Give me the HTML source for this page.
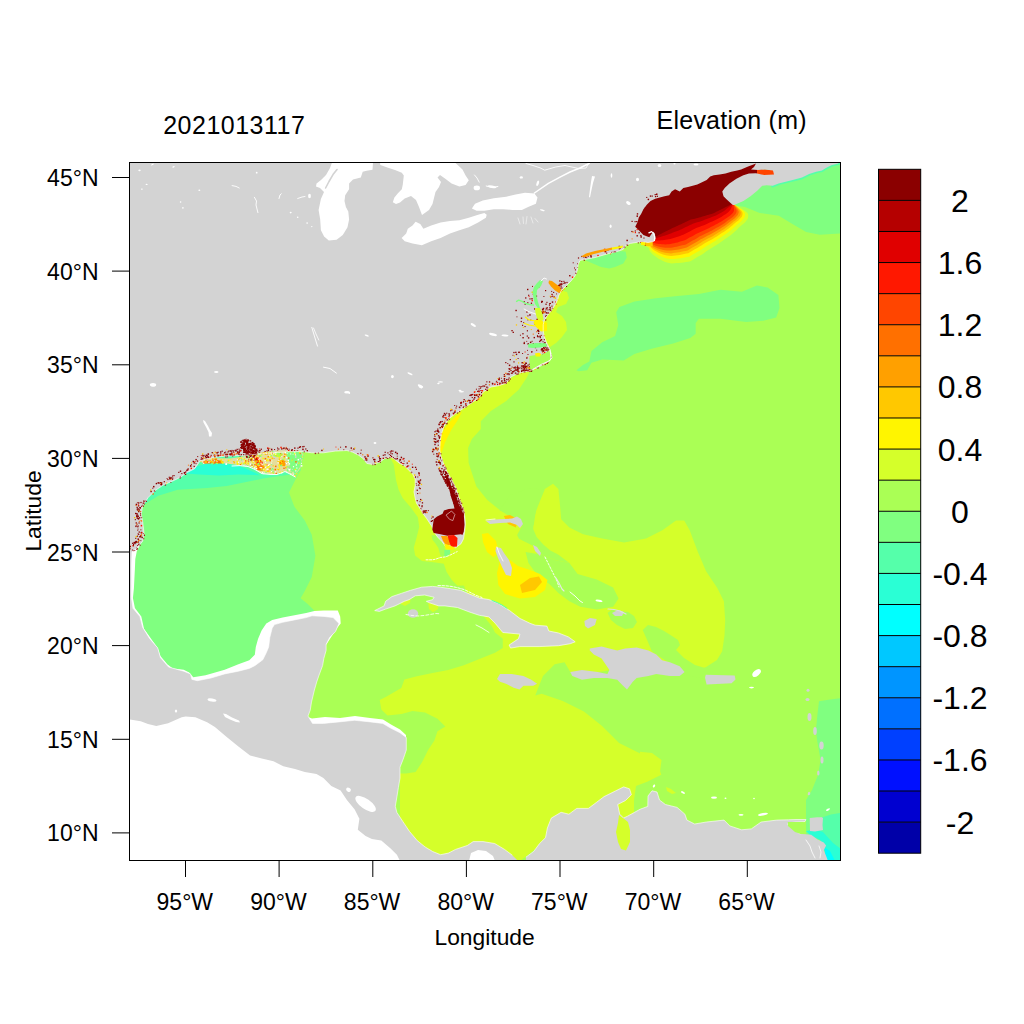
<!DOCTYPE html><html><head><meta charset="utf-8"><style>html,body{margin:0;padding:0;background:#fff;}svg{display:block;}text{font-family:"Liberation Sans",sans-serif;fill:#000;}</style></head><body>
<svg width="1024" height="1024" viewBox="0 0 1024 1024">
<rect width="1024" height="1024" fill="#fff"/>
<defs><clipPath id="pc"><rect x="130" y="163" width="710" height="697"/></clipPath></defs>
<g clip-path="url(#pc)">
<rect x="129" y="162" width="712" height="699" fill="#AAFF55"/>
<path d="M303.1 440.0 L303.1 455.2 L300.8 470.4 L297.8 475.0 L294.3 482.0 L289.0 492.5 L294.3 506.6 L304.8 520.6 L311.8 534.7 L315.4 555.8 L311.8 576.9 L304.8 591.0 L300.6 598.2 L307.4 603.7 L314.3 610.5 L300.0 640.0 L260.0 700.0 L129.0 700.0 L129.0 440.0Z" fill="#80FF80"/>
<path d="M576.4 370.2 L582.9 364.9 L589.3 361.6 L591.5 350.9 L602.2 342.3 L615.1 335.9 L618.3 325.1 L616.2 312.2 L619.4 306.9 L634.4 301.5 L655.9 298.3 L677.4 296.1 L698.9 294.0 L720.4 289.7 L741.9 291.8 L756.9 285.4 L767.6 287.5 L778.4 295.0 L779.5 307.9 L776.2 317.6 L763.3 320.8 L746.2 321.9 L720.4 318.7 L698.9 318.7 L695.7 323.0 L695.7 333.7 L690.3 338.0 L673.1 343.4 L651.6 348.7 L634.4 354.1 L623.7 360.6 L602.2 359.5 L591.5 362.7 L587.2 370.2 L578.6 371.3Z" fill="#80FF80"/>
<path d="M585.8 258.7 L595.2 257.5 L609.2 254.0 L618.6 251.1 L625.6 251.6 L626.8 257.5 L623.3 263.4 L615.1 266.9 L609.2 268.6 L601.0 266.9 L592.8 263.4 L585.8 260.4Z" fill="#80FF80"/>
<path d="M732.0 205.0 L745.0 207.0 L759.6 213.0 L778.8 215.7 L792.4 223.9 L806.1 232.1 L819.8 234.8 L841.0 233.5 L841.0 162.0 L760.0 162.0Z" fill="#80FF80"/>
<path d="M819.0 701.3 L828.4 699.7 L841.0 698.0 L841.0 840.0 L806.0 840.0 L806.0 800.0 L812.0 790.0 L818.0 775.0 L820.6 760.0 L817.0 740.0 L816.0 729.4 L817.5 713.8Z" fill="#80FF80"/>
<path d="M134.0 520.0 L142.7 505.5 L158.3 495.7 L177.8 489.8 L207.1 487.9 L226.7 485.9 L246.2 482.0 L265.7 478.1 L285.3 475.2 L295.0 474.2 L295.0 450.0 L134.0 450.0Z" fill="#55FFAA"/>
<path d="M185.6 472.3 L195.0 467.0 L207.1 463.5 L220.8 462.5 L238.4 465.4 L254.0 472.3 L259.9 475.2 L238.4 474.4 L218.8 475.4 L199.3 474.4 L185.6 473.4Z" fill="#2AFFD5"/>
<path d="M540.0 365.0 L530.3 370.5 L526.5 378.1 L518.9 389.5 L506.2 400.9 L490.9 411.1 L480.8 421.2 L480.8 428.9 L471.9 439.0 L468.1 447.9 L468.6 462.7 L470.9 470.0 L476.4 486.4 L487.3 500.1 L501.0 511.0 L514.7 519.2 L528.4 532.9 L533.8 524.7 L536.6 505.5 L544.8 489.1 L553.0 483.7 L558.4 489.1 L559.8 502.8 L561.2 519.2 L569.4 527.4 L583.1 534.3 L602.2 538.4 L624.1 542.5 L646.0 538.4 L662.4 530.2 L676.0 520.6 L684.2 520.6 L689.7 530.2 L697.9 552.0 L706.1 571.2 L717.0 587.6 L723.9 601.3 L725.2 620.4 L724.5 635.6 L722.2 651.3 L717.0 660.0 L706.1 666.9 L692.4 672.4 L684.6 672.0 L640.0 665.0 L582.0 675.0 L570.3 672.0 L564.5 662.3 L554.7 664.2 L543.0 675.9 L535.2 695.5 L541.7 693.8 L562.8 700.9 L583.9 711.4 L601.5 725.5 L619.1 743.1 L640.2 753.6 L657.8 764.2 L661.3 774.7 L647.2 781.7 L636.0 786.0 L634.0 800.0 L634.0 815.0 L620.0 830.0 L560.0 830.0 L520.0 861.0 L470.0 861.0 L420.0 850.0 L400.0 820.0 L400.0 773.4 L406.3 773.4 L415.6 771.9 L421.9 762.5 L428.1 750.0 L434.4 740.6 L437.5 731.3 L445.3 726.6 L437.5 718.8 L425.0 712.5 L412.5 710.9 L401.6 714.1 L387.5 715.6 L381.3 709.4 L379.7 700.0 L385.7 697.0 L401.3 688.0 L404.4 679.4 L416.9 676.3 L432.5 673.1 L448.1 670.0 L463.8 665.3 L479.4 659.1 L495.0 652.8 L502.8 648.1 L502.8 638.8 L495.0 632.5 L491.9 626.3 L470.0 600.0 L463.8 585.6 L457.5 585.7 L452.0 580.2 L446.6 572.0 L443.8 563.8 L435.6 562.5 L422.0 561.1 L415.1 555.6 L413.8 547.4 L416.5 537.9 L419.2 526.9 L417.9 517.3 L411.0 507.8 L402.8 498.2 L398.7 490.0 L396.0 480.0 L393.8 464.5 L390.2 457.5 L420.0 440.0 L460.0 400.0Z" fill="#D5FF2A"/>
<path d="M525.6 552.0 L542.0 554.8 L555.7 560.2 L569.4 563.0 L577.6 573.9 L596.7 579.4 L613.1 587.6 L618.6 598.5 L613.1 606.7 L596.7 609.5 L580.3 606.7 L569.4 601.3 L558.4 593.1 L550.2 584.8 L536.6 573.9 L528.4 563.0Z" fill="#AAFF55"/>
<path d="M431.4 535.2 L437.3 535.2 L441.4 539.3 L444.3 544.6 L444.9 549.3 L448.1 550.9 L450.1 549.3 L450.1 552.8 L447.8 556.3 L444.3 557.5 L440.8 556.3 L439.6 552.8 L438.4 548.1 L435.5 543.4 L432.6 539.9Z" fill="#AAFF55"/>
<path d="M444.3 549.9 L450.1 549.9 L450.1 554.0 L447.0 556.3 L444.3 556.0Z" fill="#80FF80"/>
<path d="M607.6 613.0 L612.0 609.5 L620.0 611.0 L628.0 612.0 L634.0 616.0 L637.0 622.0 L633.0 628.0 L625.0 629.0 L617.0 625.0 L611.0 620.0Z" fill="#AAFF55"/>
<path d="M642.7 630.0 L648.0 625.0 L656.0 627.0 L664.0 631.0 L672.0 636.0 L678.0 640.0 L680.0 645.0 L676.0 650.0 L684.0 658.0 L695.0 665.0 L705.0 668.0 L712.0 671.0 L712.0 680.0 L684.6 675.0 L672.0 664.5 L660.0 657.0 L652.0 651.6 L648.0 642.0Z" fill="#AAFF55"/>
<path d="M401.0 600.0 L406.0 597.5 L410.6 598.5 L410.0 603.0 L405.0 606.0 L401.0 604.0Z" fill="#D5FF2A"/>
<path d="M428.0 601.5 L434.0 601.0 L438.8 603.0 L438.0 609.0 L433.0 612.2 L429.0 609.0Z" fill="#D5FF2A"/>
<path d="M499.5 510.5 L505.0 511.5 L512.0 513.5 L518.0 517.0 L523.0 524.2 L517.1 534.9 L519.0 538.8 L524.9 541.8 L538.6 548.6 L545.0 552.0 L558.1 554.5 L550.3 550.5 L543.5 544.7 L536.6 536.9 L533.2 529.1 L533.7 519.3 L536.6 509.5 L540.5 499.8 L544.5 490.0 L530.0 488.0 L510.0 495.0Z" fill="#AAFF55"/>
<path d="M538.6 548.6 L558.1 554.5 L569.4 563.0 L555.7 560.2 L542.0 554.8 L536.0 553.0Z" fill="#AAFF55"/>
<path d="M560.0 290.0 L567.0 292.0 L569.0 298.0 L566.0 304.0 L558.0 307.0 L556.0 312.0 L562.0 316.0 L566.0 322.0 L567.0 330.0 L562.0 337.0 L556.0 343.0 L550.0 347.0 L545.0 345.0 L543.0 335.0 L545.0 315.0 L552.0 300.0Z" fill="#D5FF2A"/>
<path d="M640.0 751.7 L652.0 753.0 L661.5 760.0 L660.0 772.0 L650.0 780.0 L640.0 781.0Z" fill="#D5FF2A"/>
<path d="M462.2 411.2 L457.5 420.6 L451.2 430.0 L445.0 442.5 L441.9 451.9 L440.3 453.4 L438.8 445.6 L441.9 433.1 L448.1 423.8 L455.9 416.0Z" fill="#FFF500"/>
<path d="M481.9 534.0 L488.0 533.0 L496.0 541.0 L498.3 550.0 L494.0 557.5 L487.0 552.0 L483.0 542.0Z" fill="#FFF500"/>
<path d="M500.0 560.0 L510.0 560.0 L518.0 566.0 L530.0 570.0 L540.0 574.0 L547.5 580.0 L545.0 590.0 L535.0 597.0 L520.0 598.5 L505.0 594.0 L498.3 585.0 L497.0 573.0Z" fill="#FFF500"/>
<path d="M520.0 585.0 L530.0 578.0 L539.0 576.6 L542.0 582.0 L535.0 590.0 L522.0 593.0Z" fill="#FFC800"/>
<path d="M503.8 516.0 L510.0 515.0 L517.4 519.0 L516.0 527.4 L508.0 524.0Z" fill="#FFC800"/>
<path d="M534.4 321.0 L541.0 319.0 L547.1 323.0 L546.0 330.5 L538.0 331.0 L534.4 326.0Z" fill="#FFF500"/>
<path d="M734.5 204.7 L736.6 205.9 L738.7 207.0 L740.7 208.3 L742.8 209.5 L744.8 210.8 L746.7 212.2 L748.1 214.1 L748.3 216.3 L747.8 218.7 L746.4 220.6 L744.9 222.5 L743.1 224.0 L741.2 225.6 L739.5 227.1 L737.8 228.8 L736.1 230.5 L734.3 232.1 L732.4 233.7 L730.6 235.2 L728.7 236.6 L726.7 237.9 L724.7 239.3 L722.8 240.7 L720.9 242.1 L718.9 243.5 L716.9 244.8 L714.8 246.0 L712.8 247.3 L710.8 248.6 L708.8 249.8 L706.7 251.1 L704.8 252.5 L702.8 253.9 L700.8 255.2 L698.7 256.3 L696.6 257.5 L694.6 258.7 L692.6 260.1 L690.6 261.3 L688.2 261.7 L685.9 262.1 L683.5 262.5 L681.1 262.8 L678.8 263.0 L676.4 263.1 L674.0 263.3 L671.6 263.4 L669.2 262.9 L666.9 262.4 L664.6 261.7 L662.5 260.7 L660.3 259.6 L658.2 258.5 L656.3 257.1 L654.4 255.7 L652.5 254.2 L650.9 252.4 L649.5 250.5 L648.9 248.2 L646.0 246.0 L630.0 235.0 L640.0 190.0 L700.0 170.0 L745.0 162.0 L762.0 162.0 L762.0 176.0 L745.0 195.0Z" fill="#D5FF2A"/>
<path d="M734.2 204.6 L735.9 205.7 L737.5 206.8 L739.2 208.0 L740.8 209.1 L742.4 210.3 L743.9 211.7 L745.0 213.4 L745.0 215.4 L744.4 217.6 L743.0 219.3 L741.5 221.0 L739.8 222.5 L738.0 223.9 L736.3 225.4 L734.6 226.9 L733.0 228.4 L731.3 229.9 L729.5 231.3 L727.7 232.7 L725.8 233.9 L723.9 235.2 L722.1 236.5 L720.2 237.7 L718.3 239.0 L716.4 240.3 L714.5 241.4 L712.5 242.6 L710.6 243.7 L708.6 244.9 L706.7 246.0 L704.7 247.2 L702.9 248.5 L701.0 249.8 L699.1 251.0 L697.1 252.1 L695.1 253.2 L693.1 254.3 L691.2 255.5 L689.3 256.7 L687.1 257.1 L684.8 257.5 L682.6 257.9 L680.4 258.3 L678.1 258.5 L675.9 258.7 L673.6 258.9 L671.4 259.1 L669.2 258.8 L667.0 258.4 L664.8 257.9 L662.8 257.1 L660.7 256.3 L658.7 255.3 L656.9 254.2 L655.0 253.0 L653.2 251.9 L651.7 250.3 L650.3 248.8 L649.6 246.8 L646.0 246.0 L630.0 235.0 L640.0 190.0 L700.0 170.0 L745.0 162.0 L762.0 162.0 L762.0 176.0 L745.0 195.0Z" fill="#FFF500"/>
<path d="M734.0 204.5 L735.3 205.6 L736.7 206.6 L738.0 207.7 L739.3 208.9 L740.6 210.0 L741.8 211.3 L742.6 212.9 L742.5 214.7 L741.8 216.7 L740.4 218.3 L739.0 219.9 L737.3 221.3 L735.6 222.6 L733.9 224.0 L732.3 225.4 L730.6 226.8 L729.0 228.2 L727.2 229.5 L725.5 230.8 L723.7 231.9 L721.8 233.1 L720.0 234.3 L718.2 235.5 L716.4 236.7 L714.5 237.8 L712.7 238.9 L710.8 239.9 L708.9 241.0 L707.0 242.0 L705.1 243.1 L703.2 244.2 L701.4 245.4 L699.6 246.6 L697.7 247.8 L695.8 248.8 L693.9 249.8 L692.0 250.9 L690.2 252.1 L688.3 253.2 L686.2 253.6 L684.1 254.1 L681.9 254.5 L679.8 254.9 L677.7 255.2 L675.5 255.4 L673.4 255.7 L671.2 255.9 L669.1 255.7 L667.0 255.4 L664.9 255.0 L663.0 254.4 L661.0 253.7 L659.1 252.9 L657.3 252.0 L655.5 251.0 L653.8 250.0 L652.3 248.8 L650.9 247.5 L650.2 245.8 L646.0 246.0 L630.0 235.0 L640.0 190.0 L700.0 170.0 L745.0 162.0 L762.0 162.0 L762.0 176.0 L745.0 195.0Z" fill="#FFC800"/>
<path d="M733.8 204.5 L734.9 205.5 L736.0 206.5 L737.1 207.5 L738.1 208.6 L739.2 209.7 L740.1 210.9 L740.8 212.5 L740.5 214.2 L739.8 216.0 L738.4 217.6 L737.0 219.1 L735.3 220.4 L733.6 221.6 L732.0 222.9 L730.4 224.3 L728.8 225.6 L727.1 226.8 L725.4 228.1 L723.8 229.3 L722.0 230.3 L720.2 231.4 L718.4 232.5 L716.6 233.7 L714.9 234.8 L713.1 235.9 L711.2 236.9 L709.4 237.8 L707.5 238.8 L705.7 239.8 L703.8 240.8 L702.0 241.8 L700.3 243.0 L698.5 244.1 L696.7 245.2 L694.8 246.2 L693.0 247.2 L691.1 248.2 L689.3 249.4 L687.6 250.5 L685.5 250.9 L683.5 251.3 L681.4 251.8 L679.4 252.2 L677.3 252.5 L675.2 252.8 L673.2 253.1 L671.1 253.4 L669.1 253.2 L667.0 253.1 L665.0 252.8 L663.1 252.2 L661.2 251.7 L659.4 251.0 L657.7 250.2 L655.9 249.5 L654.2 248.6 L652.7 247.5 L651.3 246.4 L650.6 245.0 L646.0 246.0 L630.0 235.0 L640.0 190.0 L700.0 170.0 L745.0 162.0 L762.0 162.0 L762.0 176.0 L745.0 195.0Z" fill="#FFA000"/>
<path d="M733.6 204.4 L734.5 205.4 L735.3 206.4 L736.1 207.3 L736.9 208.4 L737.7 209.4 L738.3 210.6 L738.8 212.0 L738.4 213.6 L737.6 215.3 L736.2 216.7 L734.8 218.2 L733.2 219.4 L731.6 220.6 L730.0 221.8 L728.4 223.1 L726.8 224.3 L725.2 225.4 L723.6 226.5 L721.9 227.6 L720.1 228.7 L718.4 229.7 L716.7 230.7 L715.0 231.7 L713.2 232.8 L711.5 233.8 L709.7 234.7 L707.9 235.6 L706.1 236.5 L704.3 237.5 L702.5 238.4 L700.7 239.3 L699.0 240.4 L697.3 241.5 L695.6 242.5 L693.8 243.5 L692.0 244.4 L690.2 245.4 L688.5 246.5 L686.7 247.5 L684.8 248.0 L682.8 248.4 L680.8 248.9 L678.9 249.4 L676.9 249.7 L674.9 250.0 L672.9 250.3 L671.0 250.6 L669.0 250.6 L667.1 250.5 L665.2 250.3 L663.3 249.9 L661.5 249.5 L659.7 249.0 L658.0 248.4 L656.3 247.8 L654.7 247.1 L653.2 246.2 L651.9 245.3 L651.0 244.2 L646.0 246.0 L630.0 235.0 L640.0 190.0 L700.0 170.0 L745.0 162.0 L762.0 162.0 L762.0 176.0 L745.0 195.0Z" fill="#FF7000"/>
<path d="M733.4 204.3 L734.0 205.3 L734.5 206.2 L735.0 207.1 L735.5 208.1 L736.0 209.1 L736.5 210.2 L736.6 211.5 L736.2 213.0 L735.3 214.6 L733.9 215.9 L732.5 217.2 L731.0 218.3 L729.4 219.4 L727.8 220.6 L726.3 221.8 L724.8 222.9 L723.2 223.9 L721.5 224.9 L719.9 225.9 L718.2 226.9 L716.5 227.8 L714.8 228.8 L713.2 229.7 L711.5 230.7 L709.8 231.6 L708.1 232.5 L706.3 233.3 L704.6 234.1 L702.8 234.9 L701.1 235.8 L699.4 236.6 L697.7 237.7 L696.1 238.7 L694.4 239.7 L692.6 240.6 L690.9 241.5 L689.2 242.4 L687.5 243.4 L685.9 244.4 L684.0 244.9 L682.1 245.3 L680.2 245.8 L678.4 246.3 L676.5 246.7 L674.6 247.0 L672.7 247.4 L670.8 247.8 L669.0 247.8 L667.1 247.8 L665.3 247.7 L663.5 247.5 L661.8 247.2 L660.1 246.9 L658.4 246.4 L656.8 246.0 L655.2 245.5 L653.8 244.8 L652.4 244.2 L651.5 243.2 L646.0 246.0 L630.0 235.0 L640.0 190.0 L700.0 170.0 L745.0 162.0 L762.0 162.0 L762.0 176.0 L745.0 195.0Z" fill="#FF4500"/>
<path d="M733.2 204.2 L733.4 205.1 L733.5 206.0 L733.7 206.9 L733.8 207.8 L734.0 208.7 L734.0 209.7 L733.9 210.9 L733.3 212.2 L732.3 213.6 L731.0 214.7 L729.6 215.9 L728.1 217.0 L726.6 218.0 L725.1 219.0 L723.6 220.1 L722.1 221.0 L720.5 221.9 L718.9 222.8 L717.4 223.7 L715.7 224.6 L714.1 225.4 L712.5 226.2 L710.9 227.1 L709.2 227.9 L707.6 228.7 L706.0 229.5 L704.3 230.2 L702.6 231.0 L700.9 231.7 L699.3 232.4 L697.6 233.2 L696.0 234.1 L694.4 235.1 L692.8 236.0 L691.2 236.8 L689.5 237.6 L687.9 238.5 L686.3 239.4 L684.7 240.3 L683.0 240.8 L681.2 241.3 L679.4 241.8 L677.7 242.4 L675.9 242.8 L674.1 243.2 L672.4 243.6 L670.6 244.0 L668.9 244.2 L667.1 244.3 L665.4 244.4 L663.8 244.3 L662.1 244.2 L660.5 244.1 L658.9 243.9 L657.4 243.7 L655.8 243.4 L654.4 243.0 L653.1 242.6 L652.1 242.0 L646.0 246.0 L630.0 235.0 L640.0 190.0 L700.0 170.0 L745.0 162.0 L762.0 162.0 L762.0 176.0 L745.0 195.0Z" fill="#FF1800"/>
<path d="M732.8 204.1 L732.5 204.9 L732.2 205.7 L731.8 206.5 L731.5 207.3 L731.1 208.1 L730.7 209.0 L730.2 210.0 L729.3 211.1 L728.2 212.2 L726.9 213.2 L725.6 214.2 L724.1 215.1 L722.7 216.0 L721.3 216.9 L719.8 217.8 L718.4 218.5 L716.9 219.3 L715.4 220.0 L713.9 220.7 L712.3 221.4 L710.8 222.1 L709.2 222.8 L707.7 223.5 L706.2 224.2 L704.6 224.9 L703.1 225.5 L701.5 226.1 L699.9 226.7 L698.3 227.3 L696.8 227.8 L695.2 228.5 L693.7 229.3 L692.2 230.1 L690.7 230.9 L689.2 231.7 L687.7 232.4 L686.2 233.2 L684.7 234.0 L683.2 234.8 L681.6 235.3 L680.0 235.9 L678.4 236.4 L676.8 237.0 L675.2 237.4 L673.6 237.9 L672.0 238.4 L670.4 238.9 L668.8 239.2 L667.2 239.6 L665.6 239.8 L664.1 240.0 L662.6 240.2 L661.1 240.3 L659.6 240.4 L658.1 240.5 L656.7 240.5 L655.4 240.5 L654.1 240.5 L653.0 240.4 L646.0 246.0 L630.0 235.0 L640.0 190.0 L700.0 170.0 L745.0 162.0 L762.0 162.0 L762.0 176.0 L745.0 195.0Z" fill="#E00000"/>
<path d="M732.5 204.0 L731.6 204.7 L730.8 205.4 L729.9 206.1 L729.1 206.9 L728.2 207.6 L727.3 208.3 L726.4 209.1 L725.3 210.0 L724.1 210.9 L722.8 211.7 L721.5 212.5 L720.1 213.2 L718.8 214.0 L717.4 214.7 L716.1 215.4 L714.6 216.0 L713.2 216.6 L711.8 217.1 L710.3 217.7 L708.9 218.2 L707.4 218.7 L706.0 219.3 L704.5 219.8 L703.1 220.4 L701.6 220.9 L700.2 221.4 L698.7 221.9 L697.2 222.3 L695.7 222.8 L694.2 223.2 L692.8 223.7 L691.4 224.4 L690.0 225.1 L688.6 225.8 L687.2 226.4 L685.8 227.1 L684.4 227.8 L683.0 228.5 L681.6 229.2 L680.2 229.8 L678.7 230.4 L677.3 230.9 L675.8 231.5 L674.4 232.1 L673.0 232.6 L671.5 233.2 L670.1 233.8 L668.7 234.3 L667.3 234.8 L665.8 235.2 L664.5 235.7 L663.1 236.1 L661.7 236.5 L660.3 236.9 L658.9 237.3 L657.6 237.7 L656.3 238.0 L655.0 238.4 L653.9 238.8 L646.0 246.0 L630.0 235.0 L640.0 190.0 L700.0 170.0 L745.0 162.0 L762.0 162.0 L762.0 176.0 L745.0 195.0Z" fill="#B50000"/>
<path d="M732.2 203.9 L730.9 204.5 L729.6 205.2 L728.3 205.8 L727.1 206.5 L725.8 207.1 L724.5 207.8 L723.2 208.4 L721.9 209.1 L720.6 209.7 L719.3 210.3 L718.1 211.0 L716.8 211.6 L715.5 212.3 L714.2 212.9 L712.9 213.5 L711.5 213.9 L710.1 214.3 L708.7 214.7 L707.4 215.1 L706.0 215.5 L704.6 215.9 L703.2 216.3 L701.8 216.8 L700.5 217.2 L699.1 217.6 L697.7 218.0 L696.3 218.3 L694.9 218.7 L693.5 219.0 L692.1 219.3 L690.7 219.6 L689.4 220.2 L688.1 220.8 L686.8 221.5 L685.5 222.1 L684.2 222.7 L682.9 223.3 L681.6 223.9 L680.3 224.5 L679.0 225.1 L677.7 225.7 L676.4 226.3 L675.1 226.9 L673.8 227.5 L672.5 228.1 L671.2 228.8 L669.9 229.4 L668.6 230.0 L667.3 230.7 L666.0 231.3 L664.7 232.0 L663.5 232.6 L662.2 233.3 L660.9 233.9 L659.6 234.6 L658.3 235.2 L657.1 235.9 L655.8 236.7 L654.6 237.4 L646.0 246.0 L630.0 235.0 L640.0 190.0 L700.0 170.0 L745.0 162.0 L762.0 162.0 L762.0 176.0 L745.0 195.0Z" fill="#8B0000"/>
<path d="M757.0 169.3 L765.0 169.3 L774.5 170.3 L774.5 175.0 L765.0 175.3 L757.0 174.0Z" fill="#FF4500"/>
<path d="M772.7 185.8 L778.6 183.4 L785.6 181.7 L792.7 179.9 L802.0 177.6 L809.1 174.1 L816.1 171.7 L822.0 170.5 L825.5 168.2 L831.3 165.3 L838.4 163.5" fill="none" stroke="#55FFAA" stroke-width="3.2" stroke-linejoin="round" stroke-linecap="round"/>
<path d="M645.7 241.2 L652.7 241.5 L652.7 246.3 L645.7 246.0Z" fill="#FFC800"/>
<path d="M641.0 242.0 L645.7 241.8 L645.7 245.6 L641.0 245.0Z" fill="#FFF500"/>
<path d="M129.0 719.3 L140.7 721.3 L148.0 724.0 L156.3 726.1 L168.1 723.2 L181.7 717.3 L185.6 716.4 L195.4 717.3 L207.1 722.2 L214.9 727.1 L226.7 736.9 L238.4 746.6 L250.1 755.4 L261.8 758.4 L273.5 761.3 L283.3 766.2 L295.0 769.1 L304.8 772.0 L316.5 774.0 L323.4 778.1 L331.3 785.9 L340.6 790.6 L346.9 800.0 L354.7 809.4 L359.4 818.8 L357.8 829.7 L365.6 835.9 L371.9 839.1 L381.3 840.6 L390.6 848.4 L396.9 854.7 L400.0 861.0 L129.0 861.0Z" fill="#FFFFFF" stroke="#FFFFFF" stroke-width="2.5" stroke-linejoin="round"/>
<path d="M140.0 545.0 L136.8 551.3 L135.3 559.0 L134.9 568.8 L134.4 578.6 L133.9 588.4 L132.9 598.1 L134.9 607.9 L141.3 616.5 L144.0 628.8 L150.9 638.4 L157.7 647.9 L160.4 656.1 L167.3 664.3 L172.8 668.4 L183.7 669.8 L189.2 672.5 L193.3 677.3 L205.6 675.3 L224.7 669.8 L238.4 664.3 L249.3 660.2 L254.8 654.8 L255.8 646.9 L258.1 638.7 L261.6 630.5 L266.3 623.4 L272.2 619.9 L282.7 617.6 L294.5 615.2 L306.2 612.9 L314.4 611.1 L323.8 610.5 L337.8 610.5 L340.2 616.4 L340.7 623.4 L337.0 628.0 L326.0 645.0 L250.0 700.0 L129.0 700.0 L129.0 545.0Z" fill="#FFFFFF"/>
<path d="M305.0 716.0 L312.0 718.5 L325.0 717.0 L340.0 718.0 L355.0 716.0 L370.0 718.0 L383.0 719.5 L391.0 724.5 L400.0 729.5 L406.0 735.0 L406.0 745.0 L300.0 745.0Z" fill="#FFFFFF"/>
<path d="M129.0 162.0 L838.4 162.0 L838.4 163.5 L831.3 165.3 L825.5 168.2 L822.0 170.5 L816.1 171.7 L809.1 174.1 L802.0 177.6 L792.7 179.9 L785.6 181.7 L778.6 183.4 L772.7 185.8 L766.9 185.2 L762.2 185.8 L757.5 190.5 L750.5 196.3 L743.4 201.0 L734.1 205.1 L732.9 205.1 L731.7 204.0 L727.0 199.8 L723.5 196.3 L722.3 191.6 L724.7 188.1 L729.4 183.4 L736.4 178.8 L743.4 175.2 L749.0 173.5 L756.0 173.3 L764.0 175.0 L774.0 174.6 L773.0 170.5 L765.0 169.5 L758.0 170.0 L751.0 169.5 L754.0 167.0 L756.0 163.5 L752.8 164.7 L748.1 166.4 L741.1 169.4 L737.2 170.5 L731.3 171.7 L725.5 173.5 L719.6 174.6 L713.8 175.2 L710.2 176.4 L706.7 179.9 L702.0 182.3 L697.3 184.6 L692.7 185.8 L688.0 187.0 L683.3 188.1 L679.8 191.6 L675.1 189.3 L671.6 191.6 L669.2 195.2 L664.5 196.3 L659.8 197.5 L655.2 198.7 L650.5 201.0 L647.0 204.5 L643.4 209.2 L641.1 213.9 L638.8 217.4 L637.6 222.1 L635.2 226.8 L638.8 230.3 L643.4 235.0 L649.3 237.3 L651.5 234.0 L653.5 231.8 L655.0 234.0 L655.3 238.5 L653.5 241.5 L648.0 242.5 L642.0 241.5 L630.3 243.4 L625.6 245.5 L623.3 249.3 L618.6 251.1 L606.9 254.0 L595.2 257.5 L580.0 260.4 L578.2 264.5 L577.5 270.0 L575.0 276.0 L571.0 281.0 L566.0 286.0 L561.0 291.0 L558.5 296.0 L557.9 299.3 L554.9 305.2 L551.0 311.0 L547.1 315.9 L544.2 320.8 L543.2 324.7 L543.2 330.5 L544.2 336.4 L546.1 341.3 L548.1 347.1 L551.0 353.0 L552.0 357.9 L549.1 360.8 L544.3 364.1 L534.1 369.2 L529.0 371.1 L518.9 373.0 L511.2 376.8 L506.2 383.2 L498.6 385.7 L490.9 387.0 L483.3 392.0 L478.2 398.4 L470.6 403.5 L463.0 408.6 L455.4 413.6 L449.0 418.7 L444.0 426.3 L441.4 433.9 L440.2 441.6 L439.8 450.0 L440.6 455.1 L443.2 462.7 L447.0 471.6 L452.1 480.5 L455.9 488.1 L458.4 495.7 L460.9 503.3 L463.5 509.7 L464.7 516.0 L465.4 523.6 L464.7 531.3 L463.5 538.9 L460.9 543.9 L457.1 546.5 L455.9 547.8 L450.8 547.8 L445.7 546.5 L441.9 541.4 L438.1 537.6 L434.3 532.5 L431.7 526.2 L429.2 522.4 L426.7 518.6 L422.9 513.5 L419.0 507.1 L416.5 503.3 L415.2 498.2 L414.0 491.9 L415.2 485.5 L415.2 479.2 L412.7 474.1 L408.9 470.3 L403.8 465.2 L399.6 463.4 L393.8 458.7 L390.2 456.9 L384.4 458.7 L379.7 462.2 L372.7 464.5 L366.8 463.4 L363.3 458.7 L358.6 455.2 L352.7 452.2 L346.9 450.5 L335.2 451.1 L323.4 452.8 L311.7 452.8 L303.1 451.6 L293.8 451.6 L270.3 452.8 L246.9 455.2 L223.4 456.3 L210.0 458.0 L200.0 461.0 L194.7 468.7 L186.5 472.8 L181.0 476.9 L172.8 481.0 L163.2 485.1 L155.0 490.6 L148.2 497.5 L142.7 505.7 L141.3 513.9 L142.7 522.1 L144.0 533.0 L142.7 541.2 L137.0 548.0 L132.0 552.0 L131.5 565.0 L131.5 580.0 L131.3 597.3 L133.0 608.3 L139.9 616.5 L142.7 627.4 L149.5 638.4 L157.7 647.9 L160.4 657.5 L168.6 667.1 L183.7 671.2 L190.5 673.9 L191.9 679.4 L197.4 680.7 L211.0 678.0 L224.7 673.9 L238.4 671.2 L249.3 668.4 L254.8 665.7 L262.8 659.8 L266.3 652.7 L268.7 646.9 L269.8 637.5 L272.2 628.1 L274.5 624.6 L282.7 622.3 L294.5 619.9 L306.2 617.6 L312.0 615.8 L323.8 616.4 L333.1 617.6 L339.0 623.4 L335.5 631.6 L329.6 637.5 L326.1 644.5 L326.1 650.4 L323.8 658.6 L322.6 665.6 L319.1 675.0 L316.7 682.0 L314.4 690.0 L311.5 702.1 L310.2 710.3 L308.0 716.0 L312.5 723.4 L323.4 723.4 L339.0 721.9 L354.7 720.3 L370.3 721.9 L382.8 723.4 L390.6 728.1 L400.0 732.8 L406.3 737.5 L406.3 750.0 L403.1 759.4 L400.0 767.2 L400.0 778.1 L398.4 787.5 L396.9 796.9 L395.3 806.3 L396.9 812.5 L403.1 821.9 L409.4 831.3 L417.2 840.6 L425.0 846.9 L432.8 851.6 L440.6 854.7 L448.4 853.1 L455.6 849.4 L467.3 845.5 L473.2 841.6 L483.0 841.6 L494.7 843.5 L504.5 849.4 L512.3 855.2 L518.1 861.0 L400.0 861.0 L400.0 861.0 L396.9 854.7 L390.6 848.4 L381.3 840.6 L371.9 839.1 L365.6 835.9 L357.8 829.7 L359.4 818.8 L354.7 809.4 L346.9 800.0 L340.6 790.6 L331.3 785.9 L323.4 778.1 L316.5 774.0 L304.8 772.0 L295.0 769.1 L283.3 766.2 L273.5 761.3 L261.8 758.4 L250.1 755.4 L238.4 746.6 L226.7 736.9 L214.9 727.1 L207.1 722.2 L195.4 717.3 L185.6 716.4 L181.7 717.3 L168.1 723.2 L156.3 726.1 L148.0 724.0 L140.7 721.3 L129.0 719.3 L129.0 719.3Z" fill="#D3D3D3"/>
<path d="M525.9 861.0 L525.9 857.2 L533.8 851.3 L539.6 843.5 L545.5 837.7 L547.4 827.9 L551.3 818.1 L561.1 812.3 L568.9 814.2 L576.7 808.4 L588.4 808.4 L596.3 802.5 L604.1 796.6 L615.8 790.8 L623.6 786.9 L629.5 788.8 L631.4 794.7 L625.5 800.5 L617.7 804.5 L619.7 814.2 L623.6 818.1 L627.5 816.2 L640.0 809.3 L647.8 806.4 L648.0 796.0 L652.0 790.8 L657.0 792.0 L659.5 800.0 L665.4 804.5 L677.1 807.4 L684.9 814.2 L686.9 820.1 L694.7 824.0 L706.4 822.0 L724.0 820.1 L729.8 825.9 L741.6 829.8 L751.3 828.9 L761.1 822.0 L776.7 820.1 L788.4 819.8 L796.0 819.5 L806.0 819.5 L805.0 821.5 L796.0 822.0 L788.0 823.0 L787.8 825.0 L795.0 830.0 L800.0 834.0 L802.7 834.0 L790.0 861.0Z" fill="#D3D3D3"/>
<path d="M374.7 610.6 L384.1 605.9 L385.6 601.3 L391.9 596.6 L401.3 593.4 L410.6 590.3 L421.6 587.2 L432.5 586.4 L440.3 587.2 L451.3 588.8 L460.6 590.3 L470.0 594.2 L479.4 598.1 L488.8 599.5 L498.5 603.5 L509.5 610.5 L520.0 618.5 L530.0 623.3 L535.2 625.2 L546.9 626.1 L548.8 631.0 L558.6 633.0 L568.4 636.9 L575.2 641.8 L570.3 643.7 L558.6 645.7 L539.1 646.6 L519.5 646.6 L510.6 648.1 L509.1 645.0 L518.4 638.8 L520.0 634.1 L502.8 632.5 L495.0 623.1 L488.8 616.9 L479.4 615.3 L470.0 612.2 L457.5 607.5 L445.0 605.9 L438.8 605.9 L429.4 602.8 L426.3 601.3 L432.5 599.7 L434.1 597.3 L424.7 595.0 L415.3 595.8 L409.1 599.7 L404.4 601.3 L395.0 605.9 L385.6 609.1 L379.4 611.4Z" fill="#D3D3D3"/>
<ellipse cx="413" cy="613.5" rx="5.2" ry="4.3" transform="rotate(0 413 613.5)" fill="#D3D3D3"/>
<path d="M497.0 679.0 L500.0 674.0 L511.7 674.0 L523.4 675.9 L531.3 679.8 L537.1 683.8 L533.2 685.7 L523.4 685.7 L519.5 689.6 L513.7 687.7 L505.9 683.8 L500.0 681.8Z" fill="#D3D3D3"/>
<path d="M589.8 648.6 L601.6 646.6 L609.4 648.6 L617.2 650.5 L625.0 648.6 L636.7 647.6 L648.4 650.5 L656.3 654.5 L662.1 660.3 L669.9 662.3 L679.7 666.2 L684.6 672.0 L679.7 675.9 L669.9 675.9 L656.3 674.0 L648.4 675.9 L636.7 677.9 L632.8 681.8 L627.0 689.6 L623.0 685.7 L617.2 679.8 L607.4 677.9 L593.8 677.9 L582.0 679.8 L572.3 675.9 L570.3 672.0 L582.0 670.1 L597.7 672.0 L607.4 674.0 L609.4 670.1 L605.5 664.2 L601.6 658.4 L593.8 654.5 L589.8 650.5Z" fill="#D3D3D3"/>
<path d="M705.8 674.7 L734.7 675.5 L735.5 679.4 L731.6 683.3 L706.6 684.4 L705.0 677.8Z" fill="#D3D3D3"/>
<path d="M486.0 521.0 L495.0 519.5 L505.0 519.0 L512.0 518.5 L517.0 516.5 L521.0 519.0 L523.0 524.0 L520.0 528.0 L517.0 525.0 L510.0 522.5 L500.0 523.0 L490.0 524.0Z" fill="#D3D3D3"/>
<path d="M496.0 547.0 L501.0 548.0 L504.0 553.0 L509.0 560.0 L512.0 568.0 L511.0 576.0 L506.0 575.0 L502.0 567.0 L498.0 558.0 L495.5 551.0Z" fill="#D3D3D3"/>
<path d="M533.0 545.0 L537.0 547.0 L541.0 553.0 L540.0 556.0 L535.0 551.0Z" fill="#D3D3D3"/>
<path d="M584.4 621.0 L590.0 618.0 L596.7 619.0 L595.0 625.0 L588.0 628.6 L585.0 626.0Z" fill="#D3D3D3"/>
<path d="M612.0 613.0 L618.0 610.0 L624.0 612.0 L622.0 616.0 L615.0 616.0Z" fill="#D3D3D3"/>
<ellipse cx="808" cy="690.3" rx="1.5" ry="1.5" transform="rotate(0 808 690.3)" fill="#D3D3D3"/>
<ellipse cx="807.5" cy="699.6" rx="2" ry="1.5" transform="rotate(0 807.5 699.6)" fill="#D3D3D3"/>
<ellipse cx="809.5" cy="717" rx="2" ry="4" transform="rotate(0 809.5 717)" fill="#D3D3D3"/>
<ellipse cx="815" cy="731" rx="1.8" ry="4" transform="rotate(0 815 731)" fill="#D3D3D3"/>
<ellipse cx="821.5" cy="745.5" rx="2.2" ry="4" transform="rotate(0 821.5 745.5)" fill="#D3D3D3"/>
<ellipse cx="822" cy="760" rx="1.5" ry="3.5" transform="rotate(0 822 760)" fill="#D3D3D3"/>
<ellipse cx="818.3" cy="773" rx="1.2" ry="2.5" transform="rotate(0 818.3 773)" fill="#D3D3D3"/>
<path d="M811.9 818.0 L823.6 817.1 L823.0 827.0 L818.0 830.8 L812.0 830.0Z" fill="#D3D3D3"/>
<rect x="437.9" y="431.2" width="1.5" height="1.5" fill="#8B0000"/>
<rect x="437.7" y="439.9" width="1.1" height="1.1" fill="#8B0000"/>
<rect x="460.3" y="403.0" width="1.1" height="1.1" fill="#8B0000"/>
<rect x="481.0" y="391.9" width="1.3" height="1.3" fill="#8B0000"/>
<rect x="433.3" y="453.7" width="1.0" height="1.0" fill="#8B0000"/>
<rect x="537.8" y="361.0" width="1.5" height="1.5" fill="#8B0000"/>
<rect x="459.5" y="407.3" width="0.9" height="0.9" fill="#8B0000"/>
<rect x="441.0" y="425.9" width="1.4" height="1.4" fill="#FFC800"/>
<rect x="537.4" y="367.4" width="1.1" height="1.1" fill="#8B0000"/>
<rect x="476.0" y="399.6" width="1.4" height="1.4" fill="#8B0000"/>
<rect x="443.8" y="412.8" width="1.1" height="1.1" fill="#8B0000"/>
<rect x="539.2" y="357.8" width="1.2" height="1.2" fill="#8B0000"/>
<rect x="439.5" y="427.0" width="1.4" height="1.4" fill="#8B0000"/>
<rect x="497.0" y="384.1" width="1.1" height="1.1" fill="#8B0000"/>
<rect x="438.4" y="468.1" width="1.5" height="1.5" fill="#8B0000"/>
<rect x="435.1" y="441.3" width="1.0" height="1.0" fill="#8B0000"/>
<rect x="439.4" y="462.0" width="1.4" height="1.4" fill="#8B0000"/>
<rect x="438.7" y="452.2" width="1.1" height="1.1" fill="#8B0000"/>
<rect x="482.6" y="385.2" width="1.0" height="1.0" fill="#8B0000"/>
<rect x="439.2" y="436.3" width="1.0" height="1.0" fill="#8B0000"/>
<rect x="468.1" y="399.7" width="1.2" height="1.2" fill="#8B0000"/>
<rect x="456.1" y="405.6" width="1.1" height="1.1" fill="#8B0000"/>
<rect x="435.7" y="448.6" width="1.3" height="1.3" fill="#FFC800"/>
<rect x="524.8" y="366.7" width="1.5" height="1.5" fill="#8B0000"/>
<rect x="478.4" y="391.1" width="1.3" height="1.3" fill="#FF1800"/>
<rect x="476.9" y="395.6" width="0.9" height="0.9" fill="#8B0000"/>
<rect x="550.5" y="356.6" width="1.1" height="1.1" fill="#8B0000"/>
<rect x="543.5" y="342.8" width="1.3" height="1.3" fill="#8B0000"/>
<rect x="435.1" y="441.7" width="1.4" height="1.4" fill="#8B0000"/>
<rect x="469.2" y="399.9" width="1.3" height="1.3" fill="#FF1800"/>
<rect x="473.9" y="394.7" width="1.0" height="1.0" fill="#8B0000"/>
<rect x="546.6" y="343.9" width="1.4" height="1.4" fill="#8B0000"/>
<rect x="460.4" y="401.8" width="1.5" height="1.5" fill="#FF1800"/>
<rect x="525.9" y="365.9" width="1.1" height="1.1" fill="#8B0000"/>
<rect x="505.2" y="382.4" width="1.5" height="1.5" fill="#8B0000"/>
<rect x="514.7" y="366.4" width="1.1" height="1.1" fill="#8B0000"/>
<rect x="476.4" y="394.1" width="1.5" height="1.5" fill="#FF7000"/>
<rect x="524.6" y="366.5" width="1.4" height="1.4" fill="#8B0000"/>
<rect x="441.6" y="420.9" width="1.2" height="1.2" fill="#8B0000"/>
<rect x="537.2" y="360.8" width="1.0" height="1.0" fill="#8B0000"/>
<rect x="537.8" y="363.8" width="1.1" height="1.1" fill="#8B0000"/>
<rect x="495.8" y="381.5" width="1.0" height="1.0" fill="#8B0000"/>
<rect x="443.6" y="469.1" width="1.1" height="1.1" fill="#8B0000"/>
<rect x="442.5" y="423.0" width="1.4" height="1.4" fill="#FF7000"/>
<rect x="437.6" y="441.3" width="1.2" height="1.2" fill="#8B0000"/>
<rect x="535.7" y="362.7" width="1.1" height="1.1" fill="#8B0000"/>
<rect x="436.3" y="455.6" width="1.3" height="1.3" fill="#8B0000"/>
<rect x="544.4" y="342.0" width="1.1" height="1.1" fill="#8B0000"/>
<rect x="504.1" y="380.0" width="1.3" height="1.3" fill="#8B0000"/>
<rect x="440.1" y="458.4" width="0.9" height="0.9" fill="#8B0000"/>
<rect x="438.6" y="452.8" width="1.5" height="1.5" fill="#FFC800"/>
<rect x="528.5" y="366.6" width="1.2" height="1.2" fill="#8B0000"/>
<rect x="542.1" y="351.8" width="1.0" height="1.0" fill="#FF7000"/>
<rect x="444.3" y="422.7" width="1.4" height="1.4" fill="#8B0000"/>
<rect x="482.2" y="391.3" width="1.0" height="1.0" fill="#FFC800"/>
<rect x="545.5" y="343.3" width="1.1" height="1.1" fill="#8B0000"/>
<rect x="443.2" y="465.1" width="1.1" height="1.1" fill="#8B0000"/>
<rect x="448.4" y="418.5" width="1.3" height="1.3" fill="#8B0000"/>
<rect x="511.8" y="372.5" width="1.2" height="1.2" fill="#8B0000"/>
<rect x="443.1" y="414.7" width="1.3" height="1.3" fill="#8B0000"/>
<rect x="469.2" y="402.3" width="1.3" height="1.3" fill="#8B0000"/>
<rect x="437.4" y="447.6" width="1.4" height="1.4" fill="#FFC800"/>
<rect x="515.3" y="372.5" width="1.0" height="1.0" fill="#8B0000"/>
<rect x="478.7" y="394.4" width="1.0" height="1.0" fill="#FF1800"/>
<rect x="546.7" y="344.4" width="1.3" height="1.3" fill="#8B0000"/>
<rect x="435.2" y="433.9" width="1.2" height="1.2" fill="#FFC800"/>
<rect x="518.5" y="367.6" width="1.2" height="1.2" fill="#8B0000"/>
<rect x="469.3" y="394.8" width="1.2" height="1.2" fill="#8B0000"/>
<rect x="513.8" y="367.6" width="0.9" height="0.9" fill="#8B0000"/>
<rect x="523.5" y="371.5" width="1.0" height="1.0" fill="#8B0000"/>
<rect x="436.5" y="440.6" width="1.4" height="1.4" fill="#8B0000"/>
<rect x="503.7" y="378.0" width="1.5" height="1.5" fill="#8B0000"/>
<rect x="508.1" y="380.1" width="1.4" height="1.4" fill="#8B0000"/>
<rect x="435.5" y="448.3" width="1.4" height="1.4" fill="#FF7000"/>
<rect x="504.3" y="375.6" width="1.4" height="1.4" fill="#FF7000"/>
<rect x="530.4" y="370.3" width="1.4" height="1.4" fill="#8B0000"/>
<rect x="443.8" y="422.3" width="1.0" height="1.0" fill="#8B0000"/>
<rect x="503.7" y="374.0" width="1.2" height="1.2" fill="#8B0000"/>
<rect x="548.3" y="348.3" width="1.1" height="1.1" fill="#8B0000"/>
<rect x="523.2" y="365.4" width="1.5" height="1.5" fill="#8B0000"/>
<rect x="488.8" y="384.2" width="1.2" height="1.2" fill="#FF7000"/>
<rect x="444.8" y="467.2" width="1.4" height="1.4" fill="#8B0000"/>
<rect x="516.9" y="367.5" width="1.1" height="1.1" fill="#8B0000"/>
<rect x="546.5" y="347.5" width="1.1" height="1.1" fill="#8B0000"/>
<rect x="522.5" y="365.6" width="1.0" height="1.0" fill="#8B0000"/>
<rect x="438.0" y="453.5" width="1.2" height="1.2" fill="#FF1800"/>
<rect x="520.9" y="365.4" width="1.3" height="1.3" fill="#8B0000"/>
<rect x="449.1" y="414.5" width="1.0" height="1.0" fill="#8B0000"/>
<rect x="480.5" y="394.7" width="1.2" height="1.2" fill="#FF7000"/>
<rect x="545.0" y="344.5" width="1.1" height="1.1" fill="#8B0000"/>
<rect x="510.8" y="372.6" width="1.2" height="1.2" fill="#8B0000"/>
<rect x="445.6" y="417.3" width="1.2" height="1.2" fill="#FF1800"/>
<rect x="464.9" y="400.6" width="1.0" height="1.0" fill="#8B0000"/>
<rect x="458.8" y="406.6" width="1.3" height="1.3" fill="#8B0000"/>
<rect x="548.9" y="356.5" width="0.9" height="0.9" fill="#FF7000"/>
<rect x="448.8" y="414.8" width="1.0" height="1.0" fill="#8B0000"/>
<rect x="516.9" y="365.6" width="1.2" height="1.2" fill="#8B0000"/>
<rect x="437.1" y="455.8" width="1.5" height="1.5" fill="#8B0000"/>
<rect x="523.4" y="368.8" width="1.4" height="1.4" fill="#8B0000"/>
<rect x="534.6" y="360.7" width="1.3" height="1.3" fill="#8B0000"/>
<rect x="543.4" y="356.0" width="1.2" height="1.2" fill="#8B0000"/>
<rect x="503.8" y="380.4" width="1.0" height="1.0" fill="#8B0000"/>
<rect x="444.2" y="413.1" width="1.2" height="1.2" fill="#8B0000"/>
<rect x="520.9" y="372.3" width="1.1" height="1.1" fill="#FF7000"/>
<rect x="437.1" y="430.8" width="1.2" height="1.2" fill="#8B0000"/>
<rect x="550.7" y="356.6" width="0.9" height="0.9" fill="#8B0000"/>
<rect x="448.4" y="413.2" width="1.4" height="1.4" fill="#8B0000"/>
<rect x="472.2" y="400.9" width="1.0" height="1.0" fill="#8B0000"/>
<rect x="440.9" y="433.2" width="1.2" height="1.2" fill="#FF1800"/>
<rect x="514.8" y="372.7" width="1.0" height="1.0" fill="#8B0000"/>
<rect x="433.6" y="440.7" width="1.1" height="1.1" fill="#FF7000"/>
<rect x="474.0" y="397.0" width="1.4" height="1.4" fill="#8B0000"/>
<rect x="547.5" y="361.4" width="1.2" height="1.2" fill="#8B0000"/>
<rect x="472.1" y="399.9" width="1.4" height="1.4" fill="#FF1800"/>
<rect x="441.1" y="425.9" width="1.3" height="1.3" fill="#8B0000"/>
<rect x="517.8" y="373.1" width="1.2" height="1.2" fill="#8B0000"/>
<rect x="454.1" y="412.1" width="1.3" height="1.3" fill="#8B0000"/>
<rect x="480.4" y="386.0" width="1.3" height="1.3" fill="#8B0000"/>
<rect x="465.5" y="405.0" width="1.2" height="1.2" fill="#8B0000"/>
<rect x="503.9" y="379.3" width="1.0" height="1.0" fill="#8B0000"/>
<rect x="521.6" y="368.4" width="1.0" height="1.0" fill="#8B0000"/>
<rect x="454.5" y="409.8" width="1.3" height="1.3" fill="#FF7000"/>
<rect x="507.7" y="373.4" width="0.9" height="0.9" fill="#8B0000"/>
<rect x="438.5" y="423.9" width="1.4" height="1.4" fill="#8B0000"/>
<rect x="542.2" y="363.7" width="1.5" height="1.5" fill="#FF7000"/>
<rect x="444.5" y="466.7" width="1.4" height="1.4" fill="#8B0000"/>
<rect x="480.3" y="390.1" width="1.0" height="1.0" fill="#8B0000"/>
<rect x="542.8" y="345.6" width="1.4" height="1.4" fill="#8B0000"/>
<rect x="487.5" y="387.7" width="1.1" height="1.1" fill="#8B0000"/>
<rect x="437.2" y="428.5" width="1.2" height="1.2" fill="#8B0000"/>
<rect x="437.1" y="429.8" width="1.3" height="1.3" fill="#8B0000"/>
<rect x="543.4" y="358.9" width="1.2" height="1.2" fill="#8B0000"/>
<rect x="534.2" y="366.0" width="1.2" height="1.2" fill="#FFC800"/>
<rect x="503.4" y="382.1" width="1.4" height="1.4" fill="#8B0000"/>
<rect x="542.1" y="349.4" width="1.0" height="1.0" fill="#8B0000"/>
<rect x="539.0" y="359.0" width="1.0" height="1.0" fill="#FFC800"/>
<rect x="437.4" y="430.4" width="1.4" height="1.4" fill="#8B0000"/>
<rect x="505.7" y="381.4" width="1.0" height="1.0" fill="#8B0000"/>
<rect x="539.4" y="359.7" width="1.5" height="1.5" fill="#8B0000"/>
<rect x="459.0" y="410.9" width="1.2" height="1.2" fill="#8B0000"/>
<rect x="473.3" y="398.5" width="1.3" height="1.3" fill="#8B0000"/>
<rect x="442.6" y="424.1" width="1.3" height="1.3" fill="#8B0000"/>
<rect x="475.9" y="388.7" width="1.0" height="1.0" fill="#8B0000"/>
<rect x="544.3" y="355.2" width="1.2" height="1.2" fill="#8B0000"/>
<rect x="451.3" y="409.6" width="1.1" height="1.1" fill="#8B0000"/>
<rect x="497.4" y="378.0" width="1.0" height="1.0" fill="#FFC800"/>
<rect x="435.4" y="447.0" width="1.1" height="1.1" fill="#8B0000"/>
<rect x="538.0" y="361.1" width="0.9" height="0.9" fill="#8B0000"/>
<rect x="439.9" y="421.1" width="1.5" height="1.5" fill="#8B0000"/>
<rect x="437.4" y="448.5" width="1.2" height="1.2" fill="#8B0000"/>
<rect x="448.8" y="416.4" width="0.9" height="0.9" fill="#8B0000"/>
<rect x="544.1" y="361.1" width="1.0" height="1.0" fill="#8B0000"/>
<rect x="471.7" y="397.0" width="1.1" height="1.1" fill="#8B0000"/>
<rect x="481.2" y="390.1" width="1.1" height="1.1" fill="#FF1800"/>
<rect x="498.8" y="377.5" width="1.1" height="1.1" fill="#8B0000"/>
<rect x="474.4" y="391.0" width="1.1" height="1.1" fill="#FF7000"/>
<rect x="435.1" y="447.6" width="1.0" height="1.0" fill="#8B0000"/>
<rect x="434.0" y="441.2" width="1.2" height="1.2" fill="#8B0000"/>
<rect x="443.5" y="416.9" width="1.0" height="1.0" fill="#8B0000"/>
<rect x="500.9" y="377.8" width="0.9" height="0.9" fill="#8B0000"/>
<rect x="514.5" y="366.9" width="1.0" height="1.0" fill="#8B0000"/>
<rect x="547.6" y="360.5" width="1.3" height="1.3" fill="#8B0000"/>
<rect x="431.9" y="450.8" width="1.5" height="1.5" fill="#8B0000"/>
<rect x="529.4" y="369.1" width="1.0" height="1.0" fill="#8B0000"/>
<rect x="479.9" y="387.5" width="1.2" height="1.2" fill="#8B0000"/>
<rect x="543.1" y="346.6" width="1.4" height="1.4" fill="#8B0000"/>
<rect x="488.9" y="381.3" width="1.3" height="1.3" fill="#8B0000"/>
<rect x="460.4" y="404.9" width="1.3" height="1.3" fill="#8B0000"/>
<rect x="547.2" y="350.7" width="0.9" height="0.9" fill="#8B0000"/>
<rect x="460.3" y="402.0" width="1.5" height="1.5" fill="#8B0000"/>
<rect x="510.8" y="368.1" width="1.0" height="1.0" fill="#FF7000"/>
<rect x="463.5" y="399.0" width="1.3" height="1.3" fill="#8B0000"/>
<rect x="545.2" y="347.4" width="1.0" height="1.0" fill="#8B0000"/>
<rect x="436.7" y="458.9" width="0.9" height="0.9" fill="#8B0000"/>
<rect x="439.9" y="456.7" width="1.0" height="1.0" fill="#8B0000"/>
<rect x="439.5" y="436.4" width="1.2" height="1.2" fill="#8B0000"/>
<rect x="471.6" y="394.3" width="1.1" height="1.1" fill="#8B0000"/>
<rect x="523.2" y="369.8" width="1.4" height="1.4" fill="#8B0000"/>
<rect x="442.2" y="416.2" width="1.3" height="1.3" fill="#8B0000"/>
<rect x="512.4" y="371.3" width="1.2" height="1.2" fill="#8B0000"/>
<rect x="434.0" y="434.2" width="1.1" height="1.1" fill="#8B0000"/>
<rect x="516.1" y="373.9" width="1.1" height="1.1" fill="#8B0000"/>
<rect x="516.9" y="368.8" width="1.2" height="1.2" fill="#8B0000"/>
<rect x="478.3" y="398.1" width="1.5" height="1.5" fill="#FFC800"/>
<rect x="438.9" y="437.6" width="1.2" height="1.2" fill="#8B0000"/>
<rect x="442.2" y="465.3" width="1.1" height="1.1" fill="#8B0000"/>
<rect x="451.3" y="409.1" width="1.0" height="1.0" fill="#FF7000"/>
<rect x="485.4" y="383.9" width="1.1" height="1.1" fill="#8B0000"/>
<rect x="508.5" y="377.5" width="1.3" height="1.3" fill="#8B0000"/>
<rect x="463.2" y="401.0" width="1.0" height="1.0" fill="#FF1800"/>
<rect x="478.7" y="385.9" width="1.0" height="1.0" fill="#8B0000"/>
<rect x="500.1" y="383.7" width="1.1" height="1.1" fill="#FF7000"/>
<rect x="544.2" y="358.1" width="1.3" height="1.3" fill="#FFC800"/>
<rect x="436.2" y="453.1" width="1.2" height="1.2" fill="#8B0000"/>
<rect x="526.3" y="365.8" width="1.2" height="1.2" fill="#8B0000"/>
<rect x="516.5" y="367.0" width="1.1" height="1.1" fill="#8B0000"/>
<rect x="534.2" y="368.5" width="1.5" height="1.5" fill="#FFC800"/>
<rect x="486.4" y="389.5" width="1.5" height="1.5" fill="#8B0000"/>
<rect x="454.3" y="411.1" width="1.3" height="1.3" fill="#8B0000"/>
<rect x="533.4" y="363.8" width="1.2" height="1.2" fill="#FFC800"/>
<rect x="482.4" y="386.0" width="1.1" height="1.1" fill="#8B0000"/>
<rect x="492.0" y="383.2" width="1.3" height="1.3" fill="#8B0000"/>
<rect x="478.2" y="390.4" width="1.4" height="1.4" fill="#8B0000"/>
<rect x="437.7" y="444.7" width="1.1" height="1.1" fill="#8B0000"/>
<rect x="441.6" y="460.3" width="1.0" height="1.0" fill="#8B0000"/>
<rect x="473.8" y="391.5" width="1.4" height="1.4" fill="#FF1800"/>
<rect x="523.8" y="367.9" width="1.1" height="1.1" fill="#8B0000"/>
<rect x="546.1" y="344.5" width="1.2" height="1.2" fill="#8B0000"/>
<rect x="454.2" y="405.0" width="1.0" height="1.0" fill="#8B0000"/>
<rect x="526.8" y="370.2" width="1.4" height="1.4" fill="#8B0000"/>
<rect x="448.2" y="415.7" width="1.1" height="1.1" fill="#FF1800"/>
<rect x="501.2" y="380.8" width="1.0" height="1.0" fill="#8B0000"/>
<rect x="497.0" y="382.1" width="1.2" height="1.2" fill="#FF1800"/>
<rect x="529.5" y="368.9" width="1.4" height="1.4" fill="#8B0000"/>
<rect x="441.6" y="424.3" width="1.1" height="1.1" fill="#8B0000"/>
<rect x="517.2" y="368.9" width="1.3" height="1.3" fill="#8B0000"/>
<rect x="435.9" y="433.0" width="1.0" height="1.0" fill="#FF7000"/>
<rect x="455.5" y="407.4" width="1.1" height="1.1" fill="#8B0000"/>
<rect x="466.1" y="405.4" width="1.2" height="1.2" fill="#8B0000"/>
<rect x="525.3" y="367.0" width="1.4" height="1.4" fill="#8B0000"/>
<rect x="465.1" y="403.3" width="1.4" height="1.4" fill="#8B0000"/>
<rect x="507.4" y="373.2" width="1.1" height="1.1" fill="#8B0000"/>
<rect x="509.4" y="378.2" width="1.4" height="1.4" fill="#8B0000"/>
<rect x="470.5" y="394.1" width="1.4" height="1.4" fill="#8B0000"/>
<rect x="445.1" y="468.2" width="1.4" height="1.4" fill="#8B0000"/>
<rect x="478.0" y="396.2" width="1.1" height="1.1" fill="#8B0000"/>
<rect x="499.2" y="382.6" width="1.4" height="1.4" fill="#8B0000"/>
<rect x="474.0" y="394.3" width="1.1" height="1.1" fill="#FF1800"/>
<rect x="496.2" y="380.8" width="1.0" height="1.0" fill="#8B0000"/>
<rect x="477.3" y="398.3" width="1.4" height="1.4" fill="#FF1800"/>
<rect x="540.0" y="363.0" width="1.2" height="1.2" fill="#FF7000"/>
<rect x="525.2" y="369.6" width="1.5" height="1.5" fill="#8B0000"/>
<rect x="542.1" y="358.7" width="1.2" height="1.2" fill="#8B0000"/>
<rect x="433.5" y="438.0" width="1.4" height="1.4" fill="#8B0000"/>
<rect x="524.5" y="369.7" width="1.3" height="1.3" fill="#8B0000"/>
<rect x="438.5" y="423.6" width="1.0" height="1.0" fill="#8B0000"/>
<rect x="543.2" y="346.6" width="1.0" height="1.0" fill="#8B0000"/>
<rect x="469.0" y="400.0" width="1.4" height="1.4" fill="#8B0000"/>
<rect x="434.8" y="438.4" width="1.5" height="1.5" fill="#8B0000"/>
<rect x="439.4" y="463.2" width="1.2" height="1.2" fill="#8B0000"/>
<rect x="542.4" y="350.4" width="1.4" height="1.4" fill="#8B0000"/>
<rect x="438.9" y="461.7" width="1.3" height="1.3" fill="#8B0000"/>
<rect x="498.0" y="379.0" width="1.1" height="1.1" fill="#FF1800"/>
<rect x="550.1" y="354.2" width="1.3" height="1.3" fill="#8B0000"/>
<rect x="506.1" y="378.9" width="1.3" height="1.3" fill="#8B0000"/>
<rect x="478.6" y="393.6" width="1.1" height="1.1" fill="#FFC800"/>
<rect x="442.5" y="425.9" width="1.2" height="1.2" fill="#8B0000"/>
<rect x="485.2" y="388.7" width="1.3" height="1.3" fill="#8B0000"/>
<rect x="486.6" y="389.4" width="1.4" height="1.4" fill="#8B0000"/>
<rect x="450.1" y="410.2" width="1.1" height="1.1" fill="#8B0000"/>
<rect x="503.7" y="382.4" width="1.1" height="1.1" fill="#FFC800"/>
<rect x="444.3" y="420.6" width="1.1" height="1.1" fill="#FF7000"/>
<rect x="494.1" y="383.5" width="1.5" height="1.5" fill="#FF1800"/>
<rect x="445.1" y="417.9" width="1.5" height="1.5" fill="#FF7000"/>
<rect x="543.9" y="347.8" width="0.9" height="0.9" fill="#8B0000"/>
<rect x="452.7" y="412.6" width="1.5" height="1.5" fill="#8B0000"/>
<rect x="503.7" y="375.8" width="1.2" height="1.2" fill="#8B0000"/>
<rect x="536.0" y="360.7" width="1.1" height="1.1" fill="#8B0000"/>
<rect x="544.4" y="361.0" width="1.4" height="1.4" fill="#8B0000"/>
<rect x="441.9" y="426.8" width="1.1" height="1.1" fill="#8B0000"/>
<rect x="526.1" y="367.8" width="1.1" height="1.1" fill="#8B0000"/>
<rect x="446.1" y="422.8" width="1.5" height="1.5" fill="#8B0000"/>
<rect x="478.8" y="393.9" width="1.4" height="1.4" fill="#8B0000"/>
<rect x="475.6" y="394.4" width="1.5" height="1.5" fill="#8B0000"/>
<rect x="515.1" y="369.2" width="1.2" height="1.2" fill="#8B0000"/>
<rect x="434.4" y="435.8" width="1.1" height="1.1" fill="#8B0000"/>
<rect x="544.0" y="343.9" width="1.1" height="1.1" fill="#8B0000"/>
<rect x="530.3" y="368.4" width="0.9" height="0.9" fill="#8B0000"/>
<rect x="517.0" y="366.8" width="1.3" height="1.3" fill="#8B0000"/>
<rect x="524.7" y="365.7" width="1.1" height="1.1" fill="#8B0000"/>
<rect x="462.7" y="406.9" width="1.4" height="1.4" fill="#8B0000"/>
<rect x="433.1" y="448.7" width="0.9" height="0.9" fill="#8B0000"/>
<rect x="491.8" y="382.8" width="1.4" height="1.4" fill="#8B0000"/>
<rect x="434.4" y="431.1" width="1.2" height="1.2" fill="#8B0000"/>
<rect x="435.6" y="461.3" width="1.4" height="1.4" fill="#8B0000"/>
<rect x="443.6" y="464.0" width="1.3" height="1.3" fill="#FF7000"/>
<rect x="435.5" y="430.4" width="1.2" height="1.2" fill="#8B0000"/>
<rect x="456.8" y="412.1" width="1.4" height="1.4" fill="#8B0000"/>
<rect x="477.0" y="390.8" width="1.1" height="1.1" fill="#8B0000"/>
<rect x="467.2" y="400.5" width="1.0" height="1.0" fill="#8B0000"/>
<rect x="444.9" y="417.2" width="1.3" height="1.3" fill="#FF1800"/>
<rect x="437.9" y="435.1" width="1.4" height="1.4" fill="#8B0000"/>
<rect x="504.5" y="382.2" width="1.4" height="1.4" fill="#8B0000"/>
<rect x="501.5" y="382.5" width="1.1" height="1.1" fill="#8B0000"/>
<rect x="441.3" y="468.0" width="1.3" height="1.3" fill="#8B0000"/>
<rect x="543.6" y="354.4" width="1.1" height="1.1" fill="#8B0000"/>
<rect x="435.5" y="448.0" width="1.1" height="1.1" fill="#8B0000"/>
<rect x="448.6" y="418.3" width="1.0" height="1.0" fill="#8B0000"/>
<rect x="441.7" y="459.6" width="1.0" height="1.0" fill="#8B0000"/>
<rect x="450.3" y="408.6" width="1.3" height="1.3" fill="#FFC800"/>
<rect x="540.5" y="359.3" width="1.3" height="1.3" fill="#8B0000"/>
<rect x="498.7" y="379.1" width="1.2" height="1.2" fill="#8B0000"/>
<rect x="507.7" y="379.0" width="1.3" height="1.3" fill="#8B0000"/>
<rect x="471.1" y="401.8" width="1.2" height="1.2" fill="#8B0000"/>
<rect x="533.5" y="364.0" width="1.3" height="1.3" fill="#8B0000"/>
<rect x="446.7" y="419.5" width="1.2" height="1.2" fill="#8B0000"/>
<rect x="469.8" y="401.9" width="1.3" height="1.3" fill="#8B0000"/>
<rect x="438.8" y="467.1" width="1.4" height="1.4" fill="#FFC800"/>
<rect x="527.6" y="369.4" width="1.1" height="1.1" fill="#8B0000"/>
<rect x="436.3" y="433.2" width="1.3" height="1.3" fill="#8B0000"/>
<rect x="472.2" y="393.9" width="1.1" height="1.1" fill="#8B0000"/>
<rect x="432.5" y="448.8" width="1.2" height="1.2" fill="#8B0000"/>
<rect x="545.9" y="355.9" width="1.2" height="1.2" fill="#8B0000"/>
<rect x="432.1" y="448.9" width="1.4" height="1.4" fill="#FF7000"/>
<rect x="439.9" y="440.0" width="1.1" height="1.1" fill="#8B0000"/>
<rect x="517.5" y="370.4" width="1.0" height="1.0" fill="#8B0000"/>
<rect x="533.6" y="364.0" width="1.1" height="1.1" fill="#8B0000"/>
<rect x="527.8" y="367.3" width="1.0" height="1.0" fill="#8B0000"/>
<rect x="498.9" y="384.2" width="1.1" height="1.1" fill="#FF1800"/>
<rect x="528.8" y="368.1" width="1.2" height="1.2" fill="#8B0000"/>
<rect x="481.9" y="390.1" width="1.2" height="1.2" fill="#FF1800"/>
<rect x="438.7" y="436.9" width="1.3" height="1.3" fill="#8B0000"/>
<rect x="465.2" y="403.3" width="1.0" height="1.0" fill="#FF1800"/>
<rect x="436.5" y="453.3" width="1.1" height="1.1" fill="#8B0000"/>
<rect x="547.6" y="358.0" width="1.5" height="1.5" fill="#8B0000"/>
<rect x="442.7" y="415.4" width="1.1" height="1.1" fill="#8B0000"/>
<rect x="446.9" y="419.4" width="1.4" height="1.4" fill="#8B0000"/>
<rect x="477.9" y="396.5" width="1.5" height="1.5" fill="#8B0000"/>
<rect x="505.7" y="381.8" width="1.3" height="1.3" fill="#8B0000"/>
<rect x="463.3" y="406.3" width="1.0" height="1.0" fill="#8B0000"/>
<rect x="439.3" y="422.1" width="1.4" height="1.4" fill="#8B0000"/>
<rect x="466.6" y="400.4" width="1.2" height="1.2" fill="#FFC800"/>
<rect x="543.9" y="353.7" width="1.0" height="1.0" fill="#8B0000"/>
<rect x="439.8" y="453.0" width="1.5" height="1.5" fill="#8B0000"/>
<rect x="522.9" y="369.7" width="1.2" height="1.2" fill="#8B0000"/>
<rect x="544.4" y="349.1" width="1.3" height="1.3" fill="#8B0000"/>
<rect x="436.8" y="449.9" width="1.0" height="1.0" fill="#FF7000"/>
<rect x="480.6" y="395.3" width="1.2" height="1.2" fill="#8B0000"/>
<rect x="439.9" y="456.8" width="1.2" height="1.2" fill="#8B0000"/>
<rect x="440.0" y="463.5" width="1.1" height="1.1" fill="#8B0000"/>
<rect x="437.7" y="461.6" width="1.4" height="1.4" fill="#8B0000"/>
<rect x="486.3" y="381.3" width="1.1" height="1.1" fill="#8B0000"/>
<rect x="505.2" y="372.7" width="1.3" height="1.3" fill="#FF7000"/>
<rect x="478.5" y="388.4" width="1.1" height="1.1" fill="#8B0000"/>
<rect x="539.0" y="343.2" width="1.5" height="1.5" fill="#8B0000"/>
<rect x="502.1" y="382.3" width="1.2" height="1.2" fill="#8B0000"/>
<rect x="541.5" y="345.5" width="1.2" height="1.2" fill="#FF7000"/>
<rect x="543.6" y="344.1" width="1.2" height="1.2" fill="#8B0000"/>
<rect x="541.6" y="364.3" width="1.2" height="1.2" fill="#8B0000"/>
<rect x="480.9" y="394.6" width="1.2" height="1.2" fill="#8B0000"/>
<rect x="465.3" y="406.4" width="1.1" height="1.1" fill="#8B0000"/>
<rect x="501.3" y="380.2" width="1.3" height="1.3" fill="#8B0000"/>
<rect x="466.8" y="400.8" width="1.2" height="1.2" fill="#FF7000"/>
<rect x="539.7" y="362.3" width="1.4" height="1.4" fill="#FFC800"/>
<rect x="512.2" y="371.0" width="1.2" height="1.2" fill="#8B0000"/>
<rect x="506.6" y="373.7" width="1.1" height="1.1" fill="#8B0000"/>
<rect x="439.4" y="446.4" width="1.1" height="1.1" fill="#FFC800"/>
<rect x="544.7" y="349.1" width="1.1" height="1.1" fill="#FF7000"/>
<rect x="434.3" y="443.8" width="1.4" height="1.4" fill="#8B0000"/>
<rect x="461.3" y="401.8" width="0.9" height="0.9" fill="#8B0000"/>
<rect x="545.6" y="356.7" width="1.4" height="1.4" fill="#8B0000"/>
<rect x="470.3" y="394.8" width="1.3" height="1.3" fill="#8B0000"/>
<rect x="549.5" y="356.4" width="1.4" height="1.4" fill="#8B0000"/>
<rect x="463.0" y="401.5" width="1.0" height="1.0" fill="#8B0000"/>
<rect x="544.3" y="345.6" width="1.4" height="1.4" fill="#FF7000"/>
<rect x="436.1" y="464.1" width="1.4" height="1.4" fill="#8B0000"/>
<rect x="442.3" y="424.0" width="1.3" height="1.3" fill="#8B0000"/>
<rect x="517.4" y="370.1" width="1.0" height="1.0" fill="#8B0000"/>
<rect x="437.9" y="455.2" width="1.2" height="1.2" fill="#8B0000"/>
<rect x="523.5" y="367.2" width="1.3" height="1.3" fill="#8B0000"/>
<rect x="484.0" y="385.5" width="1.3" height="1.3" fill="#8B0000"/>
<rect x="529.6" y="362.9" width="0.9" height="0.9" fill="#8B0000"/>
<rect x="433.1" y="449.0" width="1.4" height="1.4" fill="#8B0000"/>
<rect x="529.3" y="365.8" width="1.0" height="1.0" fill="#8B0000"/>
<rect x="444.7" y="414.2" width="1.4" height="1.4" fill="#8B0000"/>
<rect x="516.7" y="373.1" width="1.4" height="1.4" fill="#8B0000"/>
<rect x="542.8" y="350.0" width="1.4" height="1.4" fill="#8B0000"/>
<rect x="508.5" y="373.4" width="1.2" height="1.2" fill="#8B0000"/>
<rect x="543.9" y="351.9" width="1.5" height="1.5" fill="#FF1800"/>
<rect x="541.3" y="344.5" width="1.3" height="1.3" fill="#8B0000"/>
<rect x="453.3" y="413.8" width="1.1" height="1.1" fill="#FF1800"/>
<rect x="474.1" y="394.6" width="1.5" height="1.5" fill="#8B0000"/>
<rect x="544.0" y="345.5" width="1.2" height="1.2" fill="#8B0000"/>
<rect x="443.3" y="427.6" width="1.5" height="1.5" fill="#FFC800"/>
<rect x="438.6" y="460.4" width="1.2" height="1.2" fill="#8B0000"/>
<rect x="438.3" y="460.0" width="1.3" height="1.3" fill="#FFC800"/>
<rect x="446.2" y="412.7" width="1.1" height="1.1" fill="#8B0000"/>
<rect x="486.2" y="386.5" width="1.4" height="1.4" fill="#8B0000"/>
<rect x="498.5" y="378.3" width="1.3" height="1.3" fill="#8B0000"/>
<rect x="545.1" y="349.0" width="1.2" height="1.2" fill="#8B0000"/>
<rect x="524.2" y="363.9" width="1.5" height="1.5" fill="#8B0000"/>
<rect x="550.3" y="309.9" width="1.4" height="1.4" fill="#8B0000"/>
<rect x="539.1" y="343.2" width="1.3" height="1.3" fill="#8B0000"/>
<rect x="549.2" y="308.9" width="1.4" height="1.4" fill="#8B0000"/>
<rect x="514.3" y="369.8" width="1.3" height="1.3" fill="#8B0000"/>
<rect x="510.4" y="370.0" width="1.2" height="1.2" fill="#8B0000"/>
<rect x="556.0" y="293.5" width="0.9" height="0.9" fill="#8B0000"/>
<rect x="527.4" y="366.7" width="1.0" height="1.0" fill="#FF1800"/>
<rect x="545.5" y="360.3" width="0.9" height="0.9" fill="#8B0000"/>
<rect x="549.2" y="351.1" width="0.9" height="0.9" fill="#8B0000"/>
<rect x="518.3" y="371.6" width="1.2" height="1.2" fill="#8B0000"/>
<rect x="547.3" y="354.4" width="1.5" height="1.5" fill="#FFC800"/>
<rect x="535.0" y="322.5" width="1.2" height="1.2" fill="#8B0000"/>
<rect x="559.5" y="288.1" width="1.1" height="1.1" fill="#8B0000"/>
<rect x="540.8" y="327.4" width="1.1" height="1.1" fill="#8B0000"/>
<rect x="545.7" y="307.7" width="1.2" height="1.2" fill="#8B0000"/>
<rect x="543.8" y="354.7" width="1.1" height="1.1" fill="#FFC800"/>
<rect x="548.6" y="354.8" width="1.2" height="1.2" fill="#8B0000"/>
<rect x="508.6" y="370.9" width="1.2" height="1.2" fill="#8B0000"/>
<rect x="549.4" y="306.8" width="1.4" height="1.4" fill="#8B0000"/>
<rect x="539.8" y="339.9" width="1.4" height="1.4" fill="#8B0000"/>
<rect x="542.0" y="311.5" width="1.4" height="1.4" fill="#FFC800"/>
<rect x="542.4" y="312.0" width="1.4" height="1.4" fill="#8B0000"/>
<rect x="561.4" y="287.5" width="1.1" height="1.1" fill="#8B0000"/>
<rect x="540.1" y="322.1" width="1.2" height="1.2" fill="#8B0000"/>
<rect x="543.8" y="339.1" width="1.1" height="1.1" fill="#8B0000"/>
<rect x="532.6" y="367.0" width="1.1" height="1.1" fill="#8B0000"/>
<rect x="529.7" y="370.2" width="1.1" height="1.1" fill="#FF7000"/>
<rect x="537.2" y="329.9" width="1.4" height="1.4" fill="#8B0000"/>
<rect x="547.3" y="353.5" width="1.2" height="1.2" fill="#8B0000"/>
<rect x="537.6" y="329.5" width="1.4" height="1.4" fill="#8B0000"/>
<rect x="542.4" y="363.2" width="1.1" height="1.1" fill="#8B0000"/>
<rect x="537.4" y="316.4" width="0.9" height="0.9" fill="#8B0000"/>
<rect x="509.3" y="368.4" width="1.3" height="1.3" fill="#8B0000"/>
<rect x="558.5" y="285.0" width="1.4" height="1.4" fill="#8B0000"/>
<rect x="526.1" y="369.4" width="1.2" height="1.2" fill="#8B0000"/>
<rect x="522.5" y="366.7" width="1.5" height="1.5" fill="#8B0000"/>
<rect x="530.7" y="370.3" width="1.5" height="1.5" fill="#8B0000"/>
<rect x="546.5" y="344.3" width="0.9" height="0.9" fill="#8B0000"/>
<rect x="546.3" y="347.7" width="1.0" height="1.0" fill="#8B0000"/>
<rect x="541.4" y="357.9" width="1.1" height="1.1" fill="#FFC800"/>
<rect x="542.5" y="353.8" width="1.5" height="1.5" fill="#8B0000"/>
<rect x="523.4" y="365.6" width="1.2" height="1.2" fill="#8B0000"/>
<rect x="535.2" y="365.9" width="1.4" height="1.4" fill="#8B0000"/>
<rect x="561.1" y="280.9" width="1.3" height="1.3" fill="#8B0000"/>
<rect x="538.0" y="332.8" width="1.2" height="1.2" fill="#8B0000"/>
<rect x="538.3" y="330.8" width="1.1" height="1.1" fill="#8B0000"/>
<rect x="559.9" y="287.8" width="1.3" height="1.3" fill="#8B0000"/>
<rect x="547.9" y="312.4" width="1.4" height="1.4" fill="#8B0000"/>
<rect x="553.4" y="297.1" width="1.1" height="1.1" fill="#FFC800"/>
<rect x="551.9" y="307.8" width="1.3" height="1.3" fill="#8B0000"/>
<rect x="558.9" y="292.1" width="1.0" height="1.0" fill="#8B0000"/>
<rect x="542.2" y="310.4" width="1.2" height="1.2" fill="#8B0000"/>
<rect x="528.9" y="370.8" width="1.1" height="1.1" fill="#8B0000"/>
<rect x="540.6" y="311.5" width="1.2" height="1.2" fill="#8B0000"/>
<rect x="547.8" y="359.4" width="0.9" height="0.9" fill="#8B0000"/>
<rect x="561.5" y="289.7" width="1.2" height="1.2" fill="#FF7000"/>
<rect x="550.0" y="296.2" width="1.2" height="1.2" fill="#8B0000"/>
<rect x="538.2" y="325.6" width="1.3" height="1.3" fill="#8B0000"/>
<rect x="550.2" y="309.7" width="1.3" height="1.3" fill="#8B0000"/>
<rect x="539.1" y="363.2" width="1.1" height="1.1" fill="#8B0000"/>
<rect x="546.5" y="362.5" width="1.4" height="1.4" fill="#8B0000"/>
<rect x="553.5" y="296.2" width="1.2" height="1.2" fill="#8B0000"/>
<rect x="532.6" y="359.9" width="1.2" height="1.2" fill="#FF7000"/>
<rect x="563.4" y="280.8" width="1.1" height="1.1" fill="#8B0000"/>
<rect x="559.2" y="280.3" width="1.3" height="1.3" fill="#8B0000"/>
<rect x="531.7" y="360.5" width="1.2" height="1.2" fill="#8B0000"/>
<rect x="524.2" y="371.2" width="1.3" height="1.3" fill="#8B0000"/>
<rect x="528.1" y="367.4" width="1.3" height="1.3" fill="#FFC800"/>
<rect x="543.7" y="335.2" width="1.0" height="1.0" fill="#FF1800"/>
<rect x="541.2" y="313.4" width="1.2" height="1.2" fill="#FF7000"/>
<rect x="545.4" y="355.1" width="0.9" height="0.9" fill="#8B0000"/>
<rect x="541.1" y="323.5" width="1.0" height="1.0" fill="#8B0000"/>
<rect x="557.4" y="288.8" width="1.1" height="1.1" fill="#8B0000"/>
<rect x="529.5" y="366.6" width="1.2" height="1.2" fill="#8B0000"/>
<rect x="558.2" y="284.8" width="1.3" height="1.3" fill="#8B0000"/>
<rect x="544.3" y="354.4" width="1.1" height="1.1" fill="#8B0000"/>
<rect x="513.4" y="367.0" width="1.4" height="1.4" fill="#8B0000"/>
<rect x="552.2" y="295.5" width="1.0" height="1.0" fill="#FF1800"/>
<rect x="560.5" y="286.2" width="1.2" height="1.2" fill="#8B0000"/>
<rect x="537.3" y="361.4" width="1.0" height="1.0" fill="#8B0000"/>
<rect x="537.4" y="336.1" width="1.3" height="1.3" fill="#8B0000"/>
<rect x="538.4" y="344.1" width="1.3" height="1.3" fill="#8B0000"/>
<rect x="536.5" y="319.0" width="1.0" height="1.0" fill="#8B0000"/>
<rect x="539.9" y="312.9" width="1.5" height="1.5" fill="#FFC800"/>
<rect x="539.1" y="327.0" width="1.2" height="1.2" fill="#8B0000"/>
<rect x="551.5" y="296.0" width="1.1" height="1.1" fill="#8B0000"/>
<rect x="540.7" y="349.1" width="1.4" height="1.4" fill="#8B0000"/>
<rect x="543.1" y="311.1" width="1.3" height="1.3" fill="#8B0000"/>
<rect x="541.9" y="308.6" width="1.4" height="1.4" fill="#8B0000"/>
<rect x="531.0" y="364.5" width="1.1" height="1.1" fill="#FF1800"/>
<rect x="522.7" y="365.3" width="1.2" height="1.2" fill="#8B0000"/>
<rect x="541.5" y="312.6" width="1.4" height="1.4" fill="#8B0000"/>
<rect x="557.4" y="285.7" width="1.0" height="1.0" fill="#8B0000"/>
<rect x="547.1" y="354.8" width="1.2" height="1.2" fill="#8B0000"/>
<rect x="557.3" y="299.1" width="1.4" height="1.4" fill="#FFC800"/>
<rect x="560.2" y="284.3" width="1.4" height="1.4" fill="#8B0000"/>
<rect x="541.3" y="325.3" width="1.0" height="1.0" fill="#8B0000"/>
<rect x="537.8" y="330.5" width="1.4" height="1.4" fill="#8B0000"/>
<rect x="541.5" y="348.7" width="1.4" height="1.4" fill="#8B0000"/>
<rect x="536.1" y="366.4" width="0.9" height="0.9" fill="#8B0000"/>
<rect x="551.4" y="293.8" width="1.3" height="1.3" fill="#8B0000"/>
<rect x="518.4" y="367.5" width="1.0" height="1.0" fill="#8B0000"/>
<rect x="540.7" y="339.0" width="1.5" height="1.5" fill="#8B0000"/>
<rect x="546.6" y="307.2" width="1.3" height="1.3" fill="#8B0000"/>
<rect x="555.0" y="301.5" width="1.0" height="1.0" fill="#FF1800"/>
<rect x="526.1" y="367.4" width="1.1" height="1.1" fill="#FFC800"/>
<rect x="521.8" y="365.5" width="1.1" height="1.1" fill="#8B0000"/>
<rect x="542.1" y="325.1" width="1.4" height="1.4" fill="#8B0000"/>
<rect x="536.1" y="331.2" width="1.1" height="1.1" fill="#FF7000"/>
<rect x="545.5" y="309.2" width="1.1" height="1.1" fill="#8B0000"/>
<rect x="536.4" y="322.3" width="1.0" height="1.0" fill="#8B0000"/>
<rect x="549.8" y="307.8" width="0.9" height="0.9" fill="#8B0000"/>
<rect x="564.2" y="282.1" width="1.5" height="1.5" fill="#8B0000"/>
<rect x="540.2" y="310.8" width="1.0" height="1.0" fill="#8B0000"/>
<rect x="541.6" y="345.0" width="1.2" height="1.2" fill="#8B0000"/>
<rect x="532.6" y="364.8" width="1.3" height="1.3" fill="#8B0000"/>
<rect x="545.0" y="319.2" width="1.3" height="1.3" fill="#8B0000"/>
<rect x="544.5" y="342.4" width="1.1" height="1.1" fill="#8B0000"/>
<rect x="545.5" y="312.0" width="1.3" height="1.3" fill="#8B0000"/>
<rect x="535.4" y="364.3" width="1.2" height="1.2" fill="#8B0000"/>
<rect x="543.8" y="348.0" width="1.0" height="1.0" fill="#8B0000"/>
<rect x="546.2" y="315.0" width="1.0" height="1.0" fill="#8B0000"/>
<rect x="545.0" y="315.6" width="1.2" height="1.2" fill="#8B0000"/>
<rect x="548.9" y="304.6" width="1.1" height="1.1" fill="#8B0000"/>
<rect x="541.3" y="348.1" width="1.5" height="1.5" fill="#8B0000"/>
<rect x="540.4" y="327.8" width="1.1" height="1.1" fill="#8B0000"/>
<rect x="553.1" y="291.9" width="1.1" height="1.1" fill="#8B0000"/>
<rect x="546.4" y="301.8" width="1.1" height="1.1" fill="#8B0000"/>
<rect x="545.4" y="303.6" width="1.3" height="1.3" fill="#8B0000"/>
<rect x="530.3" y="370.1" width="0.9" height="0.9" fill="#8B0000"/>
<rect x="539.1" y="340.9" width="1.1" height="1.1" fill="#8B0000"/>
<rect x="532.0" y="369.2" width="1.0" height="1.0" fill="#8B0000"/>
<rect x="547.4" y="309.3" width="1.1" height="1.1" fill="#8B0000"/>
<rect x="555.4" y="303.6" width="1.3" height="1.3" fill="#FF7000"/>
<rect x="525.6" y="362.6" width="1.4" height="1.4" fill="#8B0000"/>
<rect x="543.2" y="350.3" width="1.1" height="1.1" fill="#8B0000"/>
<rect x="556.2" y="289.0" width="1.0" height="1.0" fill="#8B0000"/>
<rect x="539.7" y="337.0" width="1.2" height="1.2" fill="#8B0000"/>
<rect x="549.8" y="302.9" width="1.1" height="1.1" fill="#8B0000"/>
<rect x="517.4" y="368.2" width="1.3" height="1.3" fill="#8B0000"/>
<rect x="538.9" y="359.0" width="1.1" height="1.1" fill="#8B0000"/>
<rect x="528.7" y="363.9" width="1.1" height="1.1" fill="#8B0000"/>
<rect x="546.3" y="312.3" width="1.4" height="1.4" fill="#8B0000"/>
<rect x="536.6" y="367.0" width="1.1" height="1.1" fill="#8B0000"/>
<rect x="521.4" y="369.8" width="1.4" height="1.4" fill="#8B0000"/>
<rect x="535.8" y="322.6" width="1.2" height="1.2" fill="#8B0000"/>
<rect x="559.3" y="283.6" width="1.3" height="1.3" fill="#8B0000"/>
<rect x="558.7" y="284.8" width="1.4" height="1.4" fill="#8B0000"/>
<rect x="549.0" y="303.2" width="1.2" height="1.2" fill="#8B0000"/>
<rect x="542.2" y="348.1" width="1.5" height="1.5" fill="#8B0000"/>
<rect x="539.8" y="357.9" width="1.1" height="1.1" fill="#8B0000"/>
<rect x="543.8" y="360.6" width="1.3" height="1.3" fill="#8B0000"/>
<rect x="548.0" y="356.4" width="1.0" height="1.0" fill="#8B0000"/>
<rect x="549.7" y="295.6" width="1.2" height="1.2" fill="#FFC800"/>
<rect x="518.3" y="370.9" width="1.2" height="1.2" fill="#FF7000"/>
<rect x="539.0" y="322.2" width="1.3" height="1.3" fill="#8B0000"/>
<rect x="563.4" y="288.4" width="1.4" height="1.4" fill="#FFC800"/>
<rect x="544.4" y="363.8" width="1.3" height="1.3" fill="#8B0000"/>
<rect x="546.9" y="355.7" width="1.2" height="1.2" fill="#8B0000"/>
<rect x="563.3" y="282.8" width="1.1" height="1.1" fill="#8B0000"/>
<rect x="521.0" y="370.6" width="1.4" height="1.4" fill="#8B0000"/>
<rect x="551.8" y="301.4" width="1.4" height="1.4" fill="#8B0000"/>
<rect x="517.6" y="367.3" width="0.9" height="0.9" fill="#8B0000"/>
<rect x="540.8" y="334.9" width="1.0" height="1.0" fill="#8B0000"/>
<rect x="524.9" y="365.7" width="1.3" height="1.3" fill="#8B0000"/>
<rect x="548.4" y="354.5" width="1.0" height="1.0" fill="#8B0000"/>
<rect x="545.4" y="343.1" width="1.1" height="1.1" fill="#FF7000"/>
<rect x="544.8" y="310.8" width="1.0" height="1.0" fill="#8B0000"/>
<rect x="544.1" y="353.9" width="1.4" height="1.4" fill="#8B0000"/>
<rect x="544.9" y="349.4" width="1.3" height="1.3" fill="#FF7000"/>
<rect x="554.7" y="297.4" width="1.4" height="1.4" fill="#FFC800"/>
<rect x="538.0" y="322.5" width="1.1" height="1.1" fill="#FFC800"/>
<rect x="551.4" y="305.6" width="1.1" height="1.1" fill="#8B0000"/>
<rect x="546.8" y="358.4" width="1.1" height="1.1" fill="#FFC800"/>
<rect x="551.2" y="290.9" width="1.0" height="1.0" fill="#8B0000"/>
<rect x="539.3" y="342.9" width="1.0" height="1.0" fill="#8B0000"/>
<rect x="527.6" y="370.1" width="1.4" height="1.4" fill="#8B0000"/>
<rect x="543.6" y="311.6" width="1.0" height="1.0" fill="#FF7000"/>
<rect x="543.2" y="343.7" width="1.3" height="1.3" fill="#8B0000"/>
<rect x="548.6" y="349.0" width="1.4" height="1.4" fill="#8B0000"/>
<rect x="524.6" y="351.5" width="1.0" height="1.0" fill="#FF1800"/>
<rect x="518.6" y="351.7" width="1.2" height="1.2" fill="#8B0000"/>
<rect x="527.9" y="337.2" width="1.4" height="1.4" fill="#8B0000"/>
<rect x="543.7" y="354.8" width="1.0" height="1.0" fill="#8B0000"/>
<rect x="530.9" y="368.7" width="1.0" height="1.0" fill="#8B0000"/>
<rect x="539.2" y="356.6" width="1.0" height="1.0" fill="#8B0000"/>
<rect x="529.9" y="357.9" width="1.4" height="1.4" fill="#8B0000"/>
<rect x="508.4" y="368.2" width="1.2" height="1.2" fill="#8B0000"/>
<rect x="520.5" y="367.3" width="1.0" height="1.0" fill="#8B0000"/>
<rect x="526.3" y="340.9" width="0.9" height="0.9" fill="#8B0000"/>
<rect x="522.1" y="353.0" width="1.0" height="1.0" fill="#8B0000"/>
<rect x="545.6" y="356.8" width="1.2" height="1.2" fill="#FF1800"/>
<rect x="522.4" y="337.0" width="1.4" height="1.4" fill="#8B0000"/>
<rect x="534.8" y="346.9" width="1.3" height="1.3" fill="#8B0000"/>
<rect x="546.8" y="344.9" width="1.2" height="1.2" fill="#FF1800"/>
<rect x="515.2" y="351.7" width="1.3" height="1.3" fill="#8B0000"/>
<rect x="523.8" y="341.8" width="1.0" height="1.0" fill="#8B0000"/>
<rect x="505.2" y="362.0" width="1.2" height="1.2" fill="#8B0000"/>
<rect x="545.0" y="359.6" width="1.2" height="1.2" fill="#8B0000"/>
<rect x="532.7" y="343.0" width="1.3" height="1.3" fill="#8B0000"/>
<rect x="527.4" y="364.6" width="1.2" height="1.2" fill="#8B0000"/>
<rect x="536.2" y="349.7" width="1.0" height="1.0" fill="#8B0000"/>
<rect x="513.1" y="370.7" width="1.4" height="1.4" fill="#8B0000"/>
<rect x="543.0" y="344.9" width="1.4" height="1.4" fill="#8B0000"/>
<rect x="515.7" y="358.9" width="1.2" height="1.2" fill="#FFC800"/>
<rect x="536.8" y="344.0" width="0.9" height="0.9" fill="#8B0000"/>
<rect x="546.5" y="356.7" width="1.5" height="1.5" fill="#FFC800"/>
<rect x="515.7" y="373.8" width="1.0" height="1.0" fill="#8B0000"/>
<rect x="547.3" y="349.1" width="1.4" height="1.4" fill="#8B0000"/>
<rect x="513.8" y="355.3" width="1.2" height="1.2" fill="#FFC800"/>
<rect x="524.9" y="362.6" width="1.2" height="1.2" fill="#8B0000"/>
<rect x="528.4" y="367.4" width="1.5" height="1.5" fill="#FFC800"/>
<rect x="521.5" y="362.0" width="1.4" height="1.4" fill="#8B0000"/>
<rect x="515.8" y="353.7" width="1.4" height="1.4" fill="#8B0000"/>
<rect x="537.0" y="335.3" width="1.0" height="1.0" fill="#8B0000"/>
<rect x="531.6" y="366.0" width="1.0" height="1.0" fill="#8B0000"/>
<rect x="531.3" y="359.6" width="1.1" height="1.1" fill="#8B0000"/>
<rect x="541.6" y="350.3" width="1.2" height="1.2" fill="#8B0000"/>
<rect x="531.6" y="340.8" width="1.0" height="1.0" fill="#8B0000"/>
<rect x="517.6" y="358.0" width="1.0" height="1.0" fill="#8B0000"/>
<rect x="517.4" y="370.8" width="1.3" height="1.3" fill="#8B0000"/>
<rect x="539.3" y="335.6" width="1.5" height="1.5" fill="#8B0000"/>
<rect x="533.6" y="336.9" width="1.4" height="1.4" fill="#8B0000"/>
<rect x="513.3" y="351.9" width="1.3" height="1.3" fill="#8B0000"/>
<rect x="518.0" y="362.3" width="1.2" height="1.2" fill="#FFC800"/>
<rect x="522.8" y="362.4" width="1.3" height="1.3" fill="#FF7000"/>
<rect x="535.3" y="343.4" width="1.1" height="1.1" fill="#8B0000"/>
<rect x="547.6" y="346.8" width="1.5" height="1.5" fill="#8B0000"/>
<rect x="520.9" y="367.9" width="0.9" height="0.9" fill="#8B0000"/>
<rect x="515.9" y="369.4" width="1.4" height="1.4" fill="#8B0000"/>
<rect x="527.0" y="349.9" width="0.9" height="0.9" fill="#8B0000"/>
<rect x="542.5" y="341.2" width="1.0" height="1.0" fill="#8B0000"/>
<rect x="508.8" y="364.6" width="1.5" height="1.5" fill="#8B0000"/>
<rect x="507.3" y="363.1" width="1.0" height="1.0" fill="#8B0000"/>
<rect x="508.6" y="374.2" width="1.0" height="1.0" fill="#8B0000"/>
<rect x="513.4" y="361.3" width="1.2" height="1.2" fill="#8B0000"/>
<rect x="526.8" y="356.7" width="0.9" height="0.9" fill="#FF7000"/>
<rect x="529.9" y="341.6" width="1.5" height="1.5" fill="#8B0000"/>
<rect x="534.2" y="361.7" width="1.0" height="1.0" fill="#8B0000"/>
<rect x="509.0" y="368.6" width="1.0" height="1.0" fill="#8B0000"/>
<rect x="527.5" y="343.2" width="1.5" height="1.5" fill="#8B0000"/>
<rect x="526.1" y="357.3" width="1.4" height="1.4" fill="#8B0000"/>
<rect x="548.5" y="348.3" width="1.4" height="1.4" fill="#8B0000"/>
<rect x="511.6" y="366.6" width="1.0" height="1.0" fill="#8B0000"/>
<rect x="523.7" y="361.3" width="1.2" height="1.2" fill="#FFC800"/>
<rect x="531.0" y="351.4" width="1.1" height="1.1" fill="#8B0000"/>
<rect x="537.5" y="367.0" width="1.2" height="1.2" fill="#8B0000"/>
<rect x="523.5" y="342.6" width="1.5" height="1.5" fill="#8B0000"/>
<rect x="531.4" y="351.2" width="1.2" height="1.2" fill="#8B0000"/>
<rect x="518.2" y="351.7" width="1.4" height="1.4" fill="#8B0000"/>
<rect x="545.1" y="346.5" width="1.0" height="1.0" fill="#8B0000"/>
<rect x="526.7" y="335.5" width="1.2" height="1.2" fill="#8B0000"/>
<rect x="527.5" y="354.0" width="1.0" height="1.0" fill="#8B0000"/>
<rect x="509.7" y="359.0" width="1.2" height="1.2" fill="#8B0000"/>
<rect x="536.9" y="335.6" width="1.3" height="1.3" fill="#8B0000"/>
<rect x="545.2" y="362.6" width="1.3" height="1.3" fill="#FF7000"/>
<rect x="515.1" y="367.5" width="1.2" height="1.2" fill="#8B0000"/>
<rect x="545.9" y="349.3" width="1.4" height="1.4" fill="#8B0000"/>
<rect x="512.5" y="354.8" width="0.9" height="0.9" fill="#8B0000"/>
<rect x="543.4" y="296.0" width="1.0" height="1.0" fill="#8B0000"/>
<rect x="542.5" y="310.3" width="1.1" height="1.1" fill="#FF7000"/>
<rect x="525.1" y="297.3" width="1.3" height="1.3" fill="#8B0000"/>
<rect x="529.2" y="314.2" width="1.5" height="1.5" fill="#8B0000"/>
<rect x="532.7" y="333.6" width="1.1" height="1.1" fill="#FF7000"/>
<rect x="542.9" y="307.8" width="1.3" height="1.3" fill="#8B0000"/>
<rect x="530.8" y="329.0" width="1.1" height="1.1" fill="#FFC800"/>
<rect x="541.0" y="300.8" width="1.0" height="1.0" fill="#8B0000"/>
<rect x="531.6" y="300.0" width="1.3" height="1.3" fill="#FF1800"/>
<rect x="522.3" y="333.1" width="1.3" height="1.3" fill="#8B0000"/>
<rect x="532.0" y="285.9" width="1.0" height="1.0" fill="#8B0000"/>
<rect x="545.0" y="290.0" width="1.2" height="1.2" fill="#8B0000"/>
<rect x="512.6" y="331.7" width="1.3" height="1.3" fill="#8B0000"/>
<rect x="515.4" y="309.8" width="1.4" height="1.4" fill="#8B0000"/>
<rect x="527.4" y="319.4" width="1.0" height="1.0" fill="#8B0000"/>
<rect x="522.0" y="324.8" width="1.1" height="1.1" fill="#8B0000"/>
<rect x="535.6" y="295.4" width="1.5" height="1.5" fill="#8B0000"/>
<rect x="541.8" y="300.8" width="1.2" height="1.2" fill="#8B0000"/>
<rect x="515.8" y="324.3" width="1.3" height="1.3" fill="#FFC800"/>
<rect x="522.8" y="327.0" width="1.0" height="1.0" fill="#FFC800"/>
<rect x="532.7" y="293.6" width="1.4" height="1.4" fill="#FF1800"/>
<rect x="523.2" y="322.1" width="1.0" height="1.0" fill="#8B0000"/>
<rect x="527.0" y="288.8" width="1.4" height="1.4" fill="#8B0000"/>
<rect x="529.4" y="298.3" width="1.2" height="1.2" fill="#8B0000"/>
<rect x="526.8" y="330.2" width="1.2" height="1.2" fill="#8B0000"/>
<rect x="524.6" y="303.8" width="1.1" height="1.1" fill="#8B0000"/>
<rect x="528.1" y="294.7" width="1.2" height="1.2" fill="#8B0000"/>
<rect x="542.8" y="309.1" width="0.9" height="0.9" fill="#8B0000"/>
<rect x="527.2" y="302.2" width="1.2" height="1.2" fill="#8B0000"/>
<rect x="530.8" y="302.6" width="1.3" height="1.3" fill="#8B0000"/>
<rect x="527.4" y="315.3" width="1.1" height="1.1" fill="#8B0000"/>
<rect x="520.7" y="320.9" width="1.2" height="1.2" fill="#8B0000"/>
<rect x="516.5" y="316.4" width="0.9" height="0.9" fill="#8B0000"/>
<rect x="535.9" y="325.2" width="1.5" height="1.5" fill="#FF1800"/>
<rect x="534.0" y="308.3" width="1.3" height="1.3" fill="#8B0000"/>
<rect x="523.5" y="301.1" width="1.3" height="1.3" fill="#8B0000"/>
<rect x="534.3" y="323.5" width="1.0" height="1.0" fill="#8B0000"/>
<rect x="531.6" y="291.5" width="1.5" height="1.5" fill="#FFC800"/>
<rect x="531.3" y="298.1" width="1.4" height="1.4" fill="#8B0000"/>
<rect x="520.8" y="317.5" width="1.4" height="1.4" fill="#8B0000"/>
<rect x="536.7" y="318.5" width="1.4" height="1.4" fill="#8B0000"/>
<rect x="530.3" y="319.5" width="1.0" height="1.0" fill="#8B0000"/>
<rect x="528.6" y="296.1" width="1.0" height="1.0" fill="#FF1800"/>
<rect x="541.1" y="301.7" width="1.3" height="1.3" fill="#8B0000"/>
<rect x="519.9" y="334.7" width="1.0" height="1.0" fill="#8B0000"/>
<rect x="526.3" y="311.4" width="1.3" height="1.3" fill="#8B0000"/>
<rect x="524.5" y="326.0" width="1.1" height="1.1" fill="#8B0000"/>
<rect x="538.7" y="286.5" width="0.9" height="0.9" fill="#8B0000"/>
<rect x="543.2" y="311.8" width="1.5" height="1.5" fill="#FF7000"/>
<rect x="511.4" y="330.0" width="1.3" height="1.3" fill="#8B0000"/>
<rect x="452.4" y="482.6" width="1.0" height="1.0" fill="#8B0000"/>
<rect x="453.9" y="493.6" width="1.2" height="1.2" fill="#8B0000"/>
<rect x="454.6" y="498.7" width="1.1" height="1.1" fill="#8B0000"/>
<rect x="441.5" y="474.1" width="1.4" height="1.4" fill="#8B0000"/>
<rect x="460.4" y="505.5" width="1.3" height="1.3" fill="#8B0000"/>
<rect x="455.5" y="496.7" width="1.2" height="1.2" fill="#8B0000"/>
<rect x="450.6" y="489.8" width="1.1" height="1.1" fill="#8B0000"/>
<rect x="456.9" y="509.5" width="1.3" height="1.3" fill="#8B0000"/>
<rect x="453.6" y="498.7" width="1.2" height="1.2" fill="#8B0000"/>
<rect x="453.2" y="498.3" width="1.3" height="1.3" fill="#8B0000"/>
<rect x="447.8" y="480.1" width="1.0" height="1.0" fill="#8B0000"/>
<rect x="447.6" y="474.9" width="1.4" height="1.4" fill="#8B0000"/>
<rect x="450.4" y="489.6" width="1.3" height="1.3" fill="#8B0000"/>
<rect x="460.0" y="512.0" width="1.1" height="1.1" fill="#8B0000"/>
<rect x="444.2" y="480.6" width="1.1" height="1.1" fill="#8B0000"/>
<rect x="442.1" y="475.9" width="1.5" height="1.5" fill="#8B0000"/>
<rect x="448.1" y="487.7" width="1.0" height="1.0" fill="#8B0000"/>
<rect x="446.4" y="477.9" width="1.3" height="1.3" fill="#8B0000"/>
<rect x="446.9" y="481.3" width="1.0" height="1.0" fill="#8B0000"/>
<rect x="456.5" y="499.4" width="1.0" height="1.0" fill="#8B0000"/>
<rect x="442.0" y="473.5" width="1.0" height="1.0" fill="#8B0000"/>
<rect x="445.0" y="476.5" width="1.4" height="1.4" fill="#8B0000"/>
<rect x="440.8" y="473.6" width="1.1" height="1.1" fill="#8B0000"/>
<rect x="451.4" y="494.6" width="1.2" height="1.2" fill="#8B0000"/>
<rect x="460.8" y="508.6" width="1.0" height="1.0" fill="#8B0000"/>
<rect x="445.5" y="472.5" width="1.1" height="1.1" fill="#8B0000"/>
<rect x="446.3" y="475.7" width="1.4" height="1.4" fill="#8B0000"/>
<rect x="454.3" y="491.8" width="1.0" height="1.0" fill="#8B0000"/>
<rect x="452.4" y="492.5" width="1.2" height="1.2" fill="#8B0000"/>
<rect x="451.2" y="489.0" width="1.1" height="1.1" fill="#8B0000"/>
<rect x="448.2" y="475.5" width="0.9" height="0.9" fill="#8B0000"/>
<rect x="453.5" y="502.0" width="1.4" height="1.4" fill="#8B0000"/>
<rect x="450.1" y="477.5" width="1.5" height="1.5" fill="#8B0000"/>
<rect x="451.6" y="481.2" width="1.0" height="1.0" fill="#8B0000"/>
<rect x="454.9" y="506.4" width="1.5" height="1.5" fill="#8B0000"/>
<rect x="449.9" y="478.9" width="1.1" height="1.1" fill="#8B0000"/>
<rect x="458.3" y="499.5" width="1.3" height="1.3" fill="#8B0000"/>
<rect x="446.5" y="481.4" width="1.3" height="1.3" fill="#8B0000"/>
<rect x="453.5" y="494.1" width="1.5" height="1.5" fill="#8B0000"/>
<rect x="450.3" y="479.1" width="1.2" height="1.2" fill="#8B0000"/>
<rect x="463.3" y="511.5" width="1.0" height="1.0" fill="#8B0000"/>
<rect x="449.0" y="487.9" width="1.1" height="1.1" fill="#8B0000"/>
<rect x="453.1" y="489.4" width="1.2" height="1.2" fill="#8B0000"/>
<rect x="454.6" y="500.0" width="1.3" height="1.3" fill="#8B0000"/>
<rect x="451.3" y="493.6" width="1.2" height="1.2" fill="#8B0000"/>
<rect x="458.7" y="513.5" width="1.4" height="1.4" fill="#8B0000"/>
<rect x="440.0" y="472.6" width="0.9" height="0.9" fill="#8B0000"/>
<rect x="460.6" y="510.8" width="1.0" height="1.0" fill="#8B0000"/>
<rect x="446.3" y="478.6" width="1.0" height="1.0" fill="#8B0000"/>
<rect x="458.1" y="515.0" width="1.0" height="1.0" fill="#8B0000"/>
<rect x="458.4" y="500.8" width="1.1" height="1.1" fill="#8B0000"/>
<rect x="454.1" y="494.5" width="1.4" height="1.4" fill="#8B0000"/>
<rect x="440.3" y="470.7" width="1.0" height="1.0" fill="#8B0000"/>
<rect x="455.2" y="496.0" width="1.2" height="1.2" fill="#8B0000"/>
<rect x="455.5" y="488.2" width="1.4" height="1.4" fill="#8B0000"/>
<rect x="451.3" y="488.7" width="1.4" height="1.4" fill="#8B0000"/>
<rect x="452.0" y="490.9" width="1.1" height="1.1" fill="#8B0000"/>
<rect x="445.7" y="476.2" width="1.4" height="1.4" fill="#8B0000"/>
<rect x="453.4" y="502.8" width="1.3" height="1.3" fill="#8B0000"/>
<rect x="458.8" y="514.7" width="1.3" height="1.3" fill="#8B0000"/>
<rect x="461.4" y="514.8" width="1.0" height="1.0" fill="#8B0000"/>
<rect x="454.6" y="497.3" width="1.3" height="1.3" fill="#8B0000"/>
<rect x="448.4" y="480.7" width="1.4" height="1.4" fill="#8B0000"/>
<rect x="458.9" y="499.6" width="1.1" height="1.1" fill="#8B0000"/>
<rect x="455.1" y="507.2" width="0.9" height="0.9" fill="#8B0000"/>
<rect x="454.0" y="496.9" width="1.2" height="1.2" fill="#8B0000"/>
<rect x="445.5" y="472.3" width="0.9" height="0.9" fill="#8B0000"/>
<rect x="445.5" y="472.2" width="1.0" height="1.0" fill="#8B0000"/>
<rect x="462.2" y="507.4" width="1.3" height="1.3" fill="#8B0000"/>
<rect x="459.6" y="511.2" width="1.4" height="1.4" fill="#8B0000"/>
<rect x="446.0" y="477.6" width="1.3" height="1.3" fill="#8B0000"/>
<rect x="445.0" y="471.2" width="1.1" height="1.1" fill="#8B0000"/>
<rect x="448.8" y="483.3" width="1.3" height="1.3" fill="#8B0000"/>
<rect x="443.2" y="477.2" width="1.2" height="1.2" fill="#8B0000"/>
<rect x="443.2" y="476.3" width="1.0" height="1.0" fill="#8B0000"/>
<rect x="446.2" y="472.3" width="1.4" height="1.4" fill="#8B0000"/>
<rect x="463.0" y="512.7" width="1.3" height="1.3" fill="#8B0000"/>
<rect x="445.4" y="482.3" width="1.4" height="1.4" fill="#8B0000"/>
<rect x="459.4" y="499.2" width="1.1" height="1.1" fill="#8B0000"/>
<rect x="448.2" y="483.1" width="1.2" height="1.2" fill="#8B0000"/>
<rect x="453.5" y="484.8" width="1.4" height="1.4" fill="#8B0000"/>
<rect x="445.3" y="472.6" width="1.2" height="1.2" fill="#8B0000"/>
<rect x="455.7" y="505.7" width="1.2" height="1.2" fill="#8B0000"/>
<rect x="455.4" y="493.0" width="1.4" height="1.4" fill="#8B0000"/>
<rect x="457.0" y="500.8" width="1.3" height="1.3" fill="#8B0000"/>
<rect x="456.7" y="508.7" width="1.3" height="1.3" fill="#8B0000"/>
<rect x="460.1" y="512.6" width="1.0" height="1.0" fill="#8B0000"/>
<rect x="445.0" y="473.9" width="1.1" height="1.1" fill="#8B0000"/>
<rect x="460.1" y="504.9" width="1.1" height="1.1" fill="#8B0000"/>
<rect x="447.3" y="484.3" width="1.3" height="1.3" fill="#8B0000"/>
<rect x="457.7" y="497.7" width="1.3" height="1.3" fill="#8B0000"/>
<rect x="440.5" y="473.8" width="1.3" height="1.3" fill="#8B0000"/>
<rect x="454.5" y="487.7" width="1.3" height="1.3" fill="#8B0000"/>
<rect x="452.3" y="488.2" width="1.3" height="1.3" fill="#8B0000"/>
<rect x="460.3" y="514.1" width="1.3" height="1.3" fill="#8B0000"/>
<rect x="459.3" y="503.7" width="1.0" height="1.0" fill="#8B0000"/>
<rect x="446.5" y="480.9" width="1.1" height="1.1" fill="#8B0000"/>
<rect x="449.2" y="481.8" width="1.4" height="1.4" fill="#8B0000"/>
<rect x="445.5" y="471.6" width="1.2" height="1.2" fill="#8B0000"/>
<rect x="449.5" y="488.4" width="1.0" height="1.0" fill="#8B0000"/>
<rect x="454.1" y="500.0" width="1.4" height="1.4" fill="#8B0000"/>
<rect x="449.9" y="484.9" width="1.1" height="1.1" fill="#8B0000"/>
<rect x="444.8" y="479.1" width="1.5" height="1.5" fill="#8B0000"/>
<rect x="462.2" y="513.5" width="1.5" height="1.5" fill="#8B0000"/>
<rect x="451.2" y="485.9" width="1.2" height="1.2" fill="#8B0000"/>
<rect x="443.3" y="470.2" width="1.3" height="1.3" fill="#8B0000"/>
<rect x="446.8" y="484.1" width="1.4" height="1.4" fill="#8B0000"/>
<rect x="445.6" y="480.2" width="1.1" height="1.1" fill="#8B0000"/>
<rect x="453.3" y="495.8" width="1.0" height="1.0" fill="#8B0000"/>
<rect x="453.3" y="490.0" width="1.3" height="1.3" fill="#8B0000"/>
<rect x="439.9" y="470.5" width="1.4" height="1.4" fill="#8B0000"/>
<rect x="446.6" y="483.9" width="1.2" height="1.2" fill="#8B0000"/>
<rect x="458.3" y="514.9" width="1.4" height="1.4" fill="#8B0000"/>
<rect x="459.4" y="501.9" width="1.0" height="1.0" fill="#8B0000"/>
<rect x="455.8" y="498.0" width="1.2" height="1.2" fill="#8B0000"/>
<rect x="455.1" y="500.9" width="1.3" height="1.3" fill="#8B0000"/>
<rect x="456.6" y="506.6" width="1.0" height="1.0" fill="#8B0000"/>
<rect x="459.2" y="513.4" width="1.2" height="1.2" fill="#8B0000"/>
<rect x="450.8" y="478.9" width="1.4" height="1.4" fill="#8B0000"/>
<rect x="445.1" y="480.2" width="1.1" height="1.1" fill="#8B0000"/>
<rect x="457.9" y="504.9" width="1.0" height="1.0" fill="#8B0000"/>
<rect x="460.2" y="507.3" width="1.1" height="1.1" fill="#8B0000"/>
<rect x="453.2" y="487.5" width="1.1" height="1.1" fill="#8B0000"/>
<rect x="459.1" y="511.6" width="1.2" height="1.2" fill="#8B0000"/>
<rect x="460.6" y="509.1" width="1.4" height="1.4" fill="#8B0000"/>
<rect x="448.9" y="484.4" width="1.3" height="1.3" fill="#8B0000"/>
<rect x="445.3" y="476.1" width="1.4" height="1.4" fill="#8B0000"/>
<rect x="441.0" y="474.1" width="1.4" height="1.4" fill="#8B0000"/>
<rect x="454.4" y="499.3" width="1.1" height="1.1" fill="#8B0000"/>
<rect x="443.1" y="472.8" width="0.9" height="0.9" fill="#8B0000"/>
<rect x="453.8" y="490.6" width="1.2" height="1.2" fill="#8B0000"/>
<rect x="459.5" y="514.1" width="1.1" height="1.1" fill="#8B0000"/>
<rect x="450.2" y="482.7" width="0.9" height="0.9" fill="#8B0000"/>
<rect x="438.9" y="470.1" width="1.4" height="1.4" fill="#8B0000"/>
<rect x="451.9" y="494.3" width="1.2" height="1.2" fill="#8B0000"/>
<rect x="452.9" y="497.8" width="1.3" height="1.3" fill="#8B0000"/>
<rect x="445.0" y="479.6" width="1.5" height="1.5" fill="#8B0000"/>
<rect x="462.4" y="513.5" width="1.0" height="1.0" fill="#8B0000"/>
<rect x="451.8" y="497.4" width="1.0" height="1.0" fill="#8B0000"/>
<rect x="449.7" y="478.1" width="1.4" height="1.4" fill="#8B0000"/>
<rect x="452.9" y="494.2" width="1.4" height="1.4" fill="#8B0000"/>
<rect x="449.1" y="486.4" width="1.0" height="1.0" fill="#8B0000"/>
<rect x="446.2" y="472.7" width="1.4" height="1.4" fill="#8B0000"/>
<rect x="445.1" y="471.3" width="1.4" height="1.4" fill="#8B0000"/>
<rect x="446.1" y="482.0" width="1.2" height="1.2" fill="#8B0000"/>
<rect x="456.8" y="508.8" width="1.2" height="1.2" fill="#8B0000"/>
<rect x="455.8" y="492.6" width="1.2" height="1.2" fill="#8B0000"/>
<rect x="446.5" y="476.5" width="1.1" height="1.1" fill="#8B0000"/>
<rect x="442.7" y="477.2" width="1.2" height="1.2" fill="#8B0000"/>
<rect x="455.8" y="494.8" width="1.3" height="1.3" fill="#8B0000"/>
<rect x="446.6" y="482.6" width="1.5" height="1.5" fill="#8B0000"/>
<rect x="451.4" y="486.3" width="1.1" height="1.1" fill="#8B0000"/>
<rect x="462.8" y="510.4" width="1.3" height="1.3" fill="#8B0000"/>
<rect x="452.4" y="483.5" width="1.4" height="1.4" fill="#8B0000"/>
<rect x="457.7" y="501.0" width="1.1" height="1.1" fill="#8B0000"/>
<rect x="450.9" y="481.4" width="1.0" height="1.0" fill="#8B0000"/>
<rect x="444.8" y="481.3" width="1.3" height="1.3" fill="#8B0000"/>
<rect x="447.3" y="475.2" width="1.0" height="1.0" fill="#8B0000"/>
<rect x="453.1" y="499.9" width="1.5" height="1.5" fill="#8B0000"/>
<rect x="452.4" y="485.6" width="1.2" height="1.2" fill="#8B0000"/>
<rect x="459.4" y="506.9" width="1.4" height="1.4" fill="#8B0000"/>
<rect x="443.8" y="477.4" width="1.3" height="1.3" fill="#8B0000"/>
<rect x="459.6" y="501.2" width="1.4" height="1.4" fill="#8B0000"/>
<rect x="447.1" y="475.1" width="0.9" height="0.9" fill="#8B0000"/>
<rect x="453.5" y="488.2" width="1.2" height="1.2" fill="#8B0000"/>
<rect x="456.0" y="503.9" width="1.2" height="1.2" fill="#8B0000"/>
<rect x="454.0" y="499.5" width="1.4" height="1.4" fill="#8B0000"/>
<rect x="457.7" y="514.9" width="1.2" height="1.2" fill="#8B0000"/>
<rect x="461.8" y="508.2" width="1.3" height="1.3" fill="#8B0000"/>
<rect x="445.2" y="482.3" width="1.4" height="1.4" fill="#8B0000"/>
<rect x="458.9" y="506.5" width="1.4" height="1.4" fill="#8B0000"/>
<rect x="453.2" y="498.6" width="1.0" height="1.0" fill="#8B0000"/>
<rect x="454.0" y="490.2" width="1.4" height="1.4" fill="#8B0000"/>
<rect x="444.9" y="473.8" width="1.0" height="1.0" fill="#8B0000"/>
<rect x="463.6" y="512.0" width="1.0" height="1.0" fill="#8B0000"/>
<rect x="448.4" y="478.4" width="1.0" height="1.0" fill="#8B0000"/>
<rect x="457.6" y="511.1" width="1.3" height="1.3" fill="#8B0000"/>
<rect x="439.9" y="470.5" width="1.2" height="1.2" fill="#8B0000"/>
<rect x="446.3" y="481.1" width="1.0" height="1.0" fill="#8B0000"/>
<rect x="454.7" y="502.8" width="0.9" height="0.9" fill="#8B0000"/>
<rect x="454.0" y="501.5" width="1.4" height="1.4" fill="#8B0000"/>
<rect x="457.3" y="506.9" width="1.1" height="1.1" fill="#8B0000"/>
<rect x="455.1" y="495.1" width="0.9" height="0.9" fill="#8B0000"/>
<rect x="459.8" y="508.4" width="1.1" height="1.1" fill="#8B0000"/>
<rect x="461.7" y="507.1" width="0.9" height="0.9" fill="#8B0000"/>
<rect x="451.6" y="493.3" width="1.1" height="1.1" fill="#8B0000"/>
<rect x="459.0" y="508.5" width="1.2" height="1.2" fill="#8B0000"/>
<rect x="444.4" y="473.8" width="1.2" height="1.2" fill="#8B0000"/>
<rect x="446.2" y="475.6" width="1.0" height="1.0" fill="#8B0000"/>
<rect x="458.5" y="499.2" width="1.2" height="1.2" fill="#8B0000"/>
<rect x="443.9" y="479.0" width="0.9" height="0.9" fill="#8B0000"/>
<rect x="461.6" y="507.5" width="1.4" height="1.4" fill="#8B0000"/>
<rect x="450.6" y="478.4" width="1.4" height="1.4" fill="#8B0000"/>
<rect x="462.6" y="512.0" width="1.0" height="1.0" fill="#8B0000"/>
<rect x="453.4" y="492.1" width="1.0" height="1.0" fill="#8B0000"/>
<rect x="455.0" y="497.1" width="1.0" height="1.0" fill="#8B0000"/>
<rect x="460.6" y="512.2" width="1.4" height="1.4" fill="#8B0000"/>
<rect x="442.8" y="471.0" width="1.0" height="1.0" fill="#8B0000"/>
<rect x="443.2" y="470.8" width="1.1" height="1.1" fill="#8B0000"/>
<rect x="452.8" y="496.0" width="1.2" height="1.2" fill="#8B0000"/>
<rect x="457.1" y="502.6" width="1.1" height="1.1" fill="#8B0000"/>
<rect x="452.9" y="500.0" width="1.3" height="1.3" fill="#8B0000"/>
<rect x="445.9" y="476.6" width="1.0" height="1.0" fill="#8B0000"/>
<rect x="443.0" y="478.4" width="1.1" height="1.1" fill="#8B0000"/>
<rect x="442.9" y="471.4" width="1.3" height="1.3" fill="#8B0000"/>
<rect x="444.7" y="475.8" width="0.9" height="0.9" fill="#8B0000"/>
<rect x="447.3" y="473.1" width="1.4" height="1.4" fill="#8B0000"/>
<rect x="455.5" y="488.7" width="1.2" height="1.2" fill="#8B0000"/>
<rect x="457.3" y="492.9" width="1.2" height="1.2" fill="#8B0000"/>
<rect x="459.6" y="506.3" width="0.9" height="0.9" fill="#8B0000"/>
<rect x="453.0" y="487.1" width="1.4" height="1.4" fill="#8B0000"/>
<rect x="461.6" y="509.1" width="1.2" height="1.2" fill="#8B0000"/>
<rect x="449.0" y="479.4" width="1.0" height="1.0" fill="#8B0000"/>
<rect x="450.9" y="488.2" width="1.4" height="1.4" fill="#8B0000"/>
<rect x="458.4" y="510.2" width="1.1" height="1.1" fill="#8B0000"/>
<rect x="452.9" y="490.4" width="1.1" height="1.1" fill="#8B0000"/>
<rect x="460.7" y="502.7" width="1.5" height="1.5" fill="#8B0000"/>
<rect x="444.9" y="479.0" width="1.2" height="1.2" fill="#8B0000"/>
<rect x="460.5" y="505.7" width="1.1" height="1.1" fill="#8B0000"/>
<rect x="459.8" y="511.5" width="1.2" height="1.2" fill="#8B0000"/>
<rect x="443.7" y="479.3" width="1.0" height="1.0" fill="#8B0000"/>
<rect x="456.9" y="495.6" width="1.4" height="1.4" fill="#8B0000"/>
<rect x="456.5" y="493.8" width="1.1" height="1.1" fill="#8B0000"/>
<rect x="452.8" y="490.0" width="1.3" height="1.3" fill="#8B0000"/>
<rect x="456.3" y="496.2" width="1.2" height="1.2" fill="#8B0000"/>
<rect x="451.8" y="485.6" width="1.5" height="1.5" fill="#8B0000"/>
<rect x="454.5" y="493.9" width="0.9" height="0.9" fill="#8B0000"/>
<rect x="459.7" y="507.4" width="1.2" height="1.2" fill="#8B0000"/>
<rect x="452.6" y="498.6" width="1.1" height="1.1" fill="#8B0000"/>
<rect x="457.0" y="495.0" width="1.1" height="1.1" fill="#8B0000"/>
<rect x="462.7" y="508.9" width="1.1" height="1.1" fill="#8B0000"/>
<rect x="448.8" y="483.7" width="1.4" height="1.4" fill="#8B0000"/>
<rect x="453.6" y="494.2" width="1.3" height="1.3" fill="#8B0000"/>
<rect x="459.2" y="503.6" width="1.0" height="1.0" fill="#8B0000"/>
<rect x="444.1" y="474.0" width="1.0" height="1.0" fill="#8B0000"/>
<rect x="458.6" y="501.6" width="1.1" height="1.1" fill="#8B0000"/>
<rect x="462.7" y="514.1" width="1.5" height="1.5" fill="#8B0000"/>
<rect x="442.4" y="471.5" width="1.0" height="1.0" fill="#8B0000"/>
<rect x="453.1" y="491.7" width="1.4" height="1.4" fill="#8B0000"/>
<rect x="457.2" y="493.3" width="1.2" height="1.2" fill="#8B0000"/>
<rect x="458.8" y="504.4" width="1.0" height="1.0" fill="#8B0000"/>
<rect x="444.6" y="480.3" width="1.1" height="1.1" fill="#8B0000"/>
<rect x="448.5" y="482.6" width="1.1" height="1.1" fill="#8B0000"/>
<rect x="457.4" y="500.4" width="0.9" height="0.9" fill="#8B0000"/>
<rect x="440.6" y="471.4" width="1.4" height="1.4" fill="#8B0000"/>
<rect x="447.1" y="485.3" width="1.1" height="1.1" fill="#8B0000"/>
<rect x="444.6" y="476.0" width="1.3" height="1.3" fill="#8B0000"/>
<rect x="458.6" y="513.9" width="1.1" height="1.1" fill="#8B0000"/>
<rect x="452.6" y="498.2" width="1.1" height="1.1" fill="#8B0000"/>
<rect x="457.1" y="505.7" width="1.2" height="1.2" fill="#8B0000"/>
<rect x="456.8" y="495.1" width="1.4" height="1.4" fill="#8B0000"/>
<rect x="457.8" y="508.7" width="1.2" height="1.2" fill="#8B0000"/>
<rect x="446.9" y="485.4" width="1.4" height="1.4" fill="#8B0000"/>
<rect x="450.9" y="494.8" width="1.2" height="1.2" fill="#8B0000"/>
<rect x="446.9" y="482.0" width="1.0" height="1.0" fill="#8B0000"/>
<rect x="461.3" y="510.5" width="1.1" height="1.1" fill="#8B0000"/>
<rect x="446.6" y="484.7" width="1.1" height="1.1" fill="#8B0000"/>
<rect x="450.9" y="494.6" width="1.5" height="1.5" fill="#8B0000"/>
<rect x="445.1" y="475.3" width="1.3" height="1.3" fill="#8B0000"/>
<rect x="452.9" y="495.5" width="1.2" height="1.2" fill="#8B0000"/>
<rect x="224.0" y="452.1" width="1.0" height="1.0" fill="#8B0000"/>
<rect x="229.6" y="450.2" width="1.3" height="1.3" fill="#8B0000"/>
<rect x="299.8" y="446.1" width="1.3" height="1.3" fill="#8B0000"/>
<rect x="296.9" y="450.4" width="1.4" height="1.4" fill="#8B0000"/>
<rect x="230.4" y="454.5" width="1.0" height="1.0" fill="#8B0000"/>
<rect x="290.2" y="451.3" width="1.2" height="1.2" fill="#8B0000"/>
<rect x="201.9" y="458.2" width="0.9" height="0.9" fill="#FF1800"/>
<rect x="274.1" y="449.0" width="1.0" height="1.0" fill="#8B0000"/>
<rect x="251.3" y="451.7" width="1.3" height="1.3" fill="#8B0000"/>
<rect x="243.5" y="450.0" width="1.4" height="1.4" fill="#8B0000"/>
<rect x="214.6" y="456.4" width="1.3" height="1.3" fill="#FFC800"/>
<rect x="281.0" y="451.8" width="1.5" height="1.5" fill="#8B0000"/>
<rect x="256.4" y="453.3" width="1.1" height="1.1" fill="#8B0000"/>
<rect x="269.2" y="447.8" width="1.1" height="1.1" fill="#FF7000"/>
<rect x="280.6" y="451.3" width="1.1" height="1.1" fill="#8B0000"/>
<rect x="280.3" y="446.7" width="1.5" height="1.5" fill="#FF1800"/>
<rect x="250.5" y="451.5" width="0.9" height="0.9" fill="#8B0000"/>
<rect x="297.4" y="447.5" width="1.2" height="1.2" fill="#8B0000"/>
<rect x="284.8" y="448.9" width="1.0" height="1.0" fill="#FF7000"/>
<rect x="288.8" y="448.7" width="0.9" height="0.9" fill="#8B0000"/>
<rect x="303.4" y="445.9" width="1.2" height="1.2" fill="#8B0000"/>
<rect x="285.8" y="446.9" width="1.0" height="1.0" fill="#FF7000"/>
<rect x="259.4" y="452.8" width="1.2" height="1.2" fill="#8B0000"/>
<rect x="249.9" y="452.6" width="1.1" height="1.1" fill="#FF7000"/>
<rect x="218.0" y="454.9" width="1.4" height="1.4" fill="#8B0000"/>
<rect x="278.2" y="448.4" width="1.2" height="1.2" fill="#8B0000"/>
<rect x="283.6" y="447.5" width="1.0" height="1.0" fill="#8B0000"/>
<rect x="243.0" y="454.1" width="1.4" height="1.4" fill="#8B0000"/>
<rect x="287.9" y="449.9" width="1.5" height="1.5" fill="#FF1800"/>
<rect x="264.5" y="451.1" width="1.2" height="1.2" fill="#8B0000"/>
<rect x="249.4" y="451.0" width="1.1" height="1.1" fill="#8B0000"/>
<rect x="251.0" y="449.4" width="1.1" height="1.1" fill="#FFC800"/>
<rect x="303.6" y="450.9" width="1.4" height="1.4" fill="#8B0000"/>
<rect x="230.5" y="450.8" width="1.3" height="1.3" fill="#8B0000"/>
<rect x="220.3" y="453.2" width="1.0" height="1.0" fill="#8B0000"/>
<rect x="228.9" y="453.5" width="1.0" height="1.0" fill="#8B0000"/>
<rect x="260.6" y="448.6" width="1.3" height="1.3" fill="#8B0000"/>
<rect x="266.4" y="450.3" width="1.2" height="1.2" fill="#8B0000"/>
<rect x="233.8" y="453.6" width="1.5" height="1.5" fill="#FF7000"/>
<rect x="267.9" y="448.6" width="1.2" height="1.2" fill="#8B0000"/>
<rect x="243.0" y="451.8" width="1.1" height="1.1" fill="#8B0000"/>
<rect x="224.8" y="455.6" width="1.0" height="1.0" fill="#8B0000"/>
<rect x="257.8" y="454.0" width="1.4" height="1.4" fill="#8B0000"/>
<rect x="238.9" y="453.6" width="1.1" height="1.1" fill="#8B0000"/>
<rect x="231.1" y="452.4" width="1.1" height="1.1" fill="#8B0000"/>
<rect x="282.7" y="448.3" width="0.9" height="0.9" fill="#8B0000"/>
<rect x="258.9" y="448.5" width="0.9" height="0.9" fill="#FF1800"/>
<rect x="288.8" y="451.2" width="1.3" height="1.3" fill="#8B0000"/>
<rect x="207.5" y="453.4" width="1.3" height="1.3" fill="#8B0000"/>
<rect x="281.3" y="451.3" width="1.4" height="1.4" fill="#8B0000"/>
<rect x="269.8" y="451.0" width="1.2" height="1.2" fill="#8B0000"/>
<rect x="237.3" y="452.2" width="1.3" height="1.3" fill="#FF1800"/>
<rect x="286.1" y="451.4" width="1.3" height="1.3" fill="#8B0000"/>
<rect x="213.7" y="454.5" width="1.2" height="1.2" fill="#8B0000"/>
<rect x="219.8" y="454.7" width="0.9" height="0.9" fill="#8B0000"/>
<rect x="208.0" y="457.0" width="1.1" height="1.1" fill="#8B0000"/>
<rect x="259.4" y="450.0" width="1.2" height="1.2" fill="#8B0000"/>
<rect x="200.8" y="455.2" width="1.0" height="1.0" fill="#FF1800"/>
<rect x="245.8" y="452.2" width="1.4" height="1.4" fill="#8B0000"/>
<rect x="253.3" y="451.8" width="1.0" height="1.0" fill="#FFC800"/>
<rect x="206.4" y="456.7" width="1.0" height="1.0" fill="#8B0000"/>
<rect x="214.2" y="456.7" width="1.1" height="1.1" fill="#8B0000"/>
<rect x="233.6" y="454.8" width="1.2" height="1.2" fill="#8B0000"/>
<rect x="217.5" y="451.7" width="1.2" height="1.2" fill="#8B0000"/>
<rect x="259.0" y="452.1" width="1.2" height="1.2" fill="#8B0000"/>
<rect x="280.1" y="451.8" width="1.1" height="1.1" fill="#8B0000"/>
<rect x="249.6" y="449.3" width="1.2" height="1.2" fill="#8B0000"/>
<rect x="207.8" y="458.4" width="1.2" height="1.2" fill="#8B0000"/>
<rect x="230.5" y="454.7" width="1.1" height="1.1" fill="#8B0000"/>
<rect x="209.4" y="456.8" width="1.4" height="1.4" fill="#FF1800"/>
<rect x="291.0" y="449.8" width="1.5" height="1.5" fill="#8B0000"/>
<rect x="222.6" y="454.6" width="1.1" height="1.1" fill="#FF1800"/>
<rect x="298.9" y="446.6" width="1.4" height="1.4" fill="#8B0000"/>
<rect x="280.2" y="452.2" width="1.3" height="1.3" fill="#8B0000"/>
<rect x="207.3" y="455.8" width="1.4" height="1.4" fill="#8B0000"/>
<rect x="233.3" y="450.1" width="1.1" height="1.1" fill="#8B0000"/>
<rect x="296.5" y="450.7" width="1.0" height="1.0" fill="#8B0000"/>
<rect x="267.2" y="447.8" width="1.3" height="1.3" fill="#8B0000"/>
<rect x="302.2" y="448.6" width="1.5" height="1.5" fill="#8B0000"/>
<rect x="291.3" y="451.3" width="1.1" height="1.1" fill="#FF7000"/>
<rect x="286.7" y="448.4" width="1.4" height="1.4" fill="#8B0000"/>
<rect x="202.8" y="457.1" width="1.0" height="1.0" fill="#FF7000"/>
<rect x="205.0" y="458.8" width="1.2" height="1.2" fill="#8B0000"/>
<rect x="251.7" y="454.5" width="1.3" height="1.3" fill="#8B0000"/>
<rect x="291.4" y="451.3" width="1.1" height="1.1" fill="#8B0000"/>
<rect x="235.4" y="450.4" width="1.2" height="1.2" fill="#8B0000"/>
<rect x="256.0" y="453.5" width="1.1" height="1.1" fill="#8B0000"/>
<rect x="247.7" y="453.7" width="1.3" height="1.3" fill="#8B0000"/>
<rect x="233.7" y="451.9" width="1.0" height="1.0" fill="#FF7000"/>
<rect x="294.1" y="447.4" width="1.4" height="1.4" fill="#8B0000"/>
<rect x="237.1" y="452.1" width="1.3" height="1.3" fill="#8B0000"/>
<rect x="237.1" y="452.2" width="1.2" height="1.2" fill="#FF7000"/>
<rect x="277.0" y="447.5" width="1.1" height="1.1" fill="#8B0000"/>
<rect x="239.3" y="449.7" width="1.4" height="1.4" fill="#8B0000"/>
<rect x="283.2" y="447.6" width="1.3" height="1.3" fill="#8B0000"/>
<rect x="203.6" y="457.9" width="1.3" height="1.3" fill="#FFC800"/>
<rect x="271.4" y="450.6" width="1.5" height="1.5" fill="#FF7000"/>
<rect x="302.2" y="446.1" width="1.3" height="1.3" fill="#8B0000"/>
<rect x="240.5" y="450.0" width="1.0" height="1.0" fill="#8B0000"/>
<rect x="227.1" y="453.8" width="1.0" height="1.0" fill="#FFC800"/>
<rect x="235.2" y="450.2" width="1.1" height="1.1" fill="#8B0000"/>
<rect x="267.8" y="449.9" width="1.3" height="1.3" fill="#8B0000"/>
<rect x="277.0" y="449.7" width="1.2" height="1.2" fill="#8B0000"/>
<rect x="255.1" y="453.6" width="1.5" height="1.5" fill="#8B0000"/>
<rect x="212.7" y="452.6" width="1.2" height="1.2" fill="#FFC800"/>
<rect x="235.5" y="450.0" width="0.9" height="0.9" fill="#8B0000"/>
<rect x="281.5" y="447.8" width="1.0" height="1.0" fill="#FF7000"/>
<rect x="259.1" y="450.1" width="1.2" height="1.2" fill="#8B0000"/>
<rect x="257.2" y="450.3" width="0.9" height="0.9" fill="#8B0000"/>
<rect x="237.8" y="453.4" width="1.3" height="1.3" fill="#8B0000"/>
<rect x="283.5" y="450.8" width="1.2" height="1.2" fill="#FFC800"/>
<rect x="281.1" y="448.3" width="1.3" height="1.3" fill="#8B0000"/>
<rect x="264.7" y="451.4" width="1.4" height="1.4" fill="#8B0000"/>
<rect x="270.9" y="448.7" width="1.5" height="1.5" fill="#8B0000"/>
<rect x="267.2" y="447.3" width="1.2" height="1.2" fill="#FF1800"/>
<rect x="250.2" y="454.2" width="1.4" height="1.4" fill="#8B0000"/>
<rect x="226.7" y="455.9" width="1.4" height="1.4" fill="#8B0000"/>
<rect x="258.5" y="451.8" width="1.0" height="1.0" fill="#8B0000"/>
<rect x="267.1" y="451.4" width="1.2" height="1.2" fill="#8B0000"/>
<rect x="285.5" y="447.7" width="1.3" height="1.3" fill="#8B0000"/>
<rect x="293.5" y="451.5" width="1.2" height="1.2" fill="#8B0000"/>
<rect x="245.5" y="449.8" width="1.5" height="1.5" fill="#8B0000"/>
<rect x="286.0" y="451.2" width="1.0" height="1.0" fill="#8B0000"/>
<rect x="207.3" y="456.7" width="1.1" height="1.1" fill="#8B0000"/>
<rect x="203.5" y="454.8" width="1.1" height="1.1" fill="#8B0000"/>
<rect x="237.3" y="450.9" width="1.0" height="1.0" fill="#8B0000"/>
<rect x="225.2" y="453.6" width="1.5" height="1.5" fill="#8B0000"/>
<rect x="293.9" y="450.2" width="1.3" height="1.3" fill="#FF1800"/>
<rect x="294.2" y="450.5" width="1.0" height="1.0" fill="#8B0000"/>
<rect x="228.2" y="450.5" width="1.2" height="1.2" fill="#8B0000"/>
<rect x="229.4" y="454.0" width="1.4" height="1.4" fill="#8B0000"/>
<rect x="291.5" y="449.0" width="1.3" height="1.3" fill="#8B0000"/>
<rect x="251.7" y="453.7" width="1.3" height="1.3" fill="#FF7000"/>
<rect x="258.3" y="450.7" width="0.9" height="0.9" fill="#8B0000"/>
<rect x="226.4" y="453.7" width="1.0" height="1.0" fill="#FF7000"/>
<rect x="240.5" y="454.3" width="1.4" height="1.4" fill="#8B0000"/>
<rect x="217.3" y="455.3" width="1.4" height="1.4" fill="#8B0000"/>
<rect x="238.8" y="450.8" width="0.9" height="0.9" fill="#8B0000"/>
<rect x="251.7" y="453.5" width="1.3" height="1.3" fill="#8B0000"/>
<rect x="241.0" y="454.3" width="1.1" height="1.1" fill="#8B0000"/>
<rect x="135.6" y="522.3" width="1.3" height="1.3" fill="#8B0000"/>
<rect x="145.9" y="500.7" width="1.1" height="1.1" fill="#8B0000"/>
<rect x="129.2" y="547.1" width="1.0" height="1.0" fill="#8B0000"/>
<rect x="138.5" y="522.4" width="1.2" height="1.2" fill="#8B0000"/>
<rect x="138.2" y="539.6" width="1.4" height="1.4" fill="#FF7000"/>
<rect x="138.4" y="502.4" width="0.9" height="0.9" fill="#8B0000"/>
<rect x="132.7" y="545.0" width="1.3" height="1.3" fill="#8B0000"/>
<rect x="142.9" y="533.0" width="1.0" height="1.0" fill="#8B0000"/>
<rect x="135.3" y="525.8" width="1.3" height="1.3" fill="#8B0000"/>
<rect x="135.6" y="535.9" width="1.4" height="1.4" fill="#FFC800"/>
<rect x="140.4" y="529.3" width="1.0" height="1.0" fill="#8B0000"/>
<rect x="137.2" y="526.2" width="1.2" height="1.2" fill="#8B0000"/>
<rect x="138.8" y="520.8" width="1.1" height="1.1" fill="#FF7000"/>
<rect x="133.5" y="541.9" width="1.5" height="1.5" fill="#8B0000"/>
<rect x="138.0" y="505.2" width="1.3" height="1.3" fill="#8B0000"/>
<rect x="143.1" y="500.5" width="1.2" height="1.2" fill="#8B0000"/>
<rect x="138.1" y="518.2" width="1.2" height="1.2" fill="#8B0000"/>
<rect x="135.7" y="525.2" width="0.9" height="0.9" fill="#8B0000"/>
<rect x="135.7" y="513.1" width="1.1" height="1.1" fill="#8B0000"/>
<rect x="134.8" y="519.1" width="1.1" height="1.1" fill="#8B0000"/>
<rect x="135.2" y="537.8" width="1.1" height="1.1" fill="#8B0000"/>
<rect x="136.9" y="541.9" width="1.0" height="1.0" fill="#FFC800"/>
<rect x="136.1" y="514.8" width="1.1" height="1.1" fill="#8B0000"/>
<rect x="140.0" y="513.2" width="1.3" height="1.3" fill="#8B0000"/>
<rect x="138.8" y="517.1" width="1.4" height="1.4" fill="#8B0000"/>
<rect x="136.6" y="507.2" width="1.3" height="1.3" fill="#8B0000"/>
<rect x="137.2" y="514.7" width="1.1" height="1.1" fill="#8B0000"/>
<rect x="137.9" y="504.4" width="1.1" height="1.1" fill="#FF1800"/>
<rect x="136.6" y="506.6" width="1.0" height="1.0" fill="#8B0000"/>
<rect x="134.5" y="541.8" width="1.0" height="1.0" fill="#8B0000"/>
<rect x="137.5" y="541.3" width="1.4" height="1.4" fill="#8B0000"/>
<rect x="141.4" y="520.5" width="1.1" height="1.1" fill="#FF1800"/>
<rect x="138.3" y="540.3" width="1.1" height="1.1" fill="#FF7000"/>
<rect x="137.3" y="529.8" width="0.9" height="0.9" fill="#8B0000"/>
<rect x="141.1" y="531.9" width="1.0" height="1.0" fill="#8B0000"/>
<rect x="140.4" y="501.9" width="1.2" height="1.2" fill="#8B0000"/>
<rect x="136.9" y="535.6" width="1.2" height="1.2" fill="#8B0000"/>
<rect x="137.9" y="510.2" width="1.5" height="1.5" fill="#FFC800"/>
<rect x="135.2" y="541.9" width="1.3" height="1.3" fill="#8B0000"/>
<rect x="144.5" y="500.6" width="1.4" height="1.4" fill="#8B0000"/>
<rect x="139.2" y="536.0" width="1.5" height="1.5" fill="#8B0000"/>
<rect x="132.5" y="545.3" width="1.0" height="1.0" fill="#FF1800"/>
<rect x="135.0" y="512.8" width="1.3" height="1.3" fill="#8B0000"/>
<rect x="134.4" y="543.0" width="1.2" height="1.2" fill="#8B0000"/>
<rect x="136.7" y="523.7" width="0.9" height="0.9" fill="#8B0000"/>
<rect x="135.5" y="504.8" width="1.1" height="1.1" fill="#FF7000"/>
<rect x="142.9" y="538.0" width="1.3" height="1.3" fill="#8B0000"/>
<rect x="138.2" y="543.7" width="1.4" height="1.4" fill="#8B0000"/>
<rect x="136.6" y="548.2" width="1.2" height="1.2" fill="#8B0000"/>
<rect x="136.9" y="502.3" width="0.9" height="0.9" fill="#8B0000"/>
<rect x="140.5" y="520.0" width="1.3" height="1.3" fill="#FF7000"/>
<rect x="140.6" y="531.9" width="1.5" height="1.5" fill="#8B0000"/>
<rect x="133.1" y="550.0" width="1.2" height="1.2" fill="#8B0000"/>
<rect x="136.2" y="516.0" width="1.2" height="1.2" fill="#8B0000"/>
<rect x="137.4" y="515.6" width="1.5" height="1.5" fill="#8B0000"/>
<rect x="136.3" y="547.5" width="1.0" height="1.0" fill="#8B0000"/>
<rect x="138.1" y="511.0" width="1.3" height="1.3" fill="#8B0000"/>
<rect x="140.1" y="536.1" width="1.1" height="1.1" fill="#8B0000"/>
<rect x="133.0" y="543.9" width="1.1" height="1.1" fill="#8B0000"/>
<rect x="136.5" y="513.3" width="1.4" height="1.4" fill="#8B0000"/>
<rect x="136.2" y="548.4" width="1.3" height="1.3" fill="#8B0000"/>
<rect x="136.2" y="523.7" width="1.0" height="1.0" fill="#FF7000"/>
<rect x="142.7" y="502.5" width="1.5" height="1.5" fill="#8B0000"/>
<rect x="135.3" y="540.9" width="1.4" height="1.4" fill="#8B0000"/>
<rect x="137.6" y="518.0" width="1.4" height="1.4" fill="#8B0000"/>
<rect x="137.6" y="525.4" width="1.1" height="1.1" fill="#8B0000"/>
<rect x="141.9" y="536.8" width="1.3" height="1.3" fill="#8B0000"/>
<rect x="137.5" y="538.4" width="1.5" height="1.5" fill="#8B0000"/>
<rect x="144.0" y="502.6" width="1.1" height="1.1" fill="#8B0000"/>
<rect x="143.5" y="503.6" width="1.1" height="1.1" fill="#8B0000"/>
<rect x="141.2" y="532.1" width="1.2" height="1.2" fill="#FF1800"/>
<rect x="131.9" y="549.5" width="1.0" height="1.0" fill="#8B0000"/>
<rect x="136.7" y="509.0" width="1.0" height="1.0" fill="#8B0000"/>
<rect x="138.6" y="531.4" width="1.3" height="1.3" fill="#8B0000"/>
<rect x="135.8" y="540.9" width="1.1" height="1.1" fill="#8B0000"/>
<rect x="139.4" y="544.6" width="1.2" height="1.2" fill="#8B0000"/>
<rect x="136.9" y="509.7" width="1.0" height="1.0" fill="#8B0000"/>
<rect x="138.4" y="509.2" width="1.5" height="1.5" fill="#8B0000"/>
<rect x="140.7" y="524.9" width="1.5" height="1.5" fill="#FF1800"/>
<rect x="140.9" y="516.9" width="1.3" height="1.3" fill="#8B0000"/>
<rect x="137.6" y="528.6" width="0.9" height="0.9" fill="#8B0000"/>
<rect x="129.6" y="545.7" width="1.4" height="1.4" fill="#FF7000"/>
<rect x="140.0" y="535.2" width="1.5" height="1.5" fill="#8B0000"/>
<rect x="134.0" y="517.0" width="1.3" height="1.3" fill="#FFC800"/>
<rect x="135.3" y="541.6" width="1.3" height="1.3" fill="#8B0000"/>
<rect x="137.4" y="508.2" width="1.4" height="1.4" fill="#8B0000"/>
<rect x="129.8" y="545.9" width="1.1" height="1.1" fill="#8B0000"/>
<rect x="140.3" y="511.2" width="1.0" height="1.0" fill="#8B0000"/>
<rect x="142.5" y="505.8" width="1.2" height="1.2" fill="#8B0000"/>
<rect x="140.3" y="514.9" width="1.1" height="1.1" fill="#8B0000"/>
<rect x="134.2" y="550.0" width="1.0" height="1.0" fill="#8B0000"/>
<rect x="140.7" y="534.2" width="1.4" height="1.4" fill="#FF7000"/>
<rect x="137.6" y="533.3" width="1.1" height="1.1" fill="#8B0000"/>
<rect x="129.5" y="548.2" width="1.2" height="1.2" fill="#8B0000"/>
<rect x="138.2" y="533.9" width="1.1" height="1.1" fill="#8B0000"/>
<rect x="140.4" y="540.2" width="0.9" height="0.9" fill="#8B0000"/>
<rect x="139.5" y="507.0" width="1.4" height="1.4" fill="#8B0000"/>
<rect x="140.3" y="511.0" width="1.0" height="1.0" fill="#FF7000"/>
<rect x="143.6" y="534.5" width="1.4" height="1.4" fill="#8B0000"/>
<rect x="141.4" y="537.0" width="1.1" height="1.1" fill="#8B0000"/>
<rect x="142.1" y="504.8" width="1.2" height="1.2" fill="#8B0000"/>
<rect x="135.7" y="503.7" width="1.5" height="1.5" fill="#8B0000"/>
<rect x="139.6" y="507.3" width="1.2" height="1.2" fill="#8B0000"/>
<rect x="138.1" y="502.4" width="1.2" height="1.2" fill="#8B0000"/>
<rect x="141.2" y="505.7" width="1.3" height="1.3" fill="#8B0000"/>
<rect x="137.2" y="545.0" width="1.0" height="1.0" fill="#8B0000"/>
<rect x="132.1" y="542.7" width="1.3" height="1.3" fill="#8B0000"/>
<rect x="136.4" y="515.9" width="1.3" height="1.3" fill="#8B0000"/>
<rect x="136.6" y="517.4" width="1.4" height="1.4" fill="#8B0000"/>
<rect x="139.5" y="507.0" width="1.2" height="1.2" fill="#8B0000"/>
<rect x="150.0" y="489.4" width="1.3" height="1.3" fill="#FFC800"/>
<rect x="172.1" y="478.9" width="1.0" height="1.0" fill="#8B0000"/>
<rect x="155.7" y="483.0" width="1.3" height="1.3" fill="#8B0000"/>
<rect x="160.3" y="482.5" width="1.5" height="1.5" fill="#FF7000"/>
<rect x="166.0" y="482.5" width="1.3" height="1.3" fill="#FFC800"/>
<rect x="179.4" y="477.1" width="1.4" height="1.4" fill="#8B0000"/>
<rect x="169.1" y="478.0" width="1.5" height="1.5" fill="#8B0000"/>
<rect x="178.2" y="471.8" width="1.2" height="1.2" fill="#8B0000"/>
<rect x="172.1" y="477.5" width="1.2" height="1.2" fill="#8B0000"/>
<rect x="157.9" y="482.2" width="1.3" height="1.3" fill="#8B0000"/>
<rect x="185.1" y="471.4" width="1.4" height="1.4" fill="#8B0000"/>
<rect x="179.9" y="476.5" width="1.2" height="1.2" fill="#8B0000"/>
<rect x="173.4" y="475.0" width="1.2" height="1.2" fill="#8B0000"/>
<rect x="168.7" y="476.7" width="1.2" height="1.2" fill="#8B0000"/>
<rect x="170.3" y="478.0" width="1.2" height="1.2" fill="#8B0000"/>
<rect x="172.0" y="475.5" width="1.1" height="1.1" fill="#8B0000"/>
<rect x="161.0" y="482.4" width="1.4" height="1.4" fill="#8B0000"/>
<rect x="158.4" y="482.4" width="1.3" height="1.3" fill="#8B0000"/>
<rect x="167.3" y="478.9" width="1.2" height="1.2" fill="#8B0000"/>
<rect x="153.9" y="490.4" width="1.4" height="1.4" fill="#8B0000"/>
<rect x="184.9" y="473.7" width="1.3" height="1.3" fill="#8B0000"/>
<rect x="160.3" y="484.0" width="1.2" height="1.2" fill="#8B0000"/>
<rect x="170.2" y="479.0" width="1.0" height="1.0" fill="#FF7000"/>
<rect x="153.0" y="485.9" width="1.5" height="1.5" fill="#8B0000"/>
<rect x="184.9" y="473.1" width="1.2" height="1.2" fill="#8B0000"/>
<rect x="179.8" y="470.5" width="1.4" height="1.4" fill="#8B0000"/>
<rect x="156.7" y="482.5" width="1.0" height="1.0" fill="#8B0000"/>
<rect x="181.3" y="473.0" width="1.1" height="1.1" fill="#8B0000"/>
<rect x="164.7" y="484.2" width="1.4" height="1.4" fill="#8B0000"/>
<rect x="150.4" y="490.8" width="1.4" height="1.4" fill="#8B0000"/>
<rect x="170.2" y="476.9" width="1.5" height="1.5" fill="#8B0000"/>
<rect x="163.7" y="481.1" width="1.2" height="1.2" fill="#8B0000"/>
<rect x="183.7" y="472.0" width="1.4" height="1.4" fill="#8B0000"/>
<rect x="184.0" y="473.0" width="1.3" height="1.3" fill="#8B0000"/>
<rect x="152.3" y="493.2" width="1.5" height="1.5" fill="#FF7000"/>
<rect x="152.3" y="487.7" width="1.0" height="1.0" fill="#8B0000"/>
<rect x="170.3" y="482.0" width="1.0" height="1.0" fill="#8B0000"/>
<rect x="166.6" y="478.1" width="0.9" height="0.9" fill="#8B0000"/>
<rect x="160.9" y="484.0" width="1.4" height="1.4" fill="#8B0000"/>
<rect x="160.1" y="482.0" width="1.1" height="1.1" fill="#8B0000"/>
<rect x="235.9" y="453.2" width="1.2" height="1.2" fill="#FF7000"/>
<rect x="201.7" y="459.8" width="1.0" height="1.0" fill="#8B0000"/>
<rect x="214.3" y="456.2" width="1.2" height="1.2" fill="#8B0000"/>
<rect x="223.7" y="453.4" width="0.9" height="0.9" fill="#8B0000"/>
<rect x="236.5" y="448.8" width="1.3" height="1.3" fill="#8B0000"/>
<rect x="210.6" y="454.8" width="1.1" height="1.1" fill="#8B0000"/>
<rect x="202.1" y="458.3" width="1.3" height="1.3" fill="#8B0000"/>
<rect x="202.5" y="455.6" width="1.1" height="1.1" fill="#8B0000"/>
<rect x="225.1" y="451.6" width="1.1" height="1.1" fill="#8B0000"/>
<rect x="213.7" y="454.9" width="1.2" height="1.2" fill="#FF7000"/>
<rect x="227.4" y="451.4" width="1.2" height="1.2" fill="#8B0000"/>
<rect x="202.8" y="455.3" width="1.0" height="1.0" fill="#8B0000"/>
<rect x="195.4" y="458.9" width="1.4" height="1.4" fill="#8B0000"/>
<rect x="210.3" y="456.1" width="1.0" height="1.0" fill="#FF1800"/>
<rect x="226.3" y="449.3" width="1.0" height="1.0" fill="#FFC800"/>
<rect x="227.1" y="453.7" width="1.1" height="1.1" fill="#8B0000"/>
<rect x="193.5" y="462.2" width="1.4" height="1.4" fill="#8B0000"/>
<rect x="238.5" y="451.5" width="1.4" height="1.4" fill="#8B0000"/>
<rect x="211.5" y="452.2" width="1.0" height="1.0" fill="#8B0000"/>
<rect x="240.0" y="450.3" width="1.3" height="1.3" fill="#FF1800"/>
<rect x="192.6" y="460.8" width="1.4" height="1.4" fill="#8B0000"/>
<rect x="232.0" y="453.7" width="1.1" height="1.1" fill="#FF7000"/>
<rect x="231.0" y="453.3" width="1.3" height="1.3" fill="#8B0000"/>
<rect x="204.8" y="455.8" width="1.5" height="1.5" fill="#8B0000"/>
<rect x="238.5" y="448.6" width="1.1" height="1.1" fill="#8B0000"/>
<rect x="193.6" y="465.8" width="1.2" height="1.2" fill="#8B0000"/>
<rect x="222.3" y="454.5" width="1.4" height="1.4" fill="#FF7000"/>
<rect x="226.3" y="454.0" width="1.5" height="1.5" fill="#8B0000"/>
<rect x="200.6" y="458.9" width="1.1" height="1.1" fill="#8B0000"/>
<rect x="225.1" y="456.1" width="1.4" height="1.4" fill="#8B0000"/>
<rect x="234.8" y="449.6" width="1.0" height="1.0" fill="#8B0000"/>
<rect x="189.9" y="465.4" width="1.1" height="1.1" fill="#8B0000"/>
<rect x="233.3" y="454.7" width="1.1" height="1.1" fill="#8B0000"/>
<rect x="187.9" y="464.7" width="1.0" height="1.0" fill="#FF7000"/>
<rect x="194.4" y="461.1" width="1.2" height="1.2" fill="#FF1800"/>
<rect x="236.9" y="451.6" width="1.1" height="1.1" fill="#8B0000"/>
<rect x="230.2" y="453.2" width="1.4" height="1.4" fill="#8B0000"/>
<rect x="218.9" y="454.9" width="1.0" height="1.0" fill="#FF7000"/>
<rect x="196.8" y="460.4" width="1.3" height="1.3" fill="#8B0000"/>
<rect x="195.5" y="463.1" width="1.0" height="1.0" fill="#8B0000"/>
<rect x="202.0" y="454.6" width="1.0" height="1.0" fill="#8B0000"/>
<rect x="220.2" y="454.5" width="1.2" height="1.2" fill="#FF1800"/>
<rect x="190.6" y="467.7" width="1.4" height="1.4" fill="#FF1800"/>
<rect x="232.6" y="451.3" width="1.3" height="1.3" fill="#8B0000"/>
<rect x="186.2" y="469.7" width="1.2" height="1.2" fill="#8B0000"/>
<rect x="221.6" y="450.6" width="1.2" height="1.2" fill="#8B0000"/>
<rect x="190.9" y="464.0" width="0.9" height="0.9" fill="#8B0000"/>
<rect x="239.0" y="451.7" width="1.0" height="1.0" fill="#8B0000"/>
<rect x="214.7" y="451.6" width="1.1" height="1.1" fill="#FF7000"/>
<rect x="231.4" y="453.4" width="1.3" height="1.3" fill="#FF1800"/>
<rect x="215.4" y="452.1" width="1.3" height="1.3" fill="#FFC800"/>
<rect x="202.1" y="453.2" width="1.3" height="1.3" fill="#FFC800"/>
<rect x="186.9" y="469.3" width="1.4" height="1.4" fill="#8B0000"/>
<rect x="200.8" y="457.3" width="1.3" height="1.3" fill="#8B0000"/>
<rect x="205.6" y="457.0" width="1.4" height="1.4" fill="#8B0000"/>
<rect x="215.3" y="454.6" width="1.2" height="1.2" fill="#FF7000"/>
<rect x="191.0" y="462.4" width="0.9" height="0.9" fill="#FFC800"/>
<rect x="217.3" y="454.5" width="1.1" height="1.1" fill="#8B0000"/>
<rect x="207.0" y="455.2" width="0.9" height="0.9" fill="#8B0000"/>
<rect x="197.2" y="456.1" width="1.0" height="1.0" fill="#8B0000"/>
<rect x="190.1" y="465.2" width="1.4" height="1.4" fill="#8B0000"/>
<rect x="187.5" y="468.3" width="1.3" height="1.3" fill="#8B0000"/>
<rect x="231.9" y="455.2" width="1.4" height="1.4" fill="#8B0000"/>
<rect x="207.8" y="453.5" width="1.3" height="1.3" fill="#8B0000"/>
<rect x="220.0" y="451.3" width="1.4" height="1.4" fill="#8B0000"/>
<rect x="216.4" y="452.1" width="1.5" height="1.5" fill="#8B0000"/>
<rect x="212.0" y="452.2" width="1.0" height="1.0" fill="#8B0000"/>
<rect x="231.5" y="449.9" width="1.1" height="1.1" fill="#8B0000"/>
<rect x="239.4" y="455.2" width="1.3" height="1.3" fill="#8B0000"/>
<rect x="205.7" y="454.5" width="1.5" height="1.5" fill="#8B0000"/>
<rect x="337.8" y="448.6" width="1.1" height="1.1" fill="#FF7000"/>
<rect x="357.3" y="453.2" width="1.2" height="1.2" fill="#8B0000"/>
<rect x="353.4" y="448.8" width="1.1" height="1.1" fill="#8B0000"/>
<rect x="343.3" y="449.3" width="1.0" height="1.0" fill="#8B0000"/>
<rect x="345.1" y="446.1" width="1.5" height="1.5" fill="#8B0000"/>
<rect x="305.2" y="448.4" width="1.2" height="1.2" fill="#8B0000"/>
<rect x="314.7" y="452.6" width="1.5" height="1.5" fill="#8B0000"/>
<rect x="353.5" y="448.0" width="1.0" height="1.0" fill="#8B0000"/>
<rect x="335.5" y="446.6" width="0.9" height="0.9" fill="#FF1800"/>
<rect x="349.5" y="450.7" width="1.0" height="1.0" fill="#8B0000"/>
<rect x="351.5" y="449.6" width="1.0" height="1.0" fill="#FF7000"/>
<rect x="354.1" y="447.5" width="1.3" height="1.3" fill="#FFC800"/>
<rect x="306.6" y="450.0" width="1.4" height="1.4" fill="#8B0000"/>
<rect x="323.1" y="448.6" width="1.0" height="1.0" fill="#FFC800"/>
<rect x="321.2" y="449.7" width="1.4" height="1.4" fill="#8B0000"/>
<rect x="340.1" y="446.7" width="1.0" height="1.0" fill="#8B0000"/>
<rect x="350.6" y="447.4" width="1.4" height="1.4" fill="#8B0000"/>
<rect x="317.8" y="452.3" width="1.3" height="1.3" fill="#8B0000"/>
<rect x="372.1" y="463.9" width="1.3" height="1.3" fill="#8B0000"/>
<rect x="394.9" y="451.6" width="1.5" height="1.5" fill="#8B0000"/>
<rect x="387.0" y="457.7" width="1.3" height="1.3" fill="#8B0000"/>
<rect x="365.0" y="458.5" width="1.0" height="1.0" fill="#8B0000"/>
<rect x="366.7" y="454.1" width="1.4" height="1.4" fill="#FF7000"/>
<rect x="396.6" y="457.9" width="1.4" height="1.4" fill="#8B0000"/>
<rect x="366.0" y="457.8" width="1.4" height="1.4" fill="#FF7000"/>
<rect x="382.5" y="457.7" width="1.3" height="1.3" fill="#FF1800"/>
<rect x="403.2" y="457.9" width="1.3" height="1.3" fill="#8B0000"/>
<rect x="392.8" y="457.2" width="1.2" height="1.2" fill="#8B0000"/>
<rect x="390.2" y="452.4" width="1.2" height="1.2" fill="#8B0000"/>
<rect x="367.3" y="455.5" width="1.4" height="1.4" fill="#8B0000"/>
<rect x="415.8" y="468.7" width="1.2" height="1.2" fill="#8B0000"/>
<rect x="379.6" y="460.0" width="1.1" height="1.1" fill="#8B0000"/>
<rect x="418.2" y="481.6" width="1.5" height="1.5" fill="#FF1800"/>
<rect x="374.1" y="461.1" width="1.3" height="1.3" fill="#8B0000"/>
<rect x="373.0" y="459.1" width="1.1" height="1.1" fill="#8B0000"/>
<rect x="419.0" y="482.5" width="1.5" height="1.5" fill="#8B0000"/>
<rect x="400.4" y="461.8" width="1.5" height="1.5" fill="#8B0000"/>
<rect x="402.4" y="458.5" width="1.3" height="1.3" fill="#FF1800"/>
<rect x="377.7" y="461.0" width="1.4" height="1.4" fill="#8B0000"/>
<rect x="364.3" y="456.2" width="1.4" height="1.4" fill="#8B0000"/>
<rect x="405.8" y="466.3" width="1.5" height="1.5" fill="#FF1800"/>
<rect x="417.3" y="476.5" width="1.0" height="1.0" fill="#8B0000"/>
<rect x="383.0" y="457.8" width="1.2" height="1.2" fill="#8B0000"/>
<rect x="403.3" y="463.0" width="1.0" height="1.0" fill="#8B0000"/>
<rect x="384.3" y="454.2" width="1.3" height="1.3" fill="#8B0000"/>
<rect x="388.8" y="454.1" width="1.0" height="1.0" fill="#8B0000"/>
<rect x="385.5" y="457.0" width="1.4" height="1.4" fill="#8B0000"/>
<rect x="389.7" y="451.2" width="1.0" height="1.0" fill="#8B0000"/>
<rect x="409.5" y="468.5" width="1.4" height="1.4" fill="#FFC800"/>
<rect x="390.0" y="454.8" width="1.2" height="1.2" fill="#8B0000"/>
<rect x="399.0" y="460.5" width="1.0" height="1.0" fill="#8B0000"/>
<rect x="387.3" y="452.3" width="1.2" height="1.2" fill="#8B0000"/>
<rect x="378.6" y="456.3" width="1.4" height="1.4" fill="#8B0000"/>
<rect x="406.6" y="462.5" width="1.3" height="1.3" fill="#8B0000"/>
<rect x="364.4" y="459.9" width="1.0" height="1.0" fill="#8B0000"/>
<rect x="389.0" y="456.9" width="1.3" height="1.3" fill="#8B0000"/>
<rect x="382.7" y="454.7" width="1.2" height="1.2" fill="#8B0000"/>
<rect x="418.2" y="472.2" width="1.4" height="1.4" fill="#8B0000"/>
<rect x="411.9" y="466.6" width="1.4" height="1.4" fill="#8B0000"/>
<rect x="360.7" y="449.6" width="1.0" height="1.0" fill="#8B0000"/>
<rect x="417.9" y="481.3" width="1.0" height="1.0" fill="#8B0000"/>
<rect x="415.6" y="483.2" width="1.0" height="1.0" fill="#8B0000"/>
<rect x="373.9" y="458.8" width="1.4" height="1.4" fill="#8B0000"/>
<rect x="384.6" y="451.7" width="1.2" height="1.2" fill="#8B0000"/>
<rect x="377.5" y="455.2" width="1.5" height="1.5" fill="#FFC800"/>
<rect x="395.2" y="458.4" width="1.3" height="1.3" fill="#8B0000"/>
<rect x="379.7" y="458.0" width="1.4" height="1.4" fill="#8B0000"/>
<rect x="418.5" y="473.1" width="1.3" height="1.3" fill="#8B0000"/>
<rect x="390.7" y="450.3" width="1.4" height="1.4" fill="#8B0000"/>
<rect x="374.3" y="463.7" width="1.4" height="1.4" fill="#8B0000"/>
<rect x="379.5" y="461.3" width="1.4" height="1.4" fill="#8B0000"/>
<rect x="391.6" y="453.2" width="1.2" height="1.2" fill="#8B0000"/>
<rect x="365.2" y="457.7" width="1.3" height="1.3" fill="#8B0000"/>
<rect x="413.8" y="474.3" width="1.5" height="1.5" fill="#FFC800"/>
<rect x="407.3" y="465.4" width="1.0" height="1.0" fill="#8B0000"/>
<rect x="414.9" y="466.7" width="1.3" height="1.3" fill="#8B0000"/>
<rect x="402.6" y="464.7" width="1.2" height="1.2" fill="#8B0000"/>
<rect x="372.4" y="457.3" width="1.1" height="1.1" fill="#8B0000"/>
<rect x="367.9" y="454.7" width="0.9" height="0.9" fill="#FF1800"/>
<rect x="392.3" y="450.5" width="1.2" height="1.2" fill="#8B0000"/>
<rect x="360.2" y="452.7" width="1.1" height="1.1" fill="#8B0000"/>
<rect x="414.7" y="477.1" width="1.0" height="1.0" fill="#8B0000"/>
<rect x="396.5" y="452.8" width="1.5" height="1.5" fill="#8B0000"/>
<rect x="396.8" y="455.7" width="0.9" height="0.9" fill="#8B0000"/>
<rect x="417.6" y="480.5" width="1.1" height="1.1" fill="#8B0000"/>
<rect x="403.7" y="460.6" width="0.9" height="0.9" fill="#8B0000"/>
<rect x="415.0" y="476.3" width="1.1" height="1.1" fill="#8B0000"/>
<rect x="418.8" y="474.7" width="1.1" height="1.1" fill="#FF1800"/>
<rect x="419.9" y="479.3" width="1.3" height="1.3" fill="#8B0000"/>
<rect x="366.0" y="459.3" width="1.4" height="1.4" fill="#8B0000"/>
<rect x="400.8" y="456.9" width="1.3" height="1.3" fill="#8B0000"/>
<rect x="390.6" y="456.8" width="1.1" height="1.1" fill="#FF1800"/>
<rect x="402.1" y="463.0" width="1.1" height="1.1" fill="#FF1800"/>
<rect x="399.7" y="458.9" width="1.4" height="1.4" fill="#8B0000"/>
<rect x="390.9" y="456.0" width="1.3" height="1.3" fill="#8B0000"/>
<rect x="394.1" y="458.2" width="1.1" height="1.1" fill="#8B0000"/>
<rect x="407.1" y="465.8" width="1.1" height="1.1" fill="#8B0000"/>
<rect x="362.2" y="454.2" width="1.1" height="1.1" fill="#FF7000"/>
<rect x="400.8" y="456.7" width="1.0" height="1.0" fill="#8B0000"/>
<rect x="373.9" y="459.0" width="1.4" height="1.4" fill="#8B0000"/>
<rect x="379.1" y="460.4" width="1.1" height="1.1" fill="#8B0000"/>
<rect x="411.8" y="463.7" width="1.0" height="1.0" fill="#FF1800"/>
<rect x="410.8" y="471.8" width="1.4" height="1.4" fill="#8B0000"/>
<rect x="399.6" y="459.1" width="1.4" height="1.4" fill="#8B0000"/>
<rect x="379.0" y="458.1" width="1.4" height="1.4" fill="#8B0000"/>
<rect x="408.3" y="460.5" width="1.5" height="1.5" fill="#FF7000"/>
<rect x="375.2" y="462.0" width="1.3" height="1.3" fill="#FFC800"/>
<rect x="408.2" y="465.3" width="1.0" height="1.0" fill="#FF1800"/>
<rect x="420.2" y="508.2" width="1.2" height="1.2" fill="#8B0000"/>
<rect x="430.7" y="520.6" width="1.4" height="1.4" fill="#8B0000"/>
<rect x="416.3" y="484.8" width="1.0" height="1.0" fill="#8B0000"/>
<rect x="418.9" y="487.4" width="1.0" height="1.0" fill="#8B0000"/>
<rect x="431.9" y="520.1" width="1.1" height="1.1" fill="#8B0000"/>
<rect x="419.5" y="501.2" width="1.0" height="1.0" fill="#8B0000"/>
<rect x="426.2" y="511.8" width="1.4" height="1.4" fill="#FF7000"/>
<rect x="427.8" y="510.1" width="1.0" height="1.0" fill="#8B0000"/>
<rect x="421.2" y="499.8" width="1.2" height="1.2" fill="#FFC800"/>
<rect x="416.5" y="500.0" width="1.3" height="1.3" fill="#8B0000"/>
<rect x="431.3" y="515.6" width="1.1" height="1.1" fill="#FFC800"/>
<rect x="425.5" y="510.1" width="1.1" height="1.1" fill="#8B0000"/>
<rect x="421.6" y="510.8" width="1.0" height="1.0" fill="#FF1800"/>
<rect x="424.9" y="512.2" width="1.0" height="1.0" fill="#8B0000"/>
<rect x="424.3" y="510.9" width="1.1" height="1.1" fill="#8B0000"/>
<rect x="419.4" y="492.6" width="1.0" height="1.0" fill="#FF7000"/>
<rect x="418.5" y="504.4" width="1.0" height="1.0" fill="#8B0000"/>
<rect x="438.0" y="528.0" width="1.2" height="1.2" fill="#8B0000"/>
<rect x="416.6" y="489.6" width="1.3" height="1.3" fill="#8B0000"/>
<rect x="421.5" y="505.1" width="1.2" height="1.2" fill="#8B0000"/>
<rect x="423.0" y="510.5" width="1.3" height="1.3" fill="#8B0000"/>
<rect x="424.2" y="511.6" width="1.3" height="1.3" fill="#8B0000"/>
<rect x="418.0" y="481.1" width="1.4" height="1.4" fill="#8B0000"/>
<rect x="421.4" y="506.1" width="1.2" height="1.2" fill="#8B0000"/>
<rect x="432.3" y="516.3" width="1.4" height="1.4" fill="#8B0000"/>
<rect x="437.4" y="526.5" width="0.9" height="0.9" fill="#8B0000"/>
<rect x="435.1" y="527.5" width="1.3" height="1.3" fill="#8B0000"/>
<rect x="420.8" y="483.8" width="1.3" height="1.3" fill="#FFC800"/>
<rect x="418.8" y="505.1" width="1.1" height="1.1" fill="#8B0000"/>
<rect x="422.4" y="512.1" width="1.5" height="1.5" fill="#8B0000"/>
<rect x="438.7" y="528.4" width="1.0" height="1.0" fill="#8B0000"/>
<rect x="420.0" y="498.9" width="1.3" height="1.3" fill="#8B0000"/>
<rect x="436.0" y="525.0" width="1.4" height="1.4" fill="#8B0000"/>
<rect x="425.3" y="510.2" width="1.3" height="1.3" fill="#8B0000"/>
<rect x="432.0" y="520.1" width="1.0" height="1.0" fill="#8B0000"/>
<rect x="417.1" y="493.0" width="1.1" height="1.1" fill="#8B0000"/>
<rect x="418.1" y="484.4" width="1.4" height="1.4" fill="#8B0000"/>
<rect x="419.4" y="480.2" width="1.2" height="1.2" fill="#8B0000"/>
<rect x="432.8" y="528.2" width="1.0" height="1.0" fill="#FFC800"/>
<rect x="421.8" y="502.2" width="1.3" height="1.3" fill="#8B0000"/>
<rect x="423.8" y="510.3" width="1.0" height="1.0" fill="#8B0000"/>
<rect x="431.2" y="517.7" width="0.9" height="0.9" fill="#8B0000"/>
<rect x="419.5" y="487.9" width="1.3" height="1.3" fill="#8B0000"/>
<rect x="432.7" y="527.4" width="1.3" height="1.3" fill="#8B0000"/>
<rect x="433.7" y="524.5" width="1.2" height="1.2" fill="#8B0000"/>
<rect x="634.5" y="221.1" width="1.2" height="1.2" fill="#8B0000"/>
<rect x="581.2" y="255.9" width="1.2" height="1.2" fill="#8B0000"/>
<rect x="603.6" y="248.8" width="1.4" height="1.4" fill="#FFC800"/>
<rect x="569.1" y="275.0" width="1.4" height="1.4" fill="#8B0000"/>
<rect x="574.0" y="267.5" width="1.0" height="1.0" fill="#8B0000"/>
<rect x="651.6" y="195.5" width="1.2" height="1.2" fill="#8B0000"/>
<rect x="618.6" y="245.8" width="1.5" height="1.5" fill="#8B0000"/>
<rect x="654.9" y="195.9" width="1.3" height="1.3" fill="#8B0000"/>
<rect x="631.6" y="238.4" width="1.0" height="1.0" fill="#FF7000"/>
<rect x="654.6" y="194.0" width="1.2" height="1.2" fill="#8B0000"/>
<rect x="560.3" y="283.3" width="1.5" height="1.5" fill="#8B0000"/>
<rect x="637.5" y="221.2" width="1.0" height="1.0" fill="#8B0000"/>
<rect x="604.9" y="251.0" width="1.4" height="1.4" fill="#8B0000"/>
<rect x="618.7" y="248.2" width="1.2" height="1.2" fill="#8B0000"/>
<rect x="636.6" y="229.0" width="1.2" height="1.2" fill="#FF1800"/>
<rect x="638.5" y="232.1" width="1.3" height="1.3" fill="#8B0000"/>
<rect x="590.5" y="256.3" width="1.4" height="1.4" fill="#8B0000"/>
<rect x="634.8" y="232.0" width="1.2" height="1.2" fill="#FF1800"/>
<rect x="604.1" y="248.7" width="1.5" height="1.5" fill="#FF1800"/>
<rect x="646.2" y="196.9" width="1.1" height="1.1" fill="#8B0000"/>
<rect x="615.1" y="251.1" width="1.1" height="1.1" fill="#8B0000"/>
<rect x="611.0" y="251.9" width="1.0" height="1.0" fill="#8B0000"/>
<rect x="604.0" y="251.2" width="1.0" height="1.0" fill="#FF1800"/>
<rect x="631.5" y="220.8" width="1.2" height="1.2" fill="#8B0000"/>
<rect x="572.7" y="262.3" width="1.0" height="1.0" fill="#8B0000"/>
<rect x="656.0" y="193.5" width="1.5" height="1.5" fill="#8B0000"/>
<rect x="571.8" y="276.5" width="1.5" height="1.5" fill="#FF1800"/>
<rect x="577.2" y="267.0" width="0.9" height="0.9" fill="#8B0000"/>
<rect x="626.7" y="244.2" width="1.5" height="1.5" fill="#8B0000"/>
<rect x="626.4" y="239.7" width="1.5" height="1.5" fill="#8B0000"/>
<rect x="634.7" y="230.4" width="1.2" height="1.2" fill="#8B0000"/>
<rect x="626.7" y="244.5" width="0.9" height="0.9" fill="#8B0000"/>
<rect x="632.4" y="231.3" width="1.3" height="1.3" fill="#FF7000"/>
<rect x="607.2" y="249.1" width="1.4" height="1.4" fill="#8B0000"/>
<rect x="614.1" y="251.2" width="1.3" height="1.3" fill="#8B0000"/>
<rect x="575.2" y="272.7" width="1.4" height="1.4" fill="#8B0000"/>
<rect x="597.3" y="254.8" width="1.4" height="1.4" fill="#FF1800"/>
<rect x="636.5" y="215.4" width="1.5" height="1.5" fill="#8B0000"/>
<rect x="561.2" y="283.4" width="1.4" height="1.4" fill="#8B0000"/>
<rect x="577.2" y="263.3" width="1.0" height="1.0" fill="#8B0000"/>
<rect x="566.0" y="285.9" width="1.1" height="1.1" fill="#8B0000"/>
<rect x="647.7" y="198.7" width="1.4" height="1.4" fill="#8B0000"/>
<rect x="636.8" y="213.2" width="1.4" height="1.4" fill="#8B0000"/>
<rect x="590.1" y="255.1" width="1.5" height="1.5" fill="#8B0000"/>
<rect x="583.6" y="259.3" width="1.4" height="1.4" fill="#8B0000"/>
<rect x="592.1" y="252.9" width="1.0" height="1.0" fill="#8B0000"/>
<rect x="640.4" y="236.2" width="1.5" height="1.5" fill="#8B0000"/>
<rect x="619.7" y="247.3" width="1.3" height="1.3" fill="#8B0000"/>
<rect x="644.8" y="207.3" width="1.4" height="1.4" fill="#8B0000"/>
<rect x="636.0" y="221.1" width="1.1" height="1.1" fill="#8B0000"/>
<rect x="606.1" y="252.7" width="1.2" height="1.2" fill="#8B0000"/>
<rect x="640.3" y="234.9" width="1.2" height="1.2" fill="#8B0000"/>
<rect x="636.5" y="235.1" width="1.4" height="1.4" fill="#8B0000"/>
<rect x="584.5" y="255.5" width="1.4" height="1.4" fill="#8B0000"/>
<rect x="585.1" y="256.6" width="1.4" height="1.4" fill="#8B0000"/>
<rect x="583.2" y="256.1" width="1.4" height="1.4" fill="#8B0000"/>
<rect x="647.9" y="199.0" width="1.1" height="1.1" fill="#8B0000"/>
<rect x="577.9" y="257.4" width="1.2" height="1.2" fill="#8B0000"/>
<rect x="623.8" y="246.6" width="1.5" height="1.5" fill="#8B0000"/>
<rect x="631.3" y="230.9" width="1.2" height="1.2" fill="#8B0000"/>
<rect x="637.7" y="242.1" width="1.2" height="1.2" fill="#8B0000"/>
<rect x="566.4" y="281.9" width="1.2" height="1.2" fill="#8B0000"/>
<rect x="574.9" y="269.3" width="1.1" height="1.1" fill="#8B0000"/>
<rect x="586.4" y="257.4" width="0.9" height="0.9" fill="#8B0000"/>
<rect x="612.6" y="251.7" width="1.1" height="1.1" fill="#8B0000"/>
<rect x="610.0" y="253.2" width="1.1" height="1.1" fill="#FF7000"/>
<rect x="587.7" y="255.9" width="1.0" height="1.0" fill="#8B0000"/>
<rect x="656.8" y="195.7" width="1.2" height="1.2" fill="#8B0000"/>
<rect x="649.8" y="195.4" width="1.4" height="1.4" fill="#8B0000"/>
<rect x="643.4" y="237.5" width="1.1" height="1.1" fill="#8B0000"/>
<path d="M581.0 256.5 L586.0 253.5 L595.0 251.0 L605.0 249.0 L612.0 247.6 L612.0 249.8 L603.0 251.8 L594.0 254.0 L585.0 257.0Z" fill="#FFA000"/>
<path d="M612.0 247.6 L618.0 246.5 L623.0 245.6 L622.5 247.8 L617.0 248.8 L612.0 249.8Z" fill="#FFF500"/>
<path d="M549.0 280.5 L552.0 281.0 L556.0 284.0 L560.0 287.0 L562.0 291.5 L559.0 293.0 L555.0 290.5 L551.0 286.5 L548.5 283.0Z" fill="#FFA000"/>
<path d="M540.0 280.0 L543.0 281.0 L541.0 286.0 L537.0 290.0 L536.5 296.0 L538.0 302.0 L540.0 308.0 L538.5 309.0 L535.0 304.0 L533.5 298.0 L532.5 292.0 L534.0 287.0 L537.0 283.0Z" fill="#80FF80"/>
<path d="M535.0 308.0 L540.0 308.0 L542.5 314.0 L543.5 320.0 L540.0 322.0 L537.0 318.0 L535.5 313.0Z" fill="#D5FF2A"/>
<path d="M535.0 320.0 L539.5 319.5 L544.0 322.0 L547.0 326.0 L547.0 331.0 L541.0 331.5 L536.0 327.0 L533.5 323.0Z" fill="#FFF500"/>
<path d="M533.5 305.0 L531.0 304.9 L525.5 303.5 L522.1 301.4 L518.7 300.1 L516.6 301.4" fill="none" stroke="#80FF80" stroke-width="1.4" stroke-linejoin="round" stroke-linecap="round"/>
<path d="M535.5 314.0 L528.9 311.7 L524.1 309.0" fill="none" stroke="#FFFFFF" stroke-width="0.9" stroke-linejoin="round" stroke-linecap="round"/>
<path d="M535.5 321.0 L528.9 319.9 L525.5 317.2" fill="none" stroke="#FFF500" stroke-width="1.2" stroke-linejoin="round" stroke-linecap="round"/>
<path d="M534.5 326.0 L529.0 325.0 L524.1 323.3" fill="none" stroke="#FFF500" stroke-width="1.1" stroke-linejoin="round" stroke-linecap="round"/>
<path d="M541.0 281.0 L544.0 278.0 L546.5 279.0" fill="none" stroke="#FFFFFF" stroke-width="0.9" stroke-linejoin="round" stroke-linecap="round"/>
<path d="M529.5 356.0 L536.0 355.0 L542.0 354.5 L547.0 352.0 L550.0 350.0 L551.0 356.0 L550.0 360.5 L542.0 364.0 L534.0 368.5 L530.4 370.0 L529.5 363.0Z" fill="#AAFF55"/>
<path d="M528.2 344.0 L536.0 343.0 L546.6 343.2 L547.0 346.5 L540.0 347.6 L533.0 348.0 L528.2 347.5Z" fill="#80FF80"/>
<path d="M534.8 353.5 L539.0 352.8 L541.4 354.0 L540.0 356.4 L536.0 356.4Z" fill="#FFF500"/>
<path d="M546.6 343.2 L550.1 349.8 L551.0 358.6 L549.7 360.8 L541.4 364.3 L532.6 369.5" fill="none" stroke="#FFFFFF" stroke-width="0.9" stroke-linejoin="round" stroke-linecap="round"/>
<path d="M200.0 461.0 L210.0 458.0 L230.0 458.4 L240.2 456.9 L251.9 454.5 L261.2 452.2 L269.0 451.4 L276.9 450.6 L284.7 450.6 L292.5 451.4 L300.3 450.6 L303.4 454.5 L300.3 468.6 L296.4 473.3 L294.8 476.4 L290.9 474.0 L284.7 470.9 L276.9 474.0 L269.0 474.0 L261.2 473.3 L253.4 467.8 L245.6 465.5 L237.8 465.0 L230.0 464.0 L220.0 463.0 L210.0 463.0 L203.0 463.5Z" fill="#E6DE9A"/>
<path d="M203.0 461.5 L215.0 459.5 L222.0 461.0 L222.0 463.5 L210.0 463.5 L203.0 463.5Z" fill="#FF7000"/>
<path d="M251.9 455.3 L256.0 456.0 L262.8 462.0 L262.0 464.7 L255.0 462.0Z" fill="#FF1800"/>
<path d="M255.0 464.0 L262.0 463.0 L264.4 467.0 L263.0 471.0 L257.0 470.0Z" fill="#FF7000"/>
<path d="M278.4 461.0 L283.0 459.5 L286.2 462.0 L285.0 466.2 L280.0 466.0Z" fill="#FFA000"/>
<path d="M272.0 453.0 L278.0 452.2 L283.0 454.0 L281.0 457.0 L274.0 457.0Z" fill="#AAFF55"/>
<path d="M286.0 452.0 L300.0 451.5 L302.5 455.0 L300.0 467.0 L296.0 473.0 L292.0 471.0 L288.0 462.0Z" fill="#80FF80"/>
<rect x="250.5" y="454.8" width="1.6" height="1.6" fill="#8B0000"/>
<rect x="251.0" y="458.6" width="1.1" height="1.1" fill="#8B0000"/>
<rect x="247.4" y="442.9" width="1.4" height="1.4" fill="#8B0000"/>
<rect x="242.3" y="443.7" width="1.7" height="1.7" fill="#8B0000"/>
<rect x="242.2" y="442.2" width="1.8" height="1.8" fill="#8B0000"/>
<rect x="251.6" y="441.9" width="1.8" height="1.8" fill="#8B0000"/>
<rect x="245.2" y="441.0" width="1.1" height="1.1" fill="#8B0000"/>
<rect x="251.6" y="445.1" width="1.2" height="1.2" fill="#8B0000"/>
<rect x="254.4" y="448.5" width="1.3" height="1.3" fill="#8B0000"/>
<rect x="247.6" y="453.9" width="1.0" height="1.0" fill="#8B0000"/>
<rect x="253.0" y="457.3" width="1.0" height="1.0" fill="#8B0000"/>
<rect x="253.8" y="445.8" width="1.5" height="1.5" fill="#8B0000"/>
<rect x="244.9" y="445.5" width="1.4" height="1.4" fill="#8B0000"/>
<rect x="253.0" y="456.1" width="1.7" height="1.7" fill="#8B0000"/>
<rect x="250.2" y="459.0" width="1.3" height="1.3" fill="#8B0000"/>
<rect x="244.2" y="444.6" width="1.1" height="1.1" fill="#8B0000"/>
<rect x="246.1" y="442.7" width="1.5" height="1.5" fill="#8B0000"/>
<rect x="254.5" y="447.9" width="1.3" height="1.3" fill="#8B0000"/>
<rect x="250.6" y="455.9" width="1.1" height="1.1" fill="#8B0000"/>
<rect x="246.7" y="440.6" width="1.7" height="1.7" fill="#8B0000"/>
<rect x="243.9" y="447.9" width="1.8" height="1.8" fill="#8B0000"/>
<rect x="247.1" y="448.7" width="1.6" height="1.6" fill="#8B0000"/>
<rect x="247.6" y="444.0" width="1.3" height="1.3" fill="#8B0000"/>
<rect x="240.9" y="446.0" width="1.8" height="1.8" fill="#8B0000"/>
<rect x="248.0" y="445.1" width="1.1" height="1.1" fill="#8B0000"/>
<rect x="253.7" y="455.6" width="1.6" height="1.6" fill="#8B0000"/>
<rect x="251.3" y="455.2" width="1.3" height="1.3" fill="#8B0000"/>
<rect x="252.1" y="443.7" width="1.4" height="1.4" fill="#8B0000"/>
<rect x="253.4" y="453.6" width="1.2" height="1.2" fill="#8B0000"/>
<rect x="248.9" y="443.0" width="1.5" height="1.5" fill="#8B0000"/>
<rect x="247.3" y="456.6" width="1.5" height="1.5" fill="#8B0000"/>
<rect x="254.0" y="445.3" width="1.5" height="1.5" fill="#8B0000"/>
<rect x="252.8" y="456.9" width="1.3" height="1.3" fill="#8B0000"/>
<rect x="254.9" y="457.9" width="1.6" height="1.6" fill="#8B0000"/>
<rect x="248.4" y="449.7" width="1.1" height="1.1" fill="#8B0000"/>
<rect x="247.5" y="453.6" width="1.6" height="1.6" fill="#8B0000"/>
<rect x="253.6" y="450.9" width="1.5" height="1.5" fill="#8B0000"/>
<rect x="246.4" y="452.0" width="1.6" height="1.6" fill="#8B0000"/>
<rect x="250.7" y="454.3" width="1.0" height="1.0" fill="#8B0000"/>
<rect x="241.2" y="447.6" width="1.5" height="1.5" fill="#8B0000"/>
<rect x="247.4" y="442.4" width="1.0" height="1.0" fill="#8B0000"/>
<rect x="240.7" y="444.6" width="1.1" height="1.1" fill="#8B0000"/>
<rect x="247.3" y="446.1" width="1.5" height="1.5" fill="#8B0000"/>
<rect x="249.8" y="442.7" width="1.7" height="1.7" fill="#8B0000"/>
<rect x="243.6" y="446.8" width="1.1" height="1.1" fill="#8B0000"/>
<rect x="254.6" y="446.0" width="1.0" height="1.0" fill="#8B0000"/>
<rect x="248.9" y="445.1" width="1.5" height="1.5" fill="#8B0000"/>
<rect x="246.4" y="456.5" width="1.5" height="1.5" fill="#8B0000"/>
<rect x="245.4" y="440.4" width="1.5" height="1.5" fill="#8B0000"/>
<rect x="249.3" y="451.8" width="1.1" height="1.1" fill="#8B0000"/>
<rect x="250.6" y="458.4" width="1.3" height="1.3" fill="#8B0000"/>
<rect x="246.6" y="442.4" width="1.2" height="1.2" fill="#8B0000"/>
<rect x="249.9" y="443.2" width="1.8" height="1.8" fill="#8B0000"/>
<rect x="247.9" y="447.0" width="1.3" height="1.3" fill="#8B0000"/>
<rect x="243.7" y="448.4" width="1.1" height="1.1" fill="#8B0000"/>
<rect x="250.4" y="447.6" width="1.2" height="1.2" fill="#8B0000"/>
<rect x="253.6" y="456.8" width="1.0" height="1.0" fill="#8B0000"/>
<rect x="248.7" y="443.6" width="1.7" height="1.7" fill="#8B0000"/>
<rect x="243.4" y="440.7" width="1.8" height="1.8" fill="#8B0000"/>
<rect x="243.9" y="451.6" width="1.4" height="1.4" fill="#8B0000"/>
<rect x="250.9" y="451.5" width="1.6" height="1.6" fill="#8B0000"/>
<rect x="244.0" y="449.8" width="1.3" height="1.3" fill="#8B0000"/>
<rect x="243.9" y="449.7" width="1.4" height="1.4" fill="#8B0000"/>
<rect x="243.0" y="447.9" width="1.7" height="1.7" fill="#8B0000"/>
<rect x="255.8" y="450.1" width="1.0" height="1.0" fill="#8B0000"/>
<rect x="253.6" y="447.3" width="1.5" height="1.5" fill="#8B0000"/>
<rect x="252.2" y="452.2" width="1.4" height="1.4" fill="#8B0000"/>
<rect x="241.9" y="444.1" width="1.7" height="1.7" fill="#8B0000"/>
<rect x="251.9" y="447.4" width="1.2" height="1.2" fill="#8B0000"/>
<rect x="253.6" y="458.9" width="1.1" height="1.1" fill="#8B0000"/>
<rect x="247.6" y="450.2" width="1.4" height="1.4" fill="#8B0000"/>
<rect x="244.6" y="440.7" width="1.5" height="1.5" fill="#8B0000"/>
<rect x="253.8" y="452.9" width="1.0" height="1.0" fill="#8B0000"/>
<rect x="240.7" y="444.0" width="1.7" height="1.7" fill="#8B0000"/>
<rect x="246.3" y="440.9" width="1.5" height="1.5" fill="#8B0000"/>
<rect x="245.6" y="438.7" width="1.0" height="1.0" fill="#8B0000"/>
<rect x="249.5" y="454.8" width="1.7" height="1.7" fill="#8B0000"/>
<rect x="240.7" y="447.4" width="1.3" height="1.3" fill="#8B0000"/>
<rect x="250.0" y="448.7" width="1.8" height="1.8" fill="#8B0000"/>
<rect x="250.6" y="449.1" width="1.7" height="1.7" fill="#8B0000"/>
<rect x="249.1" y="451.9" width="1.2" height="1.2" fill="#8B0000"/>
<rect x="249.0" y="443.1" width="1.6" height="1.6" fill="#8B0000"/>
<rect x="248.3" y="440.2" width="1.2" height="1.2" fill="#8B0000"/>
<rect x="245.4" y="454.7" width="1.1" height="1.1" fill="#8B0000"/>
<rect x="252.3" y="452.7" width="1.1" height="1.1" fill="#8B0000"/>
<rect x="247.6" y="444.8" width="1.6" height="1.6" fill="#8B0000"/>
<rect x="242.5" y="439.8" width="1.8" height="1.8" fill="#8B0000"/>
<rect x="251.3" y="456.7" width="1.1" height="1.1" fill="#8B0000"/>
<rect x="250.5" y="445.5" width="1.2" height="1.2" fill="#8B0000"/>
<rect x="244.7" y="451.7" width="1.3" height="1.3" fill="#8B0000"/>
<rect x="245.7" y="440.3" width="1.7" height="1.7" fill="#8B0000"/>
<rect x="251.0" y="456.3" width="1.3" height="1.3" fill="#8B0000"/>
<rect x="255.0" y="449.4" width="1.5" height="1.5" fill="#8B0000"/>
<rect x="249.5" y="454.8" width="1.3" height="1.3" fill="#8B0000"/>
<rect x="255.8" y="448.5" width="1.6" height="1.6" fill="#8B0000"/>
<rect x="255.8" y="451.9" width="1.3" height="1.3" fill="#8B0000"/>
<rect x="247.3" y="439.4" width="1.1" height="1.1" fill="#8B0000"/>
<rect x="241.2" y="446.0" width="1.3" height="1.3" fill="#8B0000"/>
<rect x="243.1" y="443.7" width="1.1" height="1.1" fill="#8B0000"/>
<rect x="243.7" y="442.6" width="1.4" height="1.4" fill="#8B0000"/>
<rect x="251.8" y="453.2" width="1.4" height="1.4" fill="#8B0000"/>
<rect x="251.4" y="444.0" width="1.5" height="1.5" fill="#8B0000"/>
<rect x="245.3" y="444.5" width="1.4" height="1.4" fill="#8B0000"/>
<rect x="253.6" y="446.8" width="1.0" height="1.0" fill="#8B0000"/>
<rect x="248.4" y="445.4" width="1.1" height="1.1" fill="#8B0000"/>
<rect x="247.8" y="459.5" width="1.0" height="1.0" fill="#8B0000"/>
<rect x="243.1" y="446.8" width="1.2" height="1.2" fill="#8B0000"/>
<rect x="248.2" y="446.7" width="1.4" height="1.4" fill="#8B0000"/>
<rect x="247.7" y="450.7" width="1.3" height="1.3" fill="#8B0000"/>
<rect x="250.5" y="454.4" width="1.7" height="1.7" fill="#8B0000"/>
<rect x="244.2" y="447.8" width="1.7" height="1.7" fill="#8B0000"/>
<rect x="242.5" y="439.8" width="1.2" height="1.2" fill="#8B0000"/>
<rect x="246.6" y="450.8" width="1.2" height="1.2" fill="#8B0000"/>
<rect x="243.7" y="446.0" width="1.1" height="1.1" fill="#8B0000"/>
<rect x="246.4" y="444.5" width="1.6" height="1.6" fill="#8B0000"/>
<rect x="249.1" y="458.5" width="1.5" height="1.5" fill="#8B0000"/>
<rect x="253.2" y="450.8" width="1.4" height="1.4" fill="#8B0000"/>
<rect x="254.3" y="452.7" width="1.8" height="1.8" fill="#8B0000"/>
<rect x="252.6" y="453.8" width="1.2" height="1.2" fill="#8B0000"/>
<rect x="254.2" y="446.2" width="1.1" height="1.1" fill="#8B0000"/>
<rect x="253.3" y="450.4" width="1.0" height="1.0" fill="#8B0000"/>
<rect x="242.6" y="447.3" width="1.3" height="1.3" fill="#8B0000"/>
<rect x="249.7" y="456.8" width="1.6" height="1.6" fill="#8B0000"/>
<rect x="247.2" y="447.4" width="1.4" height="1.4" fill="#8B0000"/>
<rect x="253.4" y="459.5" width="1.4" height="1.4" fill="#8B0000"/>
<rect x="249.5" y="448.6" width="1.7" height="1.7" fill="#8B0000"/>
<rect x="245.9" y="442.2" width="1.2" height="1.2" fill="#8B0000"/>
<rect x="242.8" y="445.4" width="1.2" height="1.2" fill="#8B0000"/>
<rect x="255.0" y="451.8" width="1.3" height="1.3" fill="#8B0000"/>
<rect x="252.4" y="458.6" width="1.2" height="1.2" fill="#8B0000"/>
<rect x="253.9" y="444.8" width="1.5" height="1.5" fill="#8B0000"/>
<rect x="255.3" y="452.0" width="1.6" height="1.6" fill="#8B0000"/>
<rect x="248.2" y="451.1" width="1.1" height="1.1" fill="#8B0000"/>
<rect x="245.8" y="444.6" width="1.0" height="1.0" fill="#8B0000"/>
<rect x="244.2" y="446.2" width="1.4" height="1.4" fill="#8B0000"/>
<rect x="252.1" y="446.6" width="1.8" height="1.8" fill="#8B0000"/>
<rect x="251.9" y="453.1" width="1.4" height="1.4" fill="#8B0000"/>
<rect x="254.0" y="445.7" width="1.5" height="1.5" fill="#8B0000"/>
<rect x="251.6" y="449.5" width="1.2" height="1.2" fill="#8B0000"/>
<rect x="245.1" y="450.9" width="1.6" height="1.6" fill="#8B0000"/>
<rect x="252.3" y="444.4" width="1.7" height="1.7" fill="#8B0000"/>
<rect x="255.9" y="453.5" width="1.7" height="1.7" fill="#8B0000"/>
<rect x="252.8" y="451.7" width="1.2" height="1.2" fill="#8B0000"/>
<rect x="248.3" y="458.5" width="1.2" height="1.2" fill="#8B0000"/>
<rect x="245.8" y="441.3" width="1.5" height="1.5" fill="#8B0000"/>
<rect x="250.3" y="446.3" width="1.1" height="1.1" fill="#8B0000"/>
<rect x="251.8" y="450.3" width="1.6" height="1.6" fill="#8B0000"/>
<rect x="242.3" y="444.3" width="1.2" height="1.2" fill="#8B0000"/>
<rect x="250.4" y="458.5" width="1.1" height="1.1" fill="#8B0000"/>
<rect x="250.7" y="455.4" width="1.2" height="1.2" fill="#8B0000"/>
<rect x="254.6" y="458.1" width="1.6" height="1.6" fill="#8B0000"/>
<rect x="246.3" y="447.2" width="1.4" height="1.4" fill="#8B0000"/>
<rect x="249.3" y="451.5" width="1.1" height="1.1" fill="#8B0000"/>
<rect x="250.9" y="453.6" width="1.6" height="1.6" fill="#8B0000"/>
<rect x="250.9" y="459.2" width="1.2" height="1.2" fill="#8B0000"/>
<rect x="251.9" y="457.2" width="1.4" height="1.4" fill="#8B0000"/>
<rect x="240.0" y="441.6" width="1.1" height="1.1" fill="#8B0000"/>
<rect x="253.2" y="454.7" width="1.7" height="1.7" fill="#8B0000"/>
<rect x="254.1" y="454.1" width="1.7" height="1.7" fill="#8B0000"/>
<rect x="242.1" y="446.0" width="1.4" height="1.4" fill="#8B0000"/>
<rect x="251.6" y="454.8" width="1.1" height="1.1" fill="#8B0000"/>
<rect x="246.1" y="450.0" width="1.3" height="1.3" fill="#8B0000"/>
<rect x="245.5" y="453.4" width="1.4" height="1.4" fill="#8B0000"/>
<rect x="252.4" y="444.1" width="1.1" height="1.1" fill="#8B0000"/>
<rect x="247.6" y="445.5" width="1.6" height="1.6" fill="#8B0000"/>
<rect x="243.8" y="449.0" width="1.6" height="1.6" fill="#8B0000"/>
<rect x="253.8" y="450.8" width="1.2" height="1.2" fill="#8B0000"/>
<rect x="246.4" y="442.7" width="1.5" height="1.5" fill="#8B0000"/>
<rect x="253.3" y="445.7" width="1.0" height="1.0" fill="#8B0000"/>
<rect x="243.0" y="448.0" width="1.3" height="1.3" fill="#8B0000"/>
<rect x="246.9" y="448.3" width="1.1" height="1.1" fill="#8B0000"/>
<rect x="251.7" y="449.2" width="1.0" height="1.0" fill="#8B0000"/>
<rect x="245.9" y="455.7" width="1.3" height="1.3" fill="#8B0000"/>
<rect x="249.9" y="458.7" width="1.5" height="1.5" fill="#8B0000"/>
<rect x="253.1" y="458.4" width="1.1" height="1.1" fill="#8B0000"/>
<rect x="253.6" y="447.1" width="1.8" height="1.8" fill="#8B0000"/>
<rect x="246.4" y="443.5" width="1.4" height="1.4" fill="#8B0000"/>
<rect x="240.5" y="441.1" width="1.4" height="1.4" fill="#8B0000"/>
<rect x="250.0" y="440.3" width="1.2" height="1.2" fill="#8B0000"/>
<rect x="246.6" y="443.4" width="1.6" height="1.6" fill="#8B0000"/>
<rect x="250.9" y="446.0" width="1.3" height="1.3" fill="#8B0000"/>
<rect x="247.6" y="451.0" width="1.8" height="1.8" fill="#8B0000"/>
<rect x="243.3" y="450.1" width="1.6" height="1.6" fill="#8B0000"/>
<rect x="253.4" y="447.1" width="1.4" height="1.4" fill="#8B0000"/>
<rect x="250.2" y="456.0" width="1.0" height="1.0" fill="#8B0000"/>
<rect x="245.7" y="445.3" width="1.0" height="1.0" fill="#8B0000"/>
<rect x="244.0" y="447.8" width="1.5" height="1.5" fill="#8B0000"/>
<rect x="248.6" y="454.1" width="1.7" height="1.7" fill="#8B0000"/>
<rect x="244.0" y="441.0" width="1.7" height="1.7" fill="#8B0000"/>
<rect x="252.7" y="449.7" width="1.3" height="1.3" fill="#8B0000"/>
<rect x="249.0" y="456.9" width="1.1" height="1.1" fill="#8B0000"/>
<rect x="245.0" y="448.9" width="1.5" height="1.5" fill="#8B0000"/>
<rect x="242.1" y="447.9" width="1.0" height="1.0" fill="#8B0000"/>
<rect x="243.3" y="443.6" width="1.6" height="1.6" fill="#8B0000"/>
<rect x="252.8" y="443.3" width="1.7" height="1.7" fill="#8B0000"/>
<rect x="250.5" y="446.3" width="1.5" height="1.5" fill="#8B0000"/>
<rect x="242.9" y="443.3" width="1.7" height="1.7" fill="#8B0000"/>
<rect x="241.5" y="440.3" width="1.0" height="1.0" fill="#8B0000"/>
<rect x="252.8" y="450.5" width="1.0" height="1.0" fill="#8B0000"/>
<rect x="247.9" y="457.9" width="1.0" height="1.0" fill="#8B0000"/>
<rect x="252.4" y="451.7" width="1.5" height="1.5" fill="#8B0000"/>
<rect x="251.0" y="458.4" width="1.6" height="1.6" fill="#8B0000"/>
<rect x="253.1" y="443.2" width="1.2" height="1.2" fill="#8B0000"/>
<rect x="248.3" y="458.6" width="1.4" height="1.4" fill="#8B0000"/>
<rect x="241.1" y="442.2" width="1.2" height="1.2" fill="#8B0000"/>
<rect x="250.4" y="452.6" width="1.1" height="1.1" fill="#8B0000"/>
<rect x="251.7" y="447.7" width="1.5" height="1.5" fill="#8B0000"/>
<rect x="243.4" y="448.9" width="1.4" height="1.4" fill="#8B0000"/>
<rect x="256.0" y="450.3" width="1.5" height="1.5" fill="#8B0000"/>
<rect x="246.4" y="455.8" width="1.7" height="1.7" fill="#8B0000"/>
<rect x="243.9" y="439.6" width="1.2" height="1.2" fill="#8B0000"/>
<rect x="244.7" y="439.5" width="1.5" height="1.5" fill="#8B0000"/>
<rect x="254.9" y="451.0" width="1.0" height="1.0" fill="#8B0000"/>
<rect x="250.7" y="454.4" width="1.2" height="1.2" fill="#8B0000"/>
<rect x="246.2" y="444.9" width="1.1" height="1.1" fill="#8B0000"/>
<rect x="253.8" y="458.5" width="1.4" height="1.4" fill="#8B0000"/>
<rect x="240.1" y="447.0" width="1.2" height="1.2" fill="#8B0000"/>
<rect x="243.8" y="439.6" width="1.4" height="1.4" fill="#8B0000"/>
<rect x="247.3" y="439.5" width="1.6" height="1.6" fill="#8B0000"/>
<rect x="248.9" y="447.5" width="1.2" height="1.2" fill="#8B0000"/>
<rect x="246.6" y="442.0" width="1.4" height="1.4" fill="#8B0000"/>
<rect x="250.7" y="459.0" width="1.3" height="1.3" fill="#8B0000"/>
<rect x="254.2" y="449.7" width="1.1" height="1.1" fill="#8B0000"/>
<rect x="247.3" y="447.6" width="1.7" height="1.7" fill="#8B0000"/>
<rect x="249.5" y="449.0" width="1.2" height="1.2" fill="#8B0000"/>
<rect x="252.9" y="443.1" width="1.4" height="1.4" fill="#8B0000"/>
<rect x="253.2" y="451.5" width="1.1" height="1.1" fill="#8B0000"/>
<rect x="246.9" y="451.9" width="1.7" height="1.7" fill="#8B0000"/>
<rect x="243.0" y="445.6" width="1.0" height="1.0" fill="#8B0000"/>
<rect x="253.3" y="445.1" width="1.5" height="1.5" fill="#8B0000"/>
<rect x="247.0" y="465.1" width="1.2" height="1.2" fill="#80FF80"/>
<rect x="252.8" y="465.9" width="1.3" height="1.3" fill="#FFF500"/>
<rect x="265.5" y="471.4" width="1.1" height="1.1" fill="#FFF500"/>
<rect x="272.1" y="451.1" width="1.6" height="1.6" fill="#80FF80"/>
<rect x="268.0" y="466.6" width="0.9" height="0.9" fill="#FFF500"/>
<rect x="203.1" y="462.5" width="1.5" height="1.5" fill="#FFFFFF"/>
<rect x="254.0" y="467.3" width="1.4" height="1.4" fill="#FFFFFF"/>
<rect x="247.6" y="457.5" width="1.6" height="1.6" fill="#80FF80"/>
<rect x="287.4" y="469.1" width="1.3" height="1.3" fill="#80FF80"/>
<rect x="205.4" y="460.1" width="1.2" height="1.2" fill="#FF7000"/>
<rect x="258.9" y="455.4" width="1.1" height="1.1" fill="#FF7000"/>
<rect x="243.6" y="460.4" width="1.6" height="1.6" fill="#FFFFFF"/>
<rect x="262.6" y="465.6" width="1.0" height="1.0" fill="#FFF500"/>
<rect x="263.5" y="472.4" width="1.0" height="1.0" fill="#FFFFFF"/>
<rect x="264.7" y="453.4" width="1.5" height="1.5" fill="#FFC800"/>
<rect x="214.1" y="460.4" width="1.1" height="1.1" fill="#FFC800"/>
<rect x="275.4" y="454.3" width="1.3" height="1.3" fill="#FFC800"/>
<rect x="271.4" y="460.5" width="1.0" height="1.0" fill="#FFFFFF"/>
<rect x="253.3" y="456.9" width="1.2" height="1.2" fill="#FF7000"/>
<rect x="251.1" y="464.0" width="1.6" height="1.6" fill="#80FF80"/>
<rect x="213.1" y="462.9" width="1.3" height="1.3" fill="#FF7000"/>
<rect x="295.2" y="470.2" width="1.2" height="1.2" fill="#FFFFFF"/>
<rect x="213.7" y="459.8" width="1.6" height="1.6" fill="#D3D3D3"/>
<rect x="268.3" y="468.7" width="1.0" height="1.0" fill="#FFC800"/>
<rect x="294.7" y="468.9" width="1.3" height="1.3" fill="#FFF500"/>
<rect x="276.7" y="469.0" width="1.5" height="1.5" fill="#D3D3D3"/>
<rect x="293.7" y="473.5" width="1.5" height="1.5" fill="#80FF80"/>
<rect x="259.6" y="466.9" width="1.3" height="1.3" fill="#FFFFFF"/>
<rect x="263.3" y="452.2" width="1.6" height="1.6" fill="#FFC800"/>
<rect x="291.5" y="469.7" width="1.4" height="1.4" fill="#80FF80"/>
<rect x="247.6" y="462.5" width="1.3" height="1.3" fill="#FFC800"/>
<rect x="253.5" y="458.4" width="0.9" height="0.9" fill="#FFF500"/>
<rect x="299.6" y="453.0" width="1.2" height="1.2" fill="#FF7000"/>
<rect x="293.2" y="459.9" width="1.0" height="1.0" fill="#80FF80"/>
<rect x="268.6" y="461.9" width="1.1" height="1.1" fill="#D3D3D3"/>
<rect x="269.3" y="455.4" width="1.5" height="1.5" fill="#FFFFFF"/>
<rect x="295.1" y="473.8" width="1.5" height="1.5" fill="#80FF80"/>
<rect x="211.7" y="462.7" width="1.5" height="1.5" fill="#80FF80"/>
<rect x="239.8" y="464.0" width="1.4" height="1.4" fill="#FF7000"/>
<rect x="287.6" y="466.9" width="1.1" height="1.1" fill="#80FF80"/>
<rect x="263.2" y="468.3" width="1.1" height="1.1" fill="#FFF500"/>
<rect x="267.5" y="465.2" width="1.2" height="1.2" fill="#FFC800"/>
<rect x="255.7" y="467.3" width="1.0" height="1.0" fill="#FFFFFF"/>
<rect x="278.5" y="464.4" width="1.1" height="1.1" fill="#FFF500"/>
<rect x="281.0" y="464.6" width="1.3" height="1.3" fill="#80FF80"/>
<rect x="288.3" y="468.9" width="1.6" height="1.6" fill="#FFFFFF"/>
<rect x="275.1" y="453.5" width="1.3" height="1.3" fill="#FFFFFF"/>
<rect x="294.6" y="460.2" width="1.5" height="1.5" fill="#80FF80"/>
<rect x="298.2" y="462.5" width="1.4" height="1.4" fill="#FFF500"/>
<rect x="285.1" y="467.3" width="1.0" height="1.0" fill="#FF7000"/>
<rect x="282.2" y="458.7" width="1.5" height="1.5" fill="#80FF80"/>
<rect x="245.9" y="464.9" width="1.2" height="1.2" fill="#D3D3D3"/>
<rect x="218.0" y="459.0" width="1.0" height="1.0" fill="#D3D3D3"/>
<rect x="275.3" y="472.7" width="1.6" height="1.6" fill="#FF7000"/>
<rect x="254.8" y="457.8" width="1.3" height="1.3" fill="#FF7000"/>
<rect x="258.2" y="458.4" width="1.5" height="1.5" fill="#FFFFFF"/>
<rect x="293.7" y="455.6" width="1.3" height="1.3" fill="#80FF80"/>
<rect x="259.6" y="455.4" width="1.3" height="1.3" fill="#FFC800"/>
<rect x="300.8" y="463.9" width="1.0" height="1.0" fill="#80FF80"/>
<rect x="296.8" y="462.4" width="1.2" height="1.2" fill="#D3D3D3"/>
<rect x="225.6" y="463.3" width="1.5" height="1.5" fill="#FFFFFF"/>
<rect x="225.4" y="463.5" width="1.3" height="1.3" fill="#FFFFFF"/>
<rect x="288.6" y="466.8" width="1.5" height="1.5" fill="#FF7000"/>
<rect x="285.8" y="466.6" width="1.5" height="1.5" fill="#FFC800"/>
<rect x="255.5" y="455.9" width="1.3" height="1.3" fill="#FFF500"/>
<rect x="261.0" y="453.7" width="1.3" height="1.3" fill="#80FF80"/>
<rect x="292.5" y="453.6" width="1.0" height="1.0" fill="#FFFFFF"/>
<rect x="286.5" y="461.4" width="1.2" height="1.2" fill="#FFF500"/>
<rect x="294.8" y="476.1" width="1.3" height="1.3" fill="#80FF80"/>
<rect x="286.6" y="471.7" width="0.9" height="0.9" fill="#80FF80"/>
<rect x="257.4" y="463.9" width="1.0" height="1.0" fill="#FFC800"/>
<rect x="296.4" y="452.6" width="1.2" height="1.2" fill="#80FF80"/>
<rect x="279.5" y="458.8" width="1.3" height="1.3" fill="#FFFFFF"/>
<rect x="287.8" y="454.9" width="1.2" height="1.2" fill="#80FF80"/>
<rect x="295.9" y="466.3" width="1.1" height="1.1" fill="#80FF80"/>
<rect x="297.7" y="465.4" width="1.6" height="1.6" fill="#80FF80"/>
<rect x="283.7" y="457.0" width="1.4" height="1.4" fill="#80FF80"/>
<rect x="280.9" y="472.0" width="1.5" height="1.5" fill="#FFFFFF"/>
<rect x="291.5" y="468.8" width="1.2" height="1.2" fill="#D3D3D3"/>
<rect x="275.2" y="451.9" width="1.2" height="1.2" fill="#FFFFFF"/>
<rect x="266.4" y="466.8" width="1.6" height="1.6" fill="#FFF500"/>
<rect x="269.3" y="459.1" width="1.3" height="1.3" fill="#FF7000"/>
<rect x="255.4" y="460.5" width="1.3" height="1.3" fill="#80FF80"/>
<rect x="272.9" y="470.6" width="0.9" height="0.9" fill="#80FF80"/>
<rect x="264.0" y="469.9" width="1.2" height="1.2" fill="#FFF500"/>
<rect x="257.2" y="463.7" width="1.3" height="1.3" fill="#80FF80"/>
<rect x="284.2" y="452.1" width="1.4" height="1.4" fill="#FFC800"/>
<rect x="216.6" y="462.7" width="1.2" height="1.2" fill="#FFF500"/>
<rect x="298.3" y="461.4" width="1.1" height="1.1" fill="#80FF80"/>
<rect x="255.2" y="463.0" width="1.6" height="1.6" fill="#FFF500"/>
<rect x="269.0" y="470.2" width="1.4" height="1.4" fill="#FFF500"/>
<rect x="260.9" y="467.1" width="1.4" height="1.4" fill="#FFFFFF"/>
<rect x="275.2" y="458.6" width="1.1" height="1.1" fill="#D3D3D3"/>
<rect x="274.8" y="456.8" width="0.9" height="0.9" fill="#D3D3D3"/>
<rect x="294.6" y="453.9" width="1.4" height="1.4" fill="#FFF500"/>
<rect x="205.2" y="461.3" width="1.5" height="1.5" fill="#FFF500"/>
<rect x="266.5" y="468.4" width="1.4" height="1.4" fill="#FFFFFF"/>
<rect x="284.8" y="453.7" width="1.0" height="1.0" fill="#FFF500"/>
<rect x="250.0" y="463.6" width="1.3" height="1.3" fill="#FFFFFF"/>
<rect x="288.0" y="457.4" width="1.4" height="1.4" fill="#FF7000"/>
<rect x="294.9" y="454.3" width="1.2" height="1.2" fill="#FFFFFF"/>
<rect x="236.8" y="459.1" width="1.0" height="1.0" fill="#FFFFFF"/>
<rect x="290.4" y="471.7" width="1.5" height="1.5" fill="#80FF80"/>
<rect x="280.0" y="462.0" width="1.2" height="1.2" fill="#FF7000"/>
<rect x="287.0" y="466.1" width="1.5" height="1.5" fill="#80FF80"/>
<rect x="260.4" y="462.5" width="1.3" height="1.3" fill="#FFFFFF"/>
<rect x="244.9" y="465.3" width="1.2" height="1.2" fill="#D3D3D3"/>
<rect x="262.8" y="468.8" width="1.4" height="1.4" fill="#FFFFFF"/>
<rect x="233.5" y="461.9" width="1.5" height="1.5" fill="#FFC800"/>
<rect x="271.5" y="457.5" width="1.6" height="1.6" fill="#FFC800"/>
<rect x="247.7" y="456.0" width="1.4" height="1.4" fill="#80FF80"/>
<rect x="270.4" y="465.8" width="1.4" height="1.4" fill="#D3D3D3"/>
<rect x="238.3" y="460.5" width="1.3" height="1.3" fill="#FFF500"/>
<rect x="284.4" y="456.0" width="1.0" height="1.0" fill="#FFF500"/>
<rect x="287.5" y="461.4" width="1.5" height="1.5" fill="#FFFFFF"/>
<rect x="267.5" y="456.6" width="1.4" height="1.4" fill="#FFF500"/>
<rect x="241.0" y="459.1" width="1.4" height="1.4" fill="#80FF80"/>
<rect x="251.3" y="464.5" width="1.4" height="1.4" fill="#FF7000"/>
<rect x="295.2" y="461.1" width="1.5" height="1.5" fill="#FF7000"/>
<rect x="266.6" y="464.1" width="1.5" height="1.5" fill="#FF7000"/>
<rect x="243.8" y="461.4" width="1.4" height="1.4" fill="#FFF500"/>
<rect x="244.2" y="457.9" width="0.9" height="0.9" fill="#80FF80"/>
<rect x="267.4" y="471.0" width="0.9" height="0.9" fill="#FFF500"/>
<rect x="247.7" y="465.8" width="0.9" height="0.9" fill="#80FF80"/>
<rect x="274.6" y="466.1" width="1.0" height="1.0" fill="#FFF500"/>
<rect x="278.8" y="458.4" width="1.5" height="1.5" fill="#FFC800"/>
<rect x="249.9" y="457.0" width="1.5" height="1.5" fill="#D3D3D3"/>
<rect x="299.5" y="463.0" width="1.1" height="1.1" fill="#80FF80"/>
<rect x="280.5" y="471.3" width="1.5" height="1.5" fill="#FFF500"/>
<rect x="292.8" y="473.6" width="1.1" height="1.1" fill="#FFFFFF"/>
<rect x="284.2" y="453.5" width="1.3" height="1.3" fill="#FF7000"/>
<rect x="259.5" y="454.8" width="1.5" height="1.5" fill="#FFF500"/>
<rect x="272.1" y="452.2" width="1.3" height="1.3" fill="#FF7000"/>
<rect x="271.0" y="471.1" width="0.9" height="0.9" fill="#FFFFFF"/>
<rect x="243.0" y="463.3" width="1.6" height="1.6" fill="#80FF80"/>
<rect x="232.9" y="460.9" width="1.6" height="1.6" fill="#FFC800"/>
<rect x="269.4" y="451.8" width="1.0" height="1.0" fill="#FFF500"/>
<rect x="269.4" y="468.2" width="1.4" height="1.4" fill="#FF7000"/>
<rect x="212.7" y="462.0" width="1.4" height="1.4" fill="#D3D3D3"/>
<rect x="249.4" y="457.9" width="1.4" height="1.4" fill="#FFF500"/>
<rect x="289.0" y="472.8" width="1.0" height="1.0" fill="#80FF80"/>
<rect x="278.5" y="465.0" width="1.0" height="1.0" fill="#FFF500"/>
<rect x="246.5" y="460.3" width="1.3" height="1.3" fill="#FFF500"/>
<rect x="203.8" y="462.5" width="1.0" height="1.0" fill="#FF7000"/>
<rect x="296.4" y="453.8" width="1.5" height="1.5" fill="#80FF80"/>
<rect x="240.1" y="458.9" width="0.9" height="0.9" fill="#FFFFFF"/>
<rect x="268.7" y="466.4" width="1.1" height="1.1" fill="#FFF500"/>
<rect x="211.1" y="460.2" width="1.5" height="1.5" fill="#FFC800"/>
<rect x="285.8" y="466.5" width="1.4" height="1.4" fill="#FFF500"/>
<rect x="293.9" y="464.8" width="1.3" height="1.3" fill="#80FF80"/>
<rect x="259.7" y="455.4" width="1.6" height="1.6" fill="#80FF80"/>
<rect x="268.6" y="471.0" width="1.2" height="1.2" fill="#FFF500"/>
<rect x="243.4" y="459.0" width="1.5" height="1.5" fill="#FFF500"/>
<rect x="295.2" y="454.6" width="1.1" height="1.1" fill="#D3D3D3"/>
<rect x="262.1" y="471.9" width="1.2" height="1.2" fill="#FFFFFF"/>
<rect x="278.6" y="472.9" width="1.3" height="1.3" fill="#80FF80"/>
<rect x="266.6" y="470.6" width="1.2" height="1.2" fill="#FFF500"/>
<rect x="212.3" y="461.0" width="1.0" height="1.0" fill="#FFFFFF"/>
<rect x="275.0" y="471.3" width="1.2" height="1.2" fill="#FFFFFF"/>
<rect x="210.7" y="459.3" width="1.5" height="1.5" fill="#D3D3D3"/>
<rect x="258.7" y="461.0" width="1.5" height="1.5" fill="#FFF500"/>
<rect x="271.8" y="472.3" width="1.0" height="1.0" fill="#FFF500"/>
<rect x="297.6" y="458.9" width="1.5" height="1.5" fill="#FFFFFF"/>
<rect x="276.1" y="466.1" width="1.1" height="1.1" fill="#D3D3D3"/>
<rect x="212.9" y="462.1" width="1.2" height="1.2" fill="#FFC800"/>
<rect x="254.7" y="456.5" width="1.2" height="1.2" fill="#FFFFFF"/>
<rect x="294.8" y="476.1" width="1.2" height="1.2" fill="#D3D3D3"/>
<rect x="283.7" y="456.0" width="1.3" height="1.3" fill="#FF7000"/>
<rect x="294.0" y="452.7" width="1.3" height="1.3" fill="#FFF500"/>
<rect x="293.1" y="472.0" width="1.4" height="1.4" fill="#FFFFFF"/>
<rect x="247.3" y="458.5" width="1.0" height="1.0" fill="#FFFFFF"/>
<rect x="280.8" y="471.0" width="1.0" height="1.0" fill="#D3D3D3"/>
<rect x="289.3" y="468.7" width="1.5" height="1.5" fill="#FFFFFF"/>
<rect x="236.8" y="462.8" width="1.5" height="1.5" fill="#FFF500"/>
<rect x="265.8" y="455.2" width="0.9" height="0.9" fill="#D3D3D3"/>
<rect x="290.4" y="469.3" width="1.6" height="1.6" fill="#80FF80"/>
<rect x="281.0" y="461.2" width="1.5" height="1.5" fill="#FFF500"/>
<rect x="252.1" y="458.0" width="1.5" height="1.5" fill="#FFF500"/>
<rect x="293.1" y="454.9" width="1.3" height="1.3" fill="#80FF80"/>
<rect x="245.8" y="464.3" width="0.9" height="0.9" fill="#FFC800"/>
<rect x="262.4" y="457.7" width="1.5" height="1.5" fill="#FFF500"/>
<rect x="278.6" y="456.6" width="1.3" height="1.3" fill="#FFF500"/>
<rect x="252.0" y="454.9" width="1.4" height="1.4" fill="#FFC800"/>
<rect x="281.4" y="464.0" width="1.5" height="1.5" fill="#FFC800"/>
<rect x="271.2" y="464.1" width="1.0" height="1.0" fill="#80FF80"/>
<rect x="281.1" y="454.5" width="1.1" height="1.1" fill="#FFC800"/>
<rect x="281.8" y="471.4" width="1.2" height="1.2" fill="#FFF500"/>
<rect x="262.1" y="469.3" width="1.5" height="1.5" fill="#FFC800"/>
<rect x="245.2" y="461.9" width="1.5" height="1.5" fill="#FFF500"/>
<rect x="259.2" y="464.7" width="1.1" height="1.1" fill="#D3D3D3"/>
<rect x="215.2" y="458.4" width="1.1" height="1.1" fill="#FFF500"/>
<rect x="264.6" y="464.2" width="1.3" height="1.3" fill="#FFF500"/>
<rect x="286.4" y="471.2" width="1.2" height="1.2" fill="#FFFFFF"/>
<rect x="272.7" y="469.0" width="1.0" height="1.0" fill="#80FF80"/>
<rect x="278.6" y="466.2" width="1.4" height="1.4" fill="#FFF500"/>
<rect x="200.3" y="461.1" width="1.0" height="1.0" fill="#FFC800"/>
<rect x="257.8" y="462.7" width="1.6" height="1.6" fill="#80FF80"/>
<rect x="270.7" y="469.4" width="1.3" height="1.3" fill="#80FF80"/>
<rect x="289.0" y="461.3" width="1.2" height="1.2" fill="#80FF80"/>
<rect x="206.1" y="459.3" width="1.5" height="1.5" fill="#FF7000"/>
<rect x="248.1" y="460.6" width="1.2" height="1.2" fill="#D3D3D3"/>
<rect x="281.3" y="455.8" width="1.0" height="1.0" fill="#FFFFFF"/>
<rect x="257.2" y="454.4" width="1.1" height="1.1" fill="#FFF500"/>
<rect x="248.6" y="458.3" width="1.6" height="1.6" fill="#FFFFFF"/>
<rect x="270.6" y="473.3" width="1.2" height="1.2" fill="#FFF500"/>
<rect x="237.7" y="457.4" width="1.0" height="1.0" fill="#FFF500"/>
<rect x="227.3" y="460.6" width="1.4" height="1.4" fill="#80FF80"/>
<rect x="227.9" y="459.7" width="1.6" height="1.6" fill="#FFF500"/>
<rect x="291.8" y="458.8" width="0.9" height="0.9" fill="#FFC800"/>
<rect x="232.5" y="461.4" width="1.0" height="1.0" fill="#FFC800"/>
<rect x="273.5" y="457.0" width="1.4" height="1.4" fill="#FF7000"/>
<rect x="242.2" y="460.4" width="1.1" height="1.1" fill="#D3D3D3"/>
<rect x="230.4" y="459.3" width="0.9" height="0.9" fill="#FFF500"/>
<rect x="301.5" y="458.0" width="1.1" height="1.1" fill="#80FF80"/>
<rect x="271.7" y="468.0" width="1.5" height="1.5" fill="#80FF80"/>
<rect x="209.3" y="461.5" width="0.9" height="0.9" fill="#FFFFFF"/>
<rect x="239.9" y="458.9" width="1.1" height="1.1" fill="#FFFFFF"/>
<rect x="216.5" y="460.9" width="1.0" height="1.0" fill="#FFFFFF"/>
<rect x="269.2" y="456.5" width="1.1" height="1.1" fill="#FFF500"/>
<rect x="260.6" y="468.9" width="1.4" height="1.4" fill="#FFC800"/>
<rect x="202.4" y="460.6" width="0.9" height="0.9" fill="#FFFFFF"/>
<rect x="251.5" y="465.8" width="1.1" height="1.1" fill="#FFFFFF"/>
<rect x="258.8" y="457.1" width="1.0" height="1.0" fill="#FF7000"/>
<rect x="299.3" y="459.8" width="1.4" height="1.4" fill="#80FF80"/>
<rect x="265.2" y="466.8" width="1.2" height="1.2" fill="#FFFFFF"/>
<rect x="291.5" y="460.3" width="1.0" height="1.0" fill="#FFF500"/>
<rect x="252.7" y="458.3" width="1.6" height="1.6" fill="#FFFFFF"/>
<rect x="256.6" y="460.6" width="1.2" height="1.2" fill="#FFF500"/>
<rect x="267.6" y="464.8" width="1.3" height="1.3" fill="#FFC800"/>
<rect x="234.7" y="459.4" width="1.1" height="1.1" fill="#D3D3D3"/>
<rect x="274.5" y="468.8" width="1.6" height="1.6" fill="#FF7000"/>
<rect x="285.7" y="454.3" width="1.2" height="1.2" fill="#FFC800"/>
<rect x="258.6" y="460.0" width="1.4" height="1.4" fill="#FFF500"/>
<rect x="255.5" y="456.4" width="1.1" height="1.1" fill="#FFF500"/>
<rect x="273.3" y="453.0" width="1.4" height="1.4" fill="#FFFFFF"/>
<rect x="290.1" y="473.5" width="1.2" height="1.2" fill="#FFFFFF"/>
<rect x="276.9" y="468.7" width="1.3" height="1.3" fill="#FFF500"/>
<rect x="266.7" y="453.4" width="1.1" height="1.1" fill="#FF7000"/>
<rect x="264.6" y="457.9" width="1.6" height="1.6" fill="#FF7000"/>
<rect x="220.2" y="459.6" width="1.5" height="1.5" fill="#FFC800"/>
<rect x="267.6" y="456.0" width="1.2" height="1.2" fill="#FF7000"/>
<rect x="270.2" y="455.8" width="1.5" height="1.5" fill="#FFF500"/>
<rect x="291.6" y="461.7" width="1.1" height="1.1" fill="#80FF80"/>
<rect x="259.2" y="457.4" width="1.1" height="1.1" fill="#FFFFFF"/>
<rect x="257.4" y="465.1" width="0.9" height="0.9" fill="#FFF500"/>
<rect x="279.1" y="468.1" width="1.1" height="1.1" fill="#FFF500"/>
<rect x="258.2" y="465.0" width="1.3" height="1.3" fill="#FFF500"/>
<rect x="286.0" y="456.8" width="1.5" height="1.5" fill="#FFFFFF"/>
<rect x="286.7" y="469.6" width="1.6" height="1.6" fill="#80FF80"/>
<rect x="256.1" y="468.2" width="0.9" height="0.9" fill="#FFF500"/>
<rect x="206.6" y="459.8" width="1.1" height="1.1" fill="#D3D3D3"/>
<rect x="251.5" y="458.3" width="1.4" height="1.4" fill="#FFC800"/>
<rect x="283.5" y="470.7" width="1.2" height="1.2" fill="#80FF80"/>
<rect x="287.4" y="461.0" width="0.9" height="0.9" fill="#FFC800"/>
<rect x="214.6" y="458.7" width="1.3" height="1.3" fill="#FF7000"/>
<rect x="265.2" y="462.1" width="0.9" height="0.9" fill="#FFFFFF"/>
<rect x="267.9" y="466.0" width="1.0" height="1.0" fill="#FFF500"/>
<rect x="213.6" y="458.2" width="1.1" height="1.1" fill="#FFF500"/>
<rect x="216.2" y="460.1" width="0.9" height="0.9" fill="#FFF500"/>
<rect x="287.3" y="470.6" width="1.1" height="1.1" fill="#80FF80"/>
<rect x="278.4" y="452.9" width="1.2" height="1.2" fill="#80FF80"/>
<rect x="300.1" y="455.9" width="1.5" height="1.5" fill="#80FF80"/>
<rect x="284.5" y="451.9" width="1.5" height="1.5" fill="#FFFFFF"/>
<rect x="291.7" y="471.0" width="1.0" height="1.0" fill="#80FF80"/>
<rect x="266.0" y="460.2" width="1.0" height="1.0" fill="#FFC800"/>
<rect x="289.1" y="467.0" width="1.5" height="1.5" fill="#80FF80"/>
<rect x="277.4" y="461.8" width="1.5" height="1.5" fill="#FFFFFF"/>
<rect x="252.2" y="460.1" width="0.9" height="0.9" fill="#FFC800"/>
<rect x="295.7" y="464.3" width="1.3" height="1.3" fill="#FFFFFF"/>
<rect x="215.8" y="462.7" width="1.4" height="1.4" fill="#80FF80"/>
<rect x="290.2" y="453.4" width="1.1" height="1.1" fill="#FFFFFF"/>
<rect x="287.4" y="467.5" width="1.5" height="1.5" fill="#D3D3D3"/>
<rect x="274.0" y="456.8" width="1.2" height="1.2" fill="#D3D3D3"/>
<rect x="266.9" y="452.0" width="1.5" height="1.5" fill="#FFC800"/>
<rect x="251.0" y="456.5" width="1.5" height="1.5" fill="#D3D3D3"/>
<rect x="280.2" y="464.8" width="1.5" height="1.5" fill="#80FF80"/>
<rect x="215.8" y="459.9" width="0.9" height="0.9" fill="#FFF500"/>
<rect x="286.7" y="453.2" width="0.9" height="0.9" fill="#FFFFFF"/>
<rect x="270.9" y="462.6" width="1.0" height="1.0" fill="#FFFFFF"/>
<rect x="267.5" y="464.4" width="1.6" height="1.6" fill="#FFFFFF"/>
<rect x="300.9" y="465.1" width="1.5" height="1.5" fill="#FFFFFF"/>
<rect x="272.8" y="472.8" width="1.4" height="1.4" fill="#80FF80"/>
<rect x="279.7" y="454.6" width="0.9" height="0.9" fill="#FFC800"/>
<rect x="274.6" y="473.5" width="1.0" height="1.0" fill="#D3D3D3"/>
<rect x="253.4" y="461.3" width="1.0" height="1.0" fill="#FFFFFF"/>
<rect x="299.0" y="452.1" width="1.2" height="1.2" fill="#FFF500"/>
<rect x="220.7" y="461.2" width="1.3" height="1.3" fill="#FFF500"/>
<rect x="238.2" y="459.0" width="1.4" height="1.4" fill="#FFC800"/>
<rect x="240.4" y="457.5" width="1.5" height="1.5" fill="#FFF500"/>
<rect x="280.0" y="452.8" width="1.2" height="1.2" fill="#FF7000"/>
<rect x="261.4" y="468.8" width="1.5" height="1.5" fill="#80FF80"/>
<rect x="290.8" y="468.0" width="1.2" height="1.2" fill="#80FF80"/>
<rect x="248.3" y="458.5" width="1.3" height="1.3" fill="#FF7000"/>
<rect x="286.2" y="467.5" width="0.9" height="0.9" fill="#80FF80"/>
<rect x="248.1" y="460.8" width="1.1" height="1.1" fill="#FF7000"/>
<rect x="302.9" y="455.7" width="1.3" height="1.3" fill="#80FF80"/>
<rect x="272.4" y="471.2" width="1.4" height="1.4" fill="#80FF80"/>
<rect x="300.9" y="462.8" width="1.0" height="1.0" fill="#FFFFFF"/>
<rect x="238.6" y="459.9" width="1.5" height="1.5" fill="#D3D3D3"/>
<rect x="211.3" y="461.1" width="1.6" height="1.6" fill="#FFC800"/>
<rect x="280.7" y="452.5" width="1.3" height="1.3" fill="#80FF80"/>
<rect x="268.9" y="463.8" width="1.1" height="1.1" fill="#FFFFFF"/>
<rect x="261.2" y="454.6" width="1.0" height="1.0" fill="#FFF500"/>
<rect x="293.4" y="471.9" width="1.6" height="1.6" fill="#80FF80"/>
<rect x="254.6" y="461.0" width="1.5" height="1.5" fill="#FFC800"/>
<rect x="300.2" y="461.2" width="1.5" height="1.5" fill="#80FF80"/>
<rect x="239.2" y="457.9" width="1.2" height="1.2" fill="#FFC800"/>
<rect x="280.7" y="460.5" width="1.1" height="1.1" fill="#FFF500"/>
<rect x="255.8" y="467.7" width="1.5" height="1.5" fill="#FFFFFF"/>
<rect x="258.3" y="453.7" width="1.5" height="1.5" fill="#80FF80"/>
<rect x="282.3" y="460.4" width="1.1" height="1.1" fill="#FFC800"/>
<rect x="212.1" y="458.4" width="1.0" height="1.0" fill="#FFC800"/>
<rect x="239.7" y="458.7" width="1.4" height="1.4" fill="#D3D3D3"/>
<rect x="254.1" y="464.2" width="1.2" height="1.2" fill="#FF7000"/>
<rect x="261.7" y="452.8" width="1.2" height="1.2" fill="#FF7000"/>
<rect x="272.2" y="472.7" width="1.4" height="1.4" fill="#FFF500"/>
<rect x="267.3" y="460.1" width="1.3" height="1.3" fill="#FFF500"/>
<rect x="210.1" y="460.7" width="1.1" height="1.1" fill="#FFF500"/>
<rect x="251.0" y="460.7" width="1.0" height="1.0" fill="#FFF500"/>
<rect x="264.2" y="468.4" width="1.3" height="1.3" fill="#FFF500"/>
<rect x="285.7" y="462.9" width="1.3" height="1.3" fill="#FFFFFF"/>
<rect x="295.0" y="472.2" width="1.2" height="1.2" fill="#80FF80"/>
<rect x="278.2" y="460.2" width="1.2" height="1.2" fill="#FFFFFF"/>
<rect x="212.3" y="458.6" width="1.0" height="1.0" fill="#FF7000"/>
<rect x="269.3" y="464.8" width="1.0" height="1.0" fill="#FFF500"/>
<rect x="222.0" y="461.2" width="1.5" height="1.5" fill="#FFC800"/>
<rect x="244.9" y="460.2" width="1.5" height="1.5" fill="#FF7000"/>
<rect x="221.0" y="459.3" width="1.1" height="1.1" fill="#FFF500"/>
<rect x="261.5" y="464.0" width="1.3" height="1.3" fill="#FFFFFF"/>
<rect x="287.6" y="459.7" width="1.4" height="1.4" fill="#FFFFFF"/>
<rect x="236.5" y="461.1" width="1.5" height="1.5" fill="#FFF500"/>
<rect x="283.5" y="456.9" width="1.0" height="1.0" fill="#FFF500"/>
<rect x="294.4" y="451.8" width="1.5" height="1.5" fill="#FFFFFF"/>
<rect x="247.4" y="463.1" width="1.4" height="1.4" fill="#FFF500"/>
<rect x="210.6" y="458.3" width="0.9" height="0.9" fill="#D3D3D3"/>
<rect x="272.6" y="465.3" width="1.1" height="1.1" fill="#FFC800"/>
<rect x="279.5" y="471.8" width="1.4" height="1.4" fill="#FFF500"/>
<rect x="255.6" y="466.5" width="1.4" height="1.4" fill="#FFF500"/>
<rect x="296.1" y="468.6" width="1.5" height="1.5" fill="#80FF80"/>
<rect x="263.3" y="472.4" width="1.0" height="1.0" fill="#80FF80"/>
<rect x="292.5" y="468.0" width="1.0" height="1.0" fill="#80FF80"/>
<rect x="250.4" y="457.4" width="1.1" height="1.1" fill="#FFF500"/>
<rect x="288.9" y="466.5" width="1.0" height="1.0" fill="#80FF80"/>
<rect x="278.0" y="469.0" width="1.3" height="1.3" fill="#FFC800"/>
<rect x="231.9" y="461.5" width="1.4" height="1.4" fill="#D3D3D3"/>
<rect x="256.4" y="463.0" width="1.1" height="1.1" fill="#FF7000"/>
<rect x="292.1" y="452.0" width="1.6" height="1.6" fill="#80FF80"/>
<rect x="268.3" y="451.9" width="1.0" height="1.0" fill="#80FF80"/>
<rect x="258.8" y="453.2" width="1.1" height="1.1" fill="#80FF80"/>
<rect x="290.7" y="451.7" width="0.9" height="0.9" fill="#FFF500"/>
<rect x="271.3" y="473.1" width="1.3" height="1.3" fill="#D3D3D3"/>
<rect x="236.8" y="463.5" width="1.4" height="1.4" fill="#FFF500"/>
<rect x="243.4" y="463.1" width="1.2" height="1.2" fill="#FFF500"/>
<rect x="258.4" y="453.6" width="1.1" height="1.1" fill="#FFFFFF"/>
<rect x="296.2" y="473.2" width="1.2" height="1.2" fill="#FFF500"/>
<rect x="261.4" y="468.5" width="1.3" height="1.3" fill="#FFC800"/>
<rect x="297.1" y="452.3" width="1.0" height="1.0" fill="#80FF80"/>
<rect x="262.9" y="472.9" width="1.4" height="1.4" fill="#D3D3D3"/>
<rect x="208.6" y="460.0" width="1.1" height="1.1" fill="#80FF80"/>
<rect x="254.2" y="459.5" width="1.6" height="1.6" fill="#FF7000"/>
<rect x="222.0" y="462.2" width="1.5" height="1.5" fill="#FFF500"/>
<rect x="263.5" y="466.1" width="1.3" height="1.3" fill="#FFC800"/>
<rect x="276.9" y="455.5" width="1.1" height="1.1" fill="#FFF500"/>
<rect x="252.4" y="461.9" width="1.3" height="1.3" fill="#FFF500"/>
<rect x="294.8" y="451.4" width="1.2" height="1.2" fill="#80FF80"/>
<rect x="223.5" y="458.6" width="1.0" height="1.0" fill="#FFF500"/>
<rect x="283.6" y="458.6" width="1.1" height="1.1" fill="#FFF500"/>
<rect x="273.0" y="456.4" width="1.5" height="1.5" fill="#D3D3D3"/>
<rect x="269.5" y="459.9" width="1.5" height="1.5" fill="#FF7000"/>
<rect x="270.3" y="453.3" width="1.3" height="1.3" fill="#FFFFFF"/>
<rect x="284.9" y="461.9" width="1.1" height="1.1" fill="#D3D3D3"/>
<rect x="270.4" y="455.0" width="1.3" height="1.3" fill="#80FF80"/>
<rect x="292.9" y="466.1" width="1.2" height="1.2" fill="#FFFFFF"/>
<rect x="279.3" y="460.8" width="1.0" height="1.0" fill="#FFF500"/>
<rect x="264.4" y="460.0" width="1.3" height="1.3" fill="#FFFFFF"/>
<rect x="233.0" y="459.6" width="1.3" height="1.3" fill="#D3D3D3"/>
<rect x="243.4" y="464.6" width="1.1" height="1.1" fill="#FFFFFF"/>
<rect x="295.0" y="456.3" width="1.5" height="1.5" fill="#D3D3D3"/>
<rect x="302.4" y="457.8" width="1.1" height="1.1" fill="#80FF80"/>
<rect x="257.7" y="460.9" width="1.1" height="1.1" fill="#FF7000"/>
<rect x="266.4" y="467.1" width="1.2" height="1.2" fill="#FFF500"/>
<rect x="283.3" y="467.6" width="1.4" height="1.4" fill="#FF7000"/>
<rect x="241.7" y="463.4" width="1.3" height="1.3" fill="#D3D3D3"/>
<rect x="266.5" y="451.7" width="0.9" height="0.9" fill="#FFF500"/>
<rect x="260.7" y="460.8" width="1.0" height="1.0" fill="#FFF500"/>
<rect x="265.9" y="452.8" width="0.9" height="0.9" fill="#FFFFFF"/>
<rect x="215.8" y="458.5" width="1.3" height="1.3" fill="#FF7000"/>
<rect x="296.3" y="467.5" width="1.1" height="1.1" fill="#FFFFFF"/>
<rect x="269.5" y="453.5" width="1.4" height="1.4" fill="#FFF500"/>
<rect x="291.6" y="453.2" width="1.1" height="1.1" fill="#80FF80"/>
<rect x="253.2" y="459.3" width="1.3" height="1.3" fill="#D3D3D3"/>
<rect x="294.7" y="475.2" width="1.4" height="1.4" fill="#FFF500"/>
<rect x="290.6" y="458.4" width="1.4" height="1.4" fill="#80FF80"/>
<rect x="267.5" y="470.2" width="1.2" height="1.2" fill="#FF7000"/>
<rect x="242.4" y="460.7" width="0.9" height="0.9" fill="#D3D3D3"/>
<rect x="227.5" y="463.3" width="1.1" height="1.1" fill="#80FF80"/>
<rect x="273.9" y="451.1" width="1.2" height="1.2" fill="#D3D3D3"/>
<rect x="301.8" y="456.2" width="1.0" height="1.0" fill="#FFF500"/>
<rect x="244.9" y="462.6" width="0.9" height="0.9" fill="#FF7000"/>
<rect x="210.7" y="458.9" width="0.9" height="0.9" fill="#FFF500"/>
<rect x="255.4" y="465.7" width="1.2" height="1.2" fill="#FFFFFF"/>
<rect x="273.3" y="451.4" width="1.3" height="1.3" fill="#D3D3D3"/>
<rect x="237.9" y="461.7" width="1.1" height="1.1" fill="#FFFFFF"/>
<rect x="299.7" y="458.0" width="1.3" height="1.3" fill="#D3D3D3"/>
<rect x="208.2" y="461.6" width="1.2" height="1.2" fill="#FFFFFF"/>
<rect x="265.4" y="471.8" width="1.3" height="1.3" fill="#80FF80"/>
<rect x="298.5" y="465.8" width="1.3" height="1.3" fill="#80FF80"/>
<rect x="257.3" y="457.4" width="1.4" height="1.4" fill="#FF7000"/>
<rect x="267.4" y="469.1" width="1.2" height="1.2" fill="#FFFFFF"/>
<rect x="211.1" y="462.8" width="1.5" height="1.5" fill="#80FF80"/>
<rect x="277.4" y="460.9" width="1.4" height="1.4" fill="#FFC800"/>
<rect x="273.9" y="453.5" width="1.2" height="1.2" fill="#FFF500"/>
<rect x="240.7" y="462.7" width="1.6" height="1.6" fill="#FFF500"/>
<rect x="288.6" y="463.1" width="1.5" height="1.5" fill="#FFFFFF"/>
<rect x="266.4" y="459.1" width="1.5" height="1.5" fill="#FFF500"/>
<rect x="275.0" y="465.6" width="1.5" height="1.5" fill="#FF7000"/>
<rect x="221.3" y="461.7" width="0.9" height="0.9" fill="#FFF500"/>
<rect x="290.7" y="466.8" width="1.2" height="1.2" fill="#80FF80"/>
<rect x="291.5" y="462.3" width="1.6" height="1.6" fill="#80FF80"/>
<rect x="281.7" y="460.8" width="1.4" height="1.4" fill="#FF7000"/>
<path d="M232.0 466.0 L240.0 465.6 L248.0 466.5 L254.0 469.0 L262.0 473.6 L270.0 474.4 L277.0 474.5 L285.0 471.5 L291.0 474.5 L295.0 476.8" fill="none" stroke="#FFFFFF" stroke-width="1.0" stroke-linejoin="round" stroke-linecap="round"/>
<path d="M655.3 238.5 L653.5 241.5 L648.0 242.5 L642.0 241.5 L630.3 243.4 L625.6 245.5 L623.3 249.3 L618.6 251.1 L606.9 254.0 L595.2 257.5 L580.0 260.4 L578.2 264.5 L577.5 270.0 L575.0 276.0 L571.0 281.0 L566.0 286.0 L561.0 291.0 L558.5 296.0 L557.9 299.3 L554.9 305.2 L551.0 311.0 L547.1 315.9 L544.2 320.8 L543.2 324.7 L543.2 330.5 L544.2 336.4 L546.1 341.3 L548.1 347.1 L551.0 353.0 L552.0 357.9 L549.1 360.8 L544.3 364.1 L534.1 369.2 L529.0 371.1 L518.9 373.0 L511.2 376.8 L506.2 383.2 L498.6 385.7 L490.9 387.0 L483.3 392.0 L478.2 398.4 L470.6 403.5 L463.0 408.6 L455.4 413.6 L449.0 418.7 L444.0 426.3 L441.4 433.9 L440.2 441.6 L439.8 450.0 L440.6 455.1 L443.2 462.7 L447.0 471.6 L452.1 480.5 L455.9 488.1 L458.4 495.7 L460.9 503.3 L463.5 509.7 L464.7 516.0 L465.4 523.6 L464.7 531.3 L463.5 538.9 L460.9 543.9 L457.1 546.5 L455.9 547.8 L450.8 547.8 L445.7 546.5 L441.9 541.4 L438.1 537.6 L434.3 532.5 L431.7 526.2 L429.2 522.4 L426.7 518.6 L422.9 513.5 L419.0 507.1 L416.5 503.3 L415.2 498.2 L414.0 491.9 L415.2 485.5 L415.2 479.2 L412.7 474.1 L408.9 470.3 L403.8 465.2 L399.6 463.4 L393.8 458.7 L390.2 456.9 L384.4 458.7 L379.7 462.2 L372.7 464.5 L366.8 463.4 L363.3 458.7 L358.6 455.2 L352.7 452.2 L346.9 450.5 L335.2 451.1 L323.4 452.8 L311.7 452.8 L303.1 451.6 L293.8 451.6 L270.3 452.8 L246.9 455.2 L223.4 456.3 L210.0 458.0 L200.0 461.0 L194.7 468.7 L186.5 472.8 L181.0 476.9 L172.8 481.0 L163.2 485.1 L155.0 490.6 L148.2 497.5 L142.7 505.7 L141.3 513.9 L142.7 522.1 L144.0 533.0 L142.7 541.2 L137.0 548.0 L132.0 552.0 L131.5 565.0 L131.5 580.0 L131.3 597.3 L133.0 608.3 L139.9 616.5 L142.7 627.4 L149.5 638.4 L157.7 647.9 L160.4 657.5 L168.6 667.1 L183.7 671.2 L190.5 673.9 L191.9 679.4 L197.4 680.7 L211.0 678.0 L224.7 673.9 L238.4 671.2 L249.3 668.4 L254.8 665.7 L262.8 659.8 L266.3 652.7 L268.7 646.9 L269.8 637.5 L272.2 628.1 L274.5 624.6 L282.7 622.3 L294.5 619.9 L306.2 617.6 L312.0 615.8 L323.8 616.4 L333.1 617.6 L339.0 623.4 L335.5 631.6 L329.6 637.5 L326.1 644.5 L326.1 650.4 L323.8 658.6 L322.6 665.6 L319.1 675.0 L316.7 682.0 L314.4 690.0 L311.5 702.1 L310.2 710.3 L308.0 716.0 L312.5 723.4 L323.4 723.4 L339.0 721.9 L354.7 720.3 L370.3 721.9 L382.8 723.4 L390.6 728.1 L400.0 732.8 L406.3 737.5 L406.3 750.0 L403.1 759.4 L400.0 767.2 L400.0 778.1 L398.4 787.5 L396.9 796.9 L395.3 806.3 L396.9 812.5 L403.1 821.9 L409.4 831.3 L417.2 840.6 L425.0 846.9 L432.8 851.6 L440.6 854.7 L448.4 853.1 L455.6 849.4 L467.3 845.5 L473.2 841.6 L483.0 841.6 L494.7 843.5 L504.5 849.4 L512.3 855.2" fill="none" stroke="#FFFFFF" stroke-opacity="0.75" stroke-width="0.8" stroke-linejoin="round"/>
<path d="M525.9 857.2 L533.8 851.3 L539.6 843.5 L545.5 837.7 L547.4 827.9 L551.3 818.1 L561.1 812.3 L568.9 814.2 L576.7 808.4 L588.4 808.4 L596.3 802.5 L604.1 796.6 L615.8 790.8 L623.6 786.9 L629.5 788.8 L631.4 794.7 L625.5 800.5 L617.7 804.5 L619.7 814.2 L623.6 818.1 L627.5 816.2 L640.0 809.3 L647.8 806.4 L648.0 796.0 L652.0 790.8 L657.0 792.0 L659.5 800.0 L665.4 804.5 L677.1 807.4 L684.9 814.2 L686.9 820.1 L694.7 824.0 L706.4 822.0 L724.0 820.1 L729.8 825.9 L741.6 829.8 L751.3 828.9 L761.1 822.0 L776.7 820.1 L788.4 819.8 L796.0 819.5 L806.0 819.5 L805.0 821.5 L796.0 822.0 L788.0 823.0 L787.8 825.0 L795.0 830.0 L800.0 834.0 L802.7 834.0" fill="none" stroke="#FFFFFF" stroke-opacity="0.75" stroke-width="0.8" stroke-linejoin="round"/>
<path d="M374.7 610.6 L384.1 605.9 L385.6 601.3 L391.9 596.6 L401.3 593.4 L410.6 590.3 L421.6 587.2 L432.5 586.4 L440.3 587.2 L451.3 588.8 L460.6 590.3 L470.0 594.2 L479.4 598.1 L488.8 599.5 L498.5 603.5 L509.5 610.5 L520.0 618.5 L530.0 623.3 L535.2 625.2 L546.9 626.1 L548.8 631.0 L558.6 633.0 L568.4 636.9 L575.2 641.8 L570.3 643.7 L558.6 645.7 L539.1 646.6 L519.5 646.6 L510.6 648.1 L509.1 645.0 L518.4 638.8 L520.0 634.1 L502.8 632.5 L495.0 623.1 L488.8 616.9 L479.4 615.3 L470.0 612.2 L457.5 607.5 L445.0 605.9 L438.8 605.9 L429.4 602.8 L426.3 601.3 L432.5 599.7 L434.1 597.3 L424.7 595.0 L415.3 595.8 L409.1 599.7 L404.4 601.3 L395.0 605.9 L385.6 609.1 L379.4 611.4 L374.7 610.6" fill="none" stroke="#FFFFFF" stroke-opacity="0.75" stroke-width="0.8" stroke-linejoin="round"/>
<path d="M332.0 162.5 L373.0 162.5 L372.5 169.8 L366.6 170.7 L362.7 171.7 L360.8 177.6 L353.0 179.5 L349.1 183.4 L349.1 189.3 L345.2 195.2 L344.5 201.0 L345.9 206.9 L348.3 211.6 L349.1 219.4 L347.5 227.2 L342.8 235.0 L336.6 239.7 L328.8 240.5 L324.1 236.6 L320.9 230.3 L320.2 219.4 L318.6 210.0 L320.9 199.1 L324.0 192.0 L320.0 188.0 L316.0 186.5 L316.5 183.5 L321.0 180.0 L326.0 175.0 L330.0 168.0Z" fill="#FFFFFF"/>
<path d="M325.6 188.0 L329.0 181.5 L333.0 174.6 L337.0 169.5" fill="none" stroke="#D3D3D3" stroke-width="1.6" stroke-linejoin="round" stroke-linecap="round"/>
<path d="M380.0 162.5 L455.0 162.5 L462.5 169.4 L465.6 175.6 L468.8 180.3 L465.6 185.0 L459.4 186.6 L451.6 183.4 L445.3 178.8 L440.0 175.0 L437.5 177.5 L441.0 182.0 L439.0 187.0 L435.5 192.0 L434.0 198.0 L432.5 204.0 L429.0 210.0 L422.0 215.0 L419.0 207.0 L416.0 200.0 L411.0 196.0 L404.7 198.5 L400.0 202.5 L396.0 204.0 L392.8 202.2 L394.4 197.5 L397.9 193.2 L401.8 189.3 L402.8 184.4 L403.8 175.6 L401.8 172.7 L395.0 170.0 L388.1 167.8 L380.3 164.9Z" fill="#FFFFFF"/>
<path d="M401.6 238.1 L406.2 233.4 L407.8 228.8 L412.5 225.6 L415.6 221.7 L420.3 224.0 L423.4 228.8 L431.2 225.6 L440.6 222.5 L450.0 220.9 L459.4 220.2 L468.8 217.8 L478.1 214.7 L484.4 213.1 L486.7 214.7 L485.9 217.8 L478.1 222.5 L468.8 227.2 L459.4 230.3 L450.0 233.4 L440.6 238.1 L431.2 241.2 L421.9 245.2 L412.5 243.6 L404.7 241.2Z" fill="#FFFFFF"/>
<path d="M471.9 208.4 L475.0 203.8 L482.8 200.6 L493.8 198.3 L506.2 196.7 L515.6 194.4 L525.0 192.8 L534.4 193.6 L537.5 197.5 L535.9 203.8 L528.1 206.9 L521.9 210.0 L512.5 210.0 L503.1 209.2 L493.8 209.2 L484.4 210.8 L476.6 210.8Z" fill="#FFFFFF"/>
<path d="M534.4 193.0 L548.4 183.4 L560.0 177.2 L570.0 172.0 L579.9 168.0 L589.3 163.3" fill="none" stroke="#FFFFFF" stroke-width="1.5" stroke-linejoin="round" stroke-linecap="round"/>
<path d="M526.0 163.5 L533.0 165.5 L540.0 167.8 L544.7 170.2 L555.6 167.0 L565.0 165.5 L579.0 168.6 L584.0 166.0 L588.4 163.9" fill="none" stroke="#FFFFFF" stroke-width="0.9" stroke-linejoin="round" stroke-linecap="round"/>
<path d="M579.0 168.6 L586.0 168.0 L588.4 163.9" fill="none" stroke="#FFFFFF" stroke-width="0.8" stroke-linejoin="round" stroke-linecap="round"/>
<path d="M592.0 176.0 L595.0 176.5 L593.0 183.0 L591.5 190.0 L590.0 197.5 L589.0 197.0 L590.0 189.0 L591.0 182.0Z" fill="#FFFFFF"/>
<ellipse cx="611.5" cy="175.5" rx="0.8" ry="2.2" transform="rotate(0 611.5 175.5)" fill="#FFFFFF"/>
<ellipse cx="637.5" cy="179.5" rx="1.5" ry="1.8" transform="rotate(0 637.5 179.5)" fill="#FFFFFF"/>
<ellipse cx="659.5" cy="165.5" rx="1.8" ry="1.5" transform="rotate(0 659.5 165.5)" fill="#FFFFFF"/>
<ellipse cx="674.5" cy="163.8" rx="1.2" ry="0.8" transform="rotate(0 674.5 163.8)" fill="#FFFFFF"/>
<ellipse cx="696" cy="164.5" rx="2.5" ry="1" transform="rotate(0 696 164.5)" fill="#FFFFFF"/>
<ellipse cx="365.6" cy="803.9" rx="12" ry="5" transform="rotate(35 365.6 803.9)" fill="#FFFFFF"/>
<ellipse cx="348.5" cy="789.8" rx="2.5" ry="2" transform="rotate(30 348.5 789.8)" fill="#FFFFFF"/>
<path d="M426.1 559.8 L432.6 559.8 L435.5 559.2 L440.2 557.5 L445.5 556.9 L450.1 555.1 L454.8 552.8 L457.2 551.6" fill="none" stroke="#FFFFFF" stroke-width="0.9" stroke-linejoin="round" stroke-linecap="round" stroke-dasharray="2 1.5"/>
<path d="M203.0 420.0 L205.0 421.0 L208.0 426.0 L210.0 430.0 L212.0 433.0 L211.5 436.5 L209.0 436.5 L208.5 432.0 L206.0 427.0 L203.5 422.5Z" fill="#FFFFFF"/>
<ellipse cx="212" cy="700" rx="4.5" ry="1.6" transform="rotate(10 212 700)" fill="#FFFFFF"/>
<path d="M223.0 713.5 L226.0 714.0 L232.0 717.5 L239.0 720.5 L240.0 722.5 L236.0 722.0 L230.0 719.5 L225.0 717.0Z" fill="#FFFFFF"/>
<ellipse cx="176" cy="711" rx="1.2" ry="1.6" transform="rotate(0 176 711)" fill="#FFFFFF"/>
<ellipse cx="139.5" cy="170.4" rx="1.2" ry="0.8" transform="rotate(0 139.5 170.4)" fill="#FFFFFF"/>
<ellipse cx="152.4" cy="164.5" rx="1.5" ry="0.7" transform="rotate(-30 152.4 164.5)" fill="#FFFFFF"/>
<ellipse cx="173.5" cy="166.9" rx="1.3" ry="0.7" transform="rotate(-20 173.5 166.9)" fill="#FFFFFF"/>
<ellipse cx="199.3" cy="190.3" rx="1" ry="0.8" transform="rotate(0 199.3 190.3)" fill="#FFFFFF"/>
<ellipse cx="256.7" cy="172.7" rx="0.9" ry="0.9" transform="rotate(0 256.7 172.7)" fill="#FFFFFF"/>
<ellipse cx="290.7" cy="212.6" rx="1" ry="0.8" transform="rotate(0 290.7 212.6)" fill="#FFFFFF"/>
<ellipse cx="297.7" cy="217.2" rx="0.8" ry="0.8" transform="rotate(0 297.7 217.2)" fill="#FFFFFF"/>
<ellipse cx="307.1" cy="223.1" rx="0.8" ry="0.8" transform="rotate(0 307.1 223.1)" fill="#FFFFFF"/>
<ellipse cx="311.8" cy="226.6" rx="0.7" ry="0.7" transform="rotate(0 311.8 226.6)" fill="#FFFFFF"/>
<ellipse cx="141.9" cy="189.1" rx="1" ry="0.7" transform="rotate(0 141.9 189.1)" fill="#FFFFFF"/>
<ellipse cx="146.6" cy="184.4" rx="1" ry="0.7" transform="rotate(0 146.6 184.4)" fill="#FFFFFF"/>
<ellipse cx="180.6" cy="202" rx="0.8" ry="0.8" transform="rotate(0 180.6 202)" fill="#FFFFFF"/>
<ellipse cx="182.9" cy="207.9" rx="0.8" ry="0.8" transform="rotate(0 182.9 207.9)" fill="#FFFFFF"/>
<ellipse cx="309.5" cy="196" rx="1.4" ry="2.2" transform="rotate(0 309.5 196)" fill="#FFFFFF"/>
<ellipse cx="216.3" cy="372" rx="2.2" ry="0.9" transform="rotate(0 216.3 372)" fill="#FFFFFF"/>
<ellipse cx="153" cy="384.8" rx="3.2" ry="1.8" transform="rotate(0 153 384.8)" fill="#FFFFFF"/>
<ellipse cx="349.3" cy="393" rx="0.9" ry="0.9" transform="rotate(0 349.3 393)" fill="#FFFFFF"/>
<ellipse cx="366.7" cy="335.6" rx="2.2" ry="0.8" transform="rotate(20 366.7 335.6)" fill="#FFFFFF"/>
<ellipse cx="476.8" cy="187.9" rx="3.2" ry="2.4" transform="rotate(0 476.8 187.9)" fill="#FFFFFF"/>
<ellipse cx="492" cy="186.8" rx="4.5" ry="1.2" transform="rotate(10 492 186.8)" fill="#FFFFFF"/>
<ellipse cx="521.3" cy="177.4" rx="1.6" ry="1.2" transform="rotate(0 521.3 177.4)" fill="#FFFFFF"/>
<ellipse cx="537.7" cy="183.3" rx="1.2" ry="2.8" transform="rotate(20 537.7 183.3)" fill="#FFFFFF"/>
<ellipse cx="542.4" cy="210.2" rx="2.5" ry="0.8" transform="rotate(15 542.4 210.2)" fill="#FFFFFF"/>
<ellipse cx="473.3" cy="325" rx="3" ry="1.2" transform="rotate(30 473.3 325)" fill="#FFFFFF"/>
<ellipse cx="493" cy="334.5" rx="4" ry="1.2" transform="rotate(15 493 334.5)" fill="#FFFFFF"/>
<ellipse cx="505" cy="335.5" rx="3.5" ry="1" transform="rotate(5 505 335.5)" fill="#FFFFFF"/>
<ellipse cx="392.4" cy="376.6" rx="1.4" ry="1.6" transform="rotate(0 392.4 376.6)" fill="#FFFFFF"/>
<ellipse cx="410" cy="373.7" rx="2.8" ry="0.9" transform="rotate(25 410 373.7)" fill="#FFFFFF"/>
<ellipse cx="420.5" cy="386" rx="3" ry="1.2" transform="rotate(25 420.5 386)" fill="#FFFFFF"/>
<ellipse cx="440.5" cy="381.9" rx="2.5" ry="0.6" transform="rotate(0 440.5 381.9)" fill="#FFFFFF"/>
<ellipse cx="461.5" cy="391.8" rx="2.5" ry="0.8" transform="rotate(0 461.5 391.8)" fill="#FFFFFF"/>
<ellipse cx="153.5" cy="385.2" rx="2.5" ry="1.4" transform="rotate(0 153.5 385.2)" fill="#FFFFFF"/>
<ellipse cx="347" cy="392.2" rx="2.8" ry="1.2" transform="rotate(0 347 392.2)" fill="#FFFFFF"/>
<ellipse cx="375" cy="443" rx="1.4" ry="1" transform="rotate(0 375 443)" fill="#FFFFFF"/>
<ellipse cx="420.5" cy="387" rx="2" ry="1.2" transform="rotate(30 420.5 387)" fill="#FFFFFF"/>
<ellipse cx="438.4" cy="383.5" rx="1.2" ry="0.8" transform="rotate(0 438.4 383.5)" fill="#FFFFFF"/>
<ellipse cx="460" cy="390.5" rx="1.5" ry="0.8" transform="rotate(0 460 390.5)" fill="#FFFFFF"/>
<path d="M232.1 185.6 L236.0 186.4 L239.2 188.0" fill="none" stroke="#FFFFFF" stroke-width="0.9" stroke-linejoin="round" stroke-linecap="round"/>
<path d="M254.4 197.3 L256.5 201.0 L256.0 205.0 L257.9 212.6" fill="none" stroke="#FFFFFF" stroke-width="0.9" stroke-linejoin="round" stroke-linecap="round"/>
<path d="M279.0 198.5 L280.0 195.0 L281.3 193.8" fill="none" stroke="#FFFFFF" stroke-width="1.0" stroke-linejoin="round" stroke-linecap="round"/>
<path d="M297.7 198.5 L302.0 197.0 L305.0 196.5" fill="none" stroke="#FFFFFF" stroke-width="0.9" stroke-linejoin="round" stroke-linecap="round"/>
<path d="M311.8 327.4 L313.5 333.0 L315.0 338.0 L317.5 346.1" fill="none" stroke="#FFFFFF" stroke-width="0.9" stroke-linejoin="round" stroke-linecap="round"/>
<path d="M313.5 328.0 L316.0 334.0 L318.8 340.0" fill="none" stroke="#FFFFFF" stroke-width="0.8" stroke-linejoin="round" stroke-linecap="round"/>
<path d="M323.5 367.2 L330.0 368.5 L336.4 373.1" fill="none" stroke="#FFFFFF" stroke-width="1.0" stroke-linejoin="round" stroke-linecap="round"/>
<path d="M474.5 175.0 L477.0 178.0 L479.2 182.1" fill="none" stroke="#FFFFFF" stroke-width="0.9" stroke-linejoin="round" stroke-linecap="round"/>
<path d="M486.2 186.0 L492.0 187.5 L497.9 186.5" fill="none" stroke="#FFFFFF" stroke-width="1.0" stroke-linejoin="round" stroke-linecap="round"/>
<path d="M518.0 218.0 L520.0 224.0" fill="none" stroke="#FFFFFF" stroke-width="0.5" stroke-linejoin="round" stroke-linecap="round"/>
<path d="M523.0 217.0 L523.5 223.5" fill="none" stroke="#FFFFFF" stroke-width="0.5" stroke-linejoin="round" stroke-linecap="round"/>
<path d="M527.0 216.5 L526.0 224.0" fill="none" stroke="#FFFFFF" stroke-width="0.5" stroke-linejoin="round" stroke-linecap="round"/>
<path d="M531.0 217.0 L533.0 223.0" fill="none" stroke="#FFFFFF" stroke-width="0.5" stroke-linejoin="round" stroke-linecap="round"/>
<path d="M535.0 218.5 L538.0 222.0" fill="none" stroke="#FFFFFF" stroke-width="0.5" stroke-linejoin="round" stroke-linecap="round"/>
<path d="M406.0 614.5 L412.0 615.5 L418.0 616.0 L424.0 615.5 L430.0 614.5 L436.0 613.5 L440.0 613.8" fill="none" stroke="#FFFFFF" stroke-width="0.8" stroke-linejoin="round" stroke-linecap="round" stroke-dasharray="3 2"/>
<path d="M476.0 625.0 L482.0 628.0 L489.0 632.5" fill="none" stroke="#FFFFFF" stroke-width="0.8" stroke-linejoin="round" stroke-linecap="round"/>
<path d="M438.0 585.5 L446.0 585.8 L452.0 586.5 L458.0 587.8 L464.0 589.5 L470.0 592.3 L476.0 595.4 L482.0 597.5" fill="none" stroke="#FFFFFF" stroke-width="0.9" stroke-linejoin="round" stroke-linecap="round" stroke-dasharray="2.5 1.5"/>
<path d="M492.0 600.5 L497.0 602.5 L502.0 605.0 L507.0 608.3" fill="none" stroke="#55FFAA" stroke-width="1.0" stroke-linejoin="round" stroke-linecap="round"/>
<ellipse cx="763" cy="814.3" rx="5" ry="1.3" transform="rotate(-10 763 814.3)" fill="#FFFFFF"/>
<ellipse cx="714" cy="797.6" rx="3" ry="1.2" transform="rotate(0 714 797.6)" fill="#FFFFFF"/>
<ellipse cx="683" cy="792.5" rx="2.2" ry="1.0" transform="rotate(30 683 792.5)" fill="#FFFFFF"/>
<path d="M666.0 787.0 L671.0 789.0 L676.0 793.0 L672.0 794.0 L667.0 791.0Z" fill="#D5FF2A"/>
<ellipse cx="654" cy="786" rx="1.0" ry="1.6" transform="rotate(30 654 786)" fill="#FFFFFF"/>
<ellipse cx="725.5" cy="798.3" rx="1" ry="0.8" transform="rotate(0 725.5 798.3)" fill="#FFFFFF"/>
<ellipse cx="754" cy="798.5" rx="0.8" ry="0.8" transform="rotate(0 754 798.5)" fill="#FFFFFF"/>
<ellipse cx="741" cy="814.8" rx="2.5" ry="0.9" transform="rotate(0 741 814.8)" fill="#FFFFFF"/>
<ellipse cx="756.6" cy="673" rx="5" ry="2.8" transform="rotate(-40 756.6 673)" fill="#FFFFFF"/>
<ellipse cx="751.5" cy="687.6" rx="2.5" ry="0.8" transform="rotate(0 751.5 687.6)" fill="#FFFFFF"/>
<path d="M648.9 232.8 L651.6 231.6 L653.7 233.6 L654.8 237.2 L654.4 240.5" fill="none" stroke="#FFFFFF" stroke-width="1.3" stroke-linejoin="round" stroke-linecap="round"/>
<ellipse cx="628.4" cy="203.1" rx="2.5" ry="1.6" transform="rotate(30 628.4 203.1)" fill="#FFFFFF"/>
<ellipse cx="610.6" cy="226.3" rx="1.0" ry="1.8" transform="rotate(0 610.6 226.3)" fill="#FFFFFF"/>
<path d="M545.0 557.0 L548.0 563.0 L551.0 569.0 L554.0 575.0 L557.0 581.0 L559.0 587.0" fill="none" stroke="#FFFFFF" stroke-width="0.9" stroke-linejoin="round" stroke-linecap="round" stroke-dasharray="2 1.6"/>
<path d="M556.0 578.0 L559.0 583.0 L562.0 589.0 L564.0 591.0" fill="none" stroke="#E8E8E8" stroke-width="1.1" stroke-linejoin="round" stroke-linecap="round"/>
<path d="M570.0 592.0 L575.0 596.0 L580.0 601.0 L582.5 602.5" fill="none" stroke="#FFFFFF" stroke-width="0.9" stroke-linejoin="round" stroke-linecap="round"/>
<ellipse cx="599" cy="600.8" rx="3.5" ry="1.0" transform="rotate(10 599 600.8)" fill="#FFFFFF"/>
<path d="M608.0 609.0 L614.0 609.5 L620.0 611.0 L626.0 614.0" fill="none" stroke="#E0E0E0" stroke-width="1.2" stroke-linejoin="round" stroke-linecap="round"/>
<path d="M497.0 547.0 L499.0 553.0 L503.0 561.0" fill="none" stroke="#FFFFFF" stroke-width="0.8" stroke-linejoin="round" stroke-linecap="round"/>
<path d="M486.0 520.0 L490.0 519.5 L495.0 519.0" fill="none" stroke="#FFFFFF" stroke-width="0.7" stroke-linejoin="round" stroke-linecap="round"/>
<path d="M469.0 861.0 L471.0 853.0 L478.0 850.0 L486.0 851.0 L493.0 856.0 L495.0 861.0Z" fill="#FFFFFF"/>
<path d="M446.0 478.9 L448.7 487.1 L450.8 496.0 L453.5 504.2 L454.5 508.5 L448.7 509.0 L443.9 510.4 L442.6 513.8 L437.1 516.5 L433.7 519.2 L433.0 524.7 L432.3 529.5 L433.7 532.9 L440.5 534.3 L447.4 535.7 L454.2 535.0 L461.0 534.3 L462.4 535.0 L463.8 531.6 L464.5 524.7 L463.8 514.5 L461.0 509.7 L458.3 502.8 L455.6 496.0 L451.5 487.1 L448.7 478.2 L447.0 474.0Z" fill="#8B0000"/>
<path d="M446.0 515.1 L451.5 511.0 L454.9 514.5 L452.8 520.6 L449.4 519.2Z" fill="none" stroke="#D8A8A8" stroke-width="0.8"/>
<path d="M441.0 536.0 L447.0 536.0 L450.0 540.0 L450.0 545.0 L446.0 545.0 L443.0 541.0Z" fill="#FFA000"/>
<path d="M447.5 535.5 L454.0 535.0 L457.5 538.0 L457.0 546.5 L451.0 547.0 L449.0 541.0Z" fill="#FF1800"/>
<path d="M444.0 543.5 L450.0 545.5 L456.0 548.0 L452.0 550.0 L446.0 548.5Z" fill="#FFF500"/>
<path d="M619.0 815.0 L623.6 818.5 L628.0 822.0 L630.0 830.0 L630.0 842.0 L626.0 850.5 L621.0 849.0 L618.0 842.0 L616.0 832.0 L618.0 823.0Z" fill="#D5FF2A"/>
<path d="M822.0 817.5 L830.8 814.4 L841.0 812.8 L841.0 850.0 L833.0 845.0 L824.0 838.0 L818.0 830.0Z" fill="#55FFAA"/>
<path d="M806.0 831.0 L815.0 829.5 L823.0 832.0 L833.0 843.0 L841.0 849.0 L841.0 861.0 L834.0 861.0 L826.0 850.0 L820.0 840.0 L810.0 835.0Z" fill="#2AFFD5"/>
<path d="M823.8 847.0 L830.0 851.0 L835.0 861.0 L826.0 861.0Z" fill="#00FFFF"/>
<path d="M787.8 822.0 L802.7 822.0 L806.0 826.0 L803.0 834.7 L795.0 832.0 L788.0 826.0Z" fill="#AAFF55"/>
<path d="M809.7 818.0 L817.0 817.5 L823.0 818.0 L822.5 825.0 L823.0 830.0 L815.0 831.6 L810.0 831.0Z" fill="#D3D3D3"/>
<path d="M802.7 834.0 L811.2 834.7 L817.5 839.4 L823.8 842.5 L826.1 845.6 L823.8 850.3 L826.9 858.1 L828.0 861.0 L790.0 861.0 L790.0 836.0Z" fill="#D3D3D3"/>
<path d="M806.0 840.0 L810.0 846.0 L812.0 852.0 L815.0 858.0" fill="none" stroke="#FFFFFF" stroke-width="0.8" stroke-linejoin="round" stroke-linecap="round"/>
<path d="M819.0 846.0 L821.0 852.0 L820.0 858.0" fill="none" stroke="#FFFFFF" stroke-width="0.7" stroke-linejoin="round" stroke-linecap="round"/>
<ellipse cx="809" cy="793.6" rx="1.2" ry="1.8" transform="rotate(20 809 793.6)" fill="#D3D3D3"/>
<ellipse cx="828" cy="809.6" rx="2.2" ry="0.9" transform="rotate(-30 828 809.6)" fill="#FFFFFF"/>
</g>
<rect x="129.5" y="162.5" width="711" height="698" fill="none" stroke="#000" stroke-width="1"/>
<path d="M185.5 860.5V877 M279.1 860.5V877 M372.8 860.5V877 M466.4 860.5V877 M560.0 860.5V877 M653.7 860.5V877 M747.3 860.5V877 M112 177.5H129.5 M112 271.1H129.5 M112 364.8H129.5 M112 458.4H129.5 M112 552.0H129.5 M112 645.6H129.5 M112 739.3H129.5 M112 832.9H129.5" stroke="#000" stroke-width="1" fill="none"/>
<text x="184.8" y="910.3" font-size="23" text-anchor="middle">95°W</text>
<text x="278.4" y="910.3" font-size="23" text-anchor="middle">90°W</text>
<text x="372.1" y="910.3" font-size="23" text-anchor="middle">85°W</text>
<text x="465.7" y="910.3" font-size="23" text-anchor="middle">80°W</text>
<text x="559.3" y="910.3" font-size="23" text-anchor="middle">75°W</text>
<text x="653.0" y="910.3" font-size="23" text-anchor="middle">70°W</text>
<text x="746.6" y="910.3" font-size="23" text-anchor="middle">65°W</text>
<text x="98.5" y="186.0" font-size="23" text-anchor="end">45°N</text>
<text x="98.5" y="279.6" font-size="23" text-anchor="end">40°N</text>
<text x="98.5" y="373.2" font-size="23" text-anchor="end">35°N</text>
<text x="98.5" y="466.9" font-size="23" text-anchor="end">30°N</text>
<text x="98.5" y="560.5" font-size="23" text-anchor="end">25°N</text>
<text x="98.5" y="654.1" font-size="23" text-anchor="end">20°N</text>
<text x="98.5" y="747.8" font-size="23" text-anchor="end">15°N</text>
<text x="98.5" y="841.4" font-size="23" text-anchor="end">10°N</text>
<text x="484.6" y="944.6" font-size="22.8" text-anchor="middle">Longitude</text>
<text transform="translate(41.2 511) rotate(-90)" font-size="22.8" text-anchor="middle">Latitude</text>
<text x="163.2" y="133.7" font-size="25" letter-spacing="0.5">2021013117</text>
<text x="656.6" y="128.5" font-size="25" letter-spacing="0.22">Elevation (m)</text>
<rect x="878.5" y="169.30" width="42.2" height="31.09" fill="#8B0000"/>
<rect x="878.5" y="200.39" width="42.2" height="31.09" fill="#B50000"/>
<rect x="878.5" y="231.47" width="42.2" height="31.09" fill="#E00000"/>
<rect x="878.5" y="262.56" width="42.2" height="31.09" fill="#FF1800"/>
<rect x="878.5" y="293.65" width="42.2" height="31.09" fill="#FF4500"/>
<rect x="878.5" y="324.73" width="42.2" height="31.09" fill="#FF7000"/>
<rect x="878.5" y="355.82" width="42.2" height="31.09" fill="#FFA000"/>
<rect x="878.5" y="386.90" width="42.2" height="31.09" fill="#FFC800"/>
<rect x="878.5" y="417.99" width="42.2" height="31.09" fill="#FFF500"/>
<rect x="878.5" y="449.08" width="42.2" height="31.09" fill="#D5FF2A"/>
<rect x="878.5" y="480.16" width="42.2" height="31.09" fill="#AAFF55"/>
<rect x="878.5" y="511.25" width="42.2" height="31.09" fill="#80FF80"/>
<rect x="878.5" y="542.34" width="42.2" height="31.09" fill="#55FFAA"/>
<rect x="878.5" y="573.42" width="42.2" height="31.09" fill="#2AFFD5"/>
<rect x="878.5" y="604.51" width="42.2" height="31.09" fill="#00FFFF"/>
<rect x="878.5" y="635.60" width="42.2" height="31.09" fill="#00C8FF"/>
<rect x="878.5" y="666.68" width="42.2" height="31.09" fill="#0095FF"/>
<rect x="878.5" y="697.77" width="42.2" height="31.09" fill="#0070FF"/>
<rect x="878.5" y="728.85" width="42.2" height="31.09" fill="#0040FF"/>
<rect x="878.5" y="759.94" width="42.2" height="31.09" fill="#0010FF"/>
<rect x="878.5" y="791.03" width="42.2" height="31.09" fill="#0000D0"/>
<rect x="878.5" y="822.11" width="42.2" height="31.09" fill="#0000A8"/>
<path d="M878.5 200.39H920.7 M878.5 231.47H920.7 M878.5 262.56H920.7 M878.5 293.65H920.7 M878.5 324.73H920.7 M878.5 355.82H920.7 M878.5 386.90H920.7 M878.5 417.99H920.7 M878.5 449.08H920.7 M878.5 480.16H920.7 M878.5 511.25H920.7 M878.5 542.34H920.7 M878.5 573.42H920.7 M878.5 604.51H920.7 M878.5 635.60H920.7 M878.5 666.68H920.7 M878.5 697.77H920.7 M878.5 728.85H920.7 M878.5 759.94H920.7 M878.5 791.03H920.7 M878.5 822.11H920.7" stroke="#000" stroke-width="1" fill="none"/>
<rect x="878.5" y="169.3" width="42.2" height="683.90" fill="none" stroke="#000" stroke-width="1"/>
<text x="960" y="211.9" font-size="32" text-anchor="middle">2</text>
<text x="960" y="274.1" font-size="32" text-anchor="middle">1.6</text>
<text x="960" y="336.2" font-size="32" text-anchor="middle">1.2</text>
<text x="960" y="398.4" font-size="32" text-anchor="middle">0.8</text>
<text x="960" y="460.6" font-size="32" text-anchor="middle">0.4</text>
<text x="960" y="522.8" font-size="32" text-anchor="middle">0</text>
<text x="960" y="584.9" font-size="32" text-anchor="middle">-0.4</text>
<text x="960" y="647.1" font-size="32" text-anchor="middle">-0.8</text>
<text x="960" y="709.3" font-size="32" text-anchor="middle">-1.2</text>
<text x="960" y="771.4" font-size="32" text-anchor="middle">-1.6</text>
<text x="960" y="833.6" font-size="32" text-anchor="middle">-2</text>
</svg></body></html>
